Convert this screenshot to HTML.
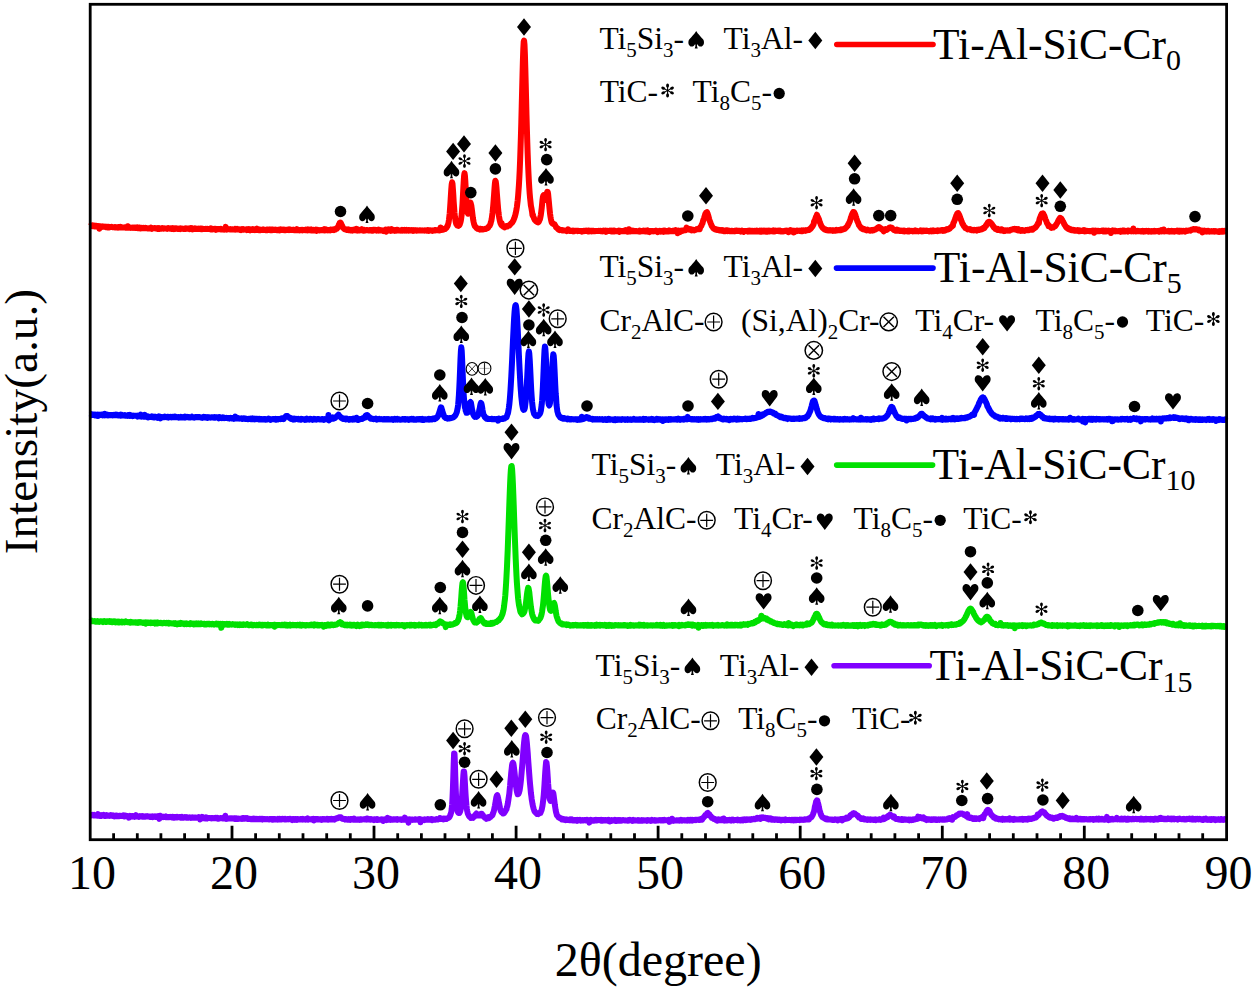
<!DOCTYPE html>
<html><head><meta charset="utf-8"><style>
html,body{margin:0;padding:0;background:#fff;width:1254px;height:988px;overflow:hidden}
svg{display:block}
text{font-family:"Liberation Serif",serif;fill:#000}
</style></head><body>
<svg width="1254" height="988" viewBox="0 0 1254 988">
<defs><g id="D"><path d="M0 -8.7L7 0L0 8.7L-7 0Z"/></g><g id="C"><circle r="5.8"/></g><g id="S"><path d="M0 -9.2C-1.6 -6.3 -4.8 -3.3 -6.8 -0.8C-8.4 1.3 -8.2 5.3 -5.6 6.3C-3.7 7 -2 5.8 -1 3.8L-0.75 6L-1.5 8.3L1.5 8.3L0.75 6L1 3.8C2 5.8 3.7 7 5.6 6.3C8.2 5.3 8.4 1.3 6.8 -0.8C4.8 -3.3 1.6 -6.3 0 -9.2Z"/></g><g id="H"><path d="M0 8.6L-7.2 -0.8C-8.5 -2.7 -8.3 -6.8 -5.5 -7.6C-3.3 -8.1 -1.2 -7.3 0 -4.6C1.2 -7.3 3.3 -8.1 5.5 -7.6C8.3 -6.8 8.5 -2.7 7.2 -0.8Z"/></g><g id="A"><path d="M-0.45 -0.40L-0.55 -2.90C-1.70 -3.40 -1.75 -6.60 0.00 -6.70C1.75 -6.60 1.70 -3.40 0.55 -2.90L0.45 -0.40ZM0.14 -0.59L2.30 -1.85C2.20 -3.10 5.01 -4.64 5.92 -3.15C6.65 -1.55 3.80 -0.10 2.82 -0.88L0.56 0.21ZM0.56 -0.21L2.82 0.88C3.80 0.10 6.65 1.55 5.92 3.15C5.01 4.64 2.20 3.10 2.30 1.85L0.14 0.59ZM0.45 0.40L0.55 2.90C1.70 3.40 1.75 6.60 0.00 6.70C-1.75 6.60 -1.70 3.40 -0.55 2.90L-0.45 0.40ZM-0.14 0.59L-2.30 1.85C-2.20 3.10 -5.01 4.64 -5.92 3.15C-6.65 1.55 -3.80 0.10 -2.82 0.88L-0.56 -0.21ZM-0.56 0.21L-2.82 -0.88C-3.80 -0.10 -6.65 -1.55 -5.92 -3.15C-5.01 -4.64 -2.20 -3.10 -2.30 -1.85L-0.14 -0.59Z"/><circle r="0.9"/></g><g id="P"><ellipse rx="8.4" ry="8.8" fill="none" stroke="#000" stroke-width="1.45"/><path d="M-6.4 0H6.4M0 -6.5V6.6" stroke="#000" stroke-width="1.2" fill="none"/></g><g id="X"><ellipse rx="8.7" ry="8.8" fill="none" stroke="#000" stroke-width="1.5"/><path d="M-5.2 -5.2L5.2 5.2M5.2 -5.2L-5.2 5.2" stroke="#000" stroke-width="1.4" fill="none"/></g><g id="p"><ellipse rx="6.4" ry="6.3" fill="none" stroke="#000" stroke-width="1.1"/><path d="M-5.2 0H5.2" stroke="#aaa" stroke-width="0.9"/><path d="M0 -5.4V5.4" stroke="#222" stroke-width="1.1" fill="none"/></g><g id="x"><ellipse rx="5.8" ry="6.4" fill="none" stroke="#000" stroke-width="1.1"/><path d="M-4 -4.3L4 4.3M4 -4.3L-4 4.3" stroke="#222" stroke-width="0.9" fill="none"/></g></defs>
<rect width="1254" height="988" fill="#fff"/>
<path d="M90.5 226.0L90.9 225.5L91.3 225.6L91.7 225.5L92.1 226.0L92.5 225.3L92.9 226.2L93.3 225.7L93.7 226.0L94.1 225.9L94.5 226.3L94.9 225.6L95.3 226.0L95.7 226.0L96.1 226.4L96.5 225.9L96.9 226.2L97.3 226.0L97.7 226.3L98.1 226.4L98.5 226.1L98.9 226.6L99.3 228.8L99.7 226.5L100.1 226.7L100.5 226.3L100.9 226.5L101.3 226.4L101.7 226.5L102.1 226.8L102.5 226.5L102.9 226.6L103.3 226.6L103.7 226.6L104.1 226.7L104.5 226.8L104.9 226.6L105.3 226.9L105.7 227.2L106.1 227.0L106.5 226.8L106.9 226.7L107.3 226.7L107.7 227.3L108.1 226.9L108.5 226.8L108.9 227.0L109.3 227.4L109.7 227.0L110.1 227.1L110.5 227.1L110.9 226.9L111.3 226.8L111.7 227.0L112.1 227.0L112.5 227.2L112.9 227.3L113.3 227.3L113.7 227.2L114.1 227.3L114.5 227.0L114.9 227.4L115.3 227.3L115.7 227.1L116.1 227.3L116.5 227.2L116.9 227.5L117.3 227.6L117.7 227.7L118.1 227.0L118.5 227.0L118.9 227.2L119.3 227.3L119.7 227.5L120.1 227.4L120.5 226.9L120.9 227.3L121.3 227.5L121.7 227.4L122.1 227.6L122.5 227.4L122.9 227.4L123.3 227.5L123.7 227.5L124.1 227.5L124.5 227.5L124.9 227.3L125.3 227.6L125.7 227.5L126.1 227.8L126.5 227.8L126.9 227.6L127.3 227.5L127.7 226.2L128.1 227.7L128.5 227.6L128.9 227.5L129.3 227.6L129.7 227.5L130.1 227.8L130.5 227.6L130.9 227.9L131.3 227.8L131.7 227.8L132.1 227.5L132.5 227.8L132.9 227.9L133.3 227.5L133.7 227.7L134.1 227.8L134.5 227.5L134.9 227.9L135.3 228.0L135.7 227.6L136.1 227.9L136.5 227.6L136.9 227.9L137.3 227.5L137.7 228.1L138.1 228.0L138.5 227.9L138.9 227.8L139.3 228.2L139.7 228.4L140.1 227.6L140.5 228.3L140.9 228.4L141.3 228.1L141.7 227.8L142.1 228.2L142.5 228.0L142.9 227.9L143.3 227.8L143.7 228.2L144.1 228.3L144.5 228.0L144.9 228.2L145.3 227.9L145.7 228.3L146.1 228.2L146.5 228.1L146.9 228.2L147.3 228.4L147.7 228.4L148.1 228.4L148.5 228.3L148.9 228.3L149.3 228.4L149.7 228.3L150.1 228.5L150.5 228.2L150.9 227.8L151.3 228.5L151.7 228.8L152.1 228.4L152.5 228.3L152.9 228.3L153.3 228.3L153.7 228.3L154.1 228.1L154.5 228.2L154.9 228.1L155.3 228.4L155.7 228.3L156.1 228.5L156.5 228.3L156.9 228.6L157.3 228.4L157.7 228.9L158.1 228.0L158.5 228.2L158.9 228.6L159.3 228.9L159.7 228.3L160.1 228.4L160.5 228.4L160.9 228.7L161.3 228.3L161.7 228.6L162.1 228.4L162.5 228.1L162.9 228.5L163.3 228.5L163.7 228.7L164.1 228.4L164.5 228.3L164.9 228.6L165.3 228.5L165.7 228.5L166.1 228.4L166.5 228.7L166.9 228.6L167.3 228.9L167.7 228.7L168.1 228.6L168.5 228.1L168.9 228.6L169.3 228.6L169.7 228.7L170.1 228.7L170.5 228.4L170.9 228.7L171.3 228.4L171.7 228.9L172.1 228.2L172.5 228.1L172.9 228.2L173.3 228.3L173.7 228.3L174.1 229.0L174.5 228.5L174.9 228.3L175.3 228.8L175.7 228.4L176.1 228.3L176.5 228.8L176.9 228.7L177.3 228.5L177.7 228.9L178.1 228.6L178.5 228.9L178.9 228.7L179.3 228.9L179.7 228.6L180.1 228.3L180.5 229.1L180.9 228.5L181.3 228.6L181.7 228.5L182.1 228.6L182.5 228.7L182.9 228.7L183.3 228.8L183.7 229.0L184.1 228.6L184.5 228.4L184.9 228.4L185.3 228.5L185.7 228.3L186.1 228.8L186.5 228.6L186.9 228.6L187.3 228.7L187.7 228.4L188.1 228.5L188.5 228.8L188.9 228.8L189.3 228.6L189.7 229.1L190.1 228.4L190.5 228.6L190.9 228.7L191.3 228.1L191.7 229.1L192.1 229.3L192.5 228.5L192.9 229.2L193.3 228.9L193.7 228.8L194.1 228.6L194.5 228.8L194.9 228.4L195.3 228.9L195.7 228.7L196.1 228.8L196.5 229.0L196.9 228.8L197.3 228.8L197.7 228.8L198.1 228.6L198.5 229.0L198.9 229.1L199.3 229.0L199.7 229.0L200.1 228.6L200.5 228.6L200.9 228.5L201.3 229.1L201.7 228.8L202.1 229.1L202.5 228.7L202.9 228.8L203.3 228.9L203.7 229.1L204.1 228.9L204.5 228.9L204.9 228.9L205.3 228.9L205.7 228.7L206.1 228.9L206.5 228.9L206.9 228.9L207.3 229.0L207.7 228.8L208.1 228.9L208.5 228.9L208.9 229.1L209.3 229.1L209.7 228.8L210.1 229.1L210.5 229.4L210.9 228.4L211.3 228.8L211.7 228.8L212.1 229.0L212.5 229.4L212.9 229.0L213.3 228.9L213.7 229.2L214.1 228.9L214.5 229.3L214.9 229.1L215.3 229.4L215.7 228.9L216.1 229.8L216.5 229.3L216.9 229.2L217.3 229.1L217.7 229.0L218.1 228.9L218.5 229.1L218.9 229.0L219.3 229.2L219.7 229.0L220.1 229.3L220.5 229.4L220.9 229.0L221.3 229.4L221.7 229.1L222.1 229.5L222.5 229.3L222.9 229.5L223.3 229.0L223.7 229.2L224.1 229.6L224.5 229.1L224.9 228.8L225.3 228.8L225.7 226.9L226.1 228.8L226.5 228.7L226.9 229.6L227.3 228.7L227.7 229.4L228.1 229.3L228.5 229.3L228.9 229.3L229.3 229.3L229.7 229.4L230.1 229.1L230.5 229.6L230.9 229.6L231.3 229.3L231.7 229.5L232.1 229.2L232.5 229.3L232.9 229.4L233.3 229.4L233.7 229.3L234.1 229.3L234.5 229.3L234.9 229.6L235.3 229.0L235.7 229.5L236.1 229.4L236.5 229.6L236.9 229.6L237.3 228.9L237.7 229.6L238.1 229.6L238.5 229.5L238.9 229.4L239.3 229.7L239.7 229.4L240.1 229.9L240.5 229.7L240.9 230.0L241.3 229.4L241.7 229.2L242.1 229.7L242.5 229.8L242.9 229.6L243.3 229.2L243.7 229.5L244.1 229.7L244.5 229.6L244.9 229.6L245.3 229.6L245.7 229.4L246.1 229.5L246.5 229.3L246.9 230.0L247.3 229.5L247.7 229.8L248.1 229.4L248.5 229.8L248.9 229.3L249.3 229.9L249.7 229.7L250.1 230.2L250.5 229.4L250.9 229.7L251.3 229.8L251.7 230.0L252.1 229.6L252.5 229.7L252.9 229.2L253.3 229.5L253.7 229.8L254.1 230.0L254.5 229.7L254.9 230.2L255.3 230.1L255.7 229.7L256.1 229.2L256.5 229.3L256.9 228.7L257.3 230.0L257.7 229.8L258.1 229.3L258.5 229.7L258.9 230.1L259.3 229.7L259.7 229.6L260.1 230.2L260.5 229.8L260.9 229.7L261.3 229.8L261.7 229.8L262.1 229.7L262.5 230.0L262.9 230.0L263.3 229.3L263.7 229.8L264.1 230.0L264.5 229.8L264.9 229.9L265.3 230.0L265.7 230.0L266.1 230.2L266.5 229.9L266.9 229.4L267.3 229.5L267.7 230.1L268.1 229.7L268.5 229.9L268.9 229.6L269.3 230.0L269.7 229.7L270.1 230.1L270.5 229.7L270.9 230.1L271.3 230.0L271.7 229.7L272.1 230.1L272.5 229.6L272.9 229.6L273.3 230.0L273.7 229.7L274.1 229.7L274.5 229.8L274.9 229.6L275.3 230.1L275.7 230.0L276.1 229.8L276.5 229.8L276.9 230.0L277.3 230.2L277.7 230.0L278.1 229.7L278.5 230.0L278.9 229.8L279.3 229.8L279.7 230.3L280.1 229.8L280.5 229.8L280.9 229.4L281.3 229.6L281.7 230.0L282.1 229.7L282.5 230.0L282.9 229.6L283.3 229.7L283.7 229.6L284.1 230.2L284.5 230.0L284.9 230.2L285.3 230.3L285.7 230.1L286.1 229.7L286.5 229.9L286.9 230.0L287.3 229.8L287.7 230.0L288.1 229.6L288.5 229.7L288.9 230.0L289.3 229.4L289.7 229.7L290.1 229.9L290.5 229.6L290.9 229.9L291.3 229.8L291.7 229.9L292.1 229.9L292.5 230.0L292.9 229.8L293.3 230.0L293.7 229.8L294.1 230.1L294.5 230.3L294.9 230.0L295.3 230.0L295.7 229.7L296.1 230.1L296.5 229.8L296.9 229.1L297.3 230.1L297.7 230.0L298.1 230.2L298.5 230.3L298.9 229.9L299.3 230.0L299.7 230.4L300.1 230.2L300.5 230.1L300.9 230.3L301.3 229.9L301.7 230.1L302.1 230.3L302.5 230.4L302.9 229.8L303.3 229.9L303.7 230.1L304.1 229.9L304.5 229.9L304.9 230.2L305.3 229.9L305.7 229.6L306.1 230.1L306.5 229.9L306.9 229.9L307.3 229.7L307.7 230.3L308.1 229.5L308.5 229.7L308.9 230.0L309.3 230.3L309.7 230.3L310.1 229.8L310.5 230.0L310.9 229.7L311.3 230.3L311.7 229.7L312.1 230.0L312.5 230.3L312.9 230.0L313.3 230.4L313.7 229.9L314.1 230.1L314.5 230.3L314.9 230.0L315.3 230.4L315.7 230.2L316.1 229.7L316.5 230.9L316.9 230.3L317.3 230.1L317.7 229.8L318.1 230.1L318.5 230.0L318.9 230.2L319.3 230.2L319.7 230.5L320.1 230.1L320.5 230.2L320.9 230.2L321.3 230.1L321.7 230.0L322.1 230.3L322.5 230.3L322.9 229.9L323.3 229.8L323.7 230.1L324.1 230.3L324.5 229.2L324.9 230.5L325.3 229.9L325.7 230.1L326.1 229.5L326.5 229.9L326.9 230.0L327.3 230.2L327.7 230.4L328.1 230.0L328.5 230.3L328.9 230.2L329.3 230.2L329.7 229.9L330.1 230.3L330.5 229.7L330.9 230.1L331.3 229.7L331.7 229.8L332.1 229.6L332.5 229.7L332.9 229.9L333.3 229.8L333.7 229.4L334.1 230.0L334.5 229.7L334.9 229.7L335.3 229.6L335.7 229.1L336.1 228.6L336.5 228.6L336.9 228.7L337.3 227.8L337.7 227.6L338.1 226.6L338.5 226.0L338.9 224.5L339.3 224.1L339.7 223.0L340.1 222.7L340.5 222.5L340.9 223.2L341.3 223.9L341.7 225.1L342.1 225.5L342.5 226.5L342.9 227.6L343.3 228.0L343.7 228.4L344.1 228.8L344.5 229.2L344.9 229.1L345.3 229.5L345.7 229.3L346.1 229.5L346.5 229.9L346.9 230.0L347.3 229.6L347.7 230.0L348.1 229.7L348.5 230.1L348.9 229.5L349.3 229.7L349.7 229.9L350.1 230.0L350.5 230.4L350.9 230.3L351.3 230.4L351.7 230.4L352.1 230.0L352.5 230.6L352.9 230.4L353.3 230.1L353.7 230.1L354.1 229.9L354.5 230.1L354.9 229.5L355.3 230.1L355.7 230.0L356.1 230.3L356.5 228.9L356.9 230.1L357.3 230.5L357.7 230.0L358.1 230.3L358.5 229.8L358.9 230.2L359.3 230.3L359.7 230.4L360.1 230.0L360.5 230.3L360.9 230.3L361.3 230.2L361.7 230.3L362.1 229.2L362.5 230.3L362.9 230.0L363.3 230.0L363.7 230.8L364.1 230.7L364.5 229.9L364.9 230.3L365.3 230.4L365.7 230.4L366.1 230.3L366.5 230.0L366.9 230.2L367.3 230.1L367.7 230.3L368.1 230.2L368.5 230.2L368.9 230.5L369.3 230.5L369.7 230.0L370.1 230.2L370.5 230.1L370.9 230.5L371.3 230.2L371.7 230.6L372.1 230.2L372.5 230.3L372.9 230.0L373.3 230.6L373.7 230.2L374.1 229.9L374.5 230.1L374.9 229.8L375.3 230.3L375.7 230.3L376.1 230.3L376.5 230.6L376.9 230.2L377.3 230.5L377.7 230.3L378.1 230.2L378.5 229.8L378.9 230.5L379.3 230.2L379.7 230.3L380.1 230.0L380.5 230.4L380.9 230.3L381.3 230.3L381.7 230.3L382.1 230.5L382.5 230.5L382.9 230.5L383.3 231.0L383.7 230.2L384.1 230.2L384.5 230.1L384.9 230.4L385.3 230.2L385.7 229.7L386.1 231.8L386.5 230.3L386.9 230.5L387.3 230.0L387.7 230.2L388.1 230.3L388.5 229.3L388.9 230.4L389.3 230.3L389.7 230.4L390.1 230.2L390.5 230.7L390.9 230.3L391.3 230.6L391.7 229.1L392.1 230.5L392.5 230.2L392.9 230.1L393.3 230.2L393.7 230.3L394.1 230.3L394.5 230.7L394.9 230.1L395.3 230.1L395.7 230.7L396.1 230.5L396.5 229.9L396.9 230.4L397.3 230.4L397.7 229.9L398.1 230.3L398.5 230.3L398.9 230.5L399.3 230.6L399.7 230.4L400.1 230.6L400.5 230.3L400.9 230.2L401.3 230.1L401.7 230.5L402.1 229.9L402.5 230.5L402.9 230.1L403.3 230.3L403.7 230.5L404.1 230.6L404.5 229.9L404.9 230.2L405.3 230.4L405.7 230.2L406.1 230.6L406.5 229.9L406.9 230.5L407.3 230.5L407.7 230.4L408.1 230.6L408.5 230.1L408.9 230.6L409.3 230.2L409.7 230.5L410.1 230.3L410.5 230.6L410.9 230.6L411.3 230.1L411.7 230.4L412.1 230.4L412.5 230.3L412.9 230.2L413.3 230.8L413.7 230.4L414.1 230.7L414.5 230.3L414.9 230.2L415.3 230.4L415.7 230.3L416.1 230.3L416.5 230.5L416.9 230.7L417.3 230.4L417.7 230.3L418.1 230.4L418.5 230.5L418.9 230.6L419.3 230.4L419.7 230.3L420.1 230.2L420.5 230.4L420.9 230.5L421.3 230.5L421.7 230.4L422.1 230.3L422.5 230.4L422.9 230.5L423.3 230.4L423.7 230.4L424.1 230.4L424.5 230.6L424.9 230.3L425.3 230.5L425.7 230.5L426.1 230.6L426.5 230.7L426.9 230.6L427.3 230.6L427.7 230.1L428.1 230.6L428.5 230.9L428.9 230.2L429.3 230.2L429.7 230.4L430.1 230.6L430.5 230.5L430.9 230.3L431.3 230.4L431.7 230.6L432.1 230.5L432.5 230.9L432.9 230.6L433.3 230.5L433.7 230.5L434.1 230.3L434.5 230.1L434.9 230.4L435.3 230.4L435.7 230.0L436.1 230.2L436.5 230.2L436.9 230.3L437.3 230.2L437.7 230.3L438.1 230.2L438.5 230.4L438.9 229.8L439.3 230.5L439.7 230.4L440.1 230.1L440.5 227.5L440.9 230.1L441.3 229.7L441.7 229.9L442.1 229.9L442.5 229.7L442.9 229.8L443.3 229.0L443.7 229.4L444.1 229.1L444.5 229.0L444.9 228.8L445.3 229.0L445.7 228.5L446.1 227.9L446.5 227.8L446.9 227.2L447.3 225.9L447.7 225.8L448.1 224.1L448.5 222.9L448.9 220.2L449.3 216.9L449.7 213.2L450.1 207.6L450.5 201.8L450.9 195.3L451.3 189.0L451.7 184.3L452.1 182.2L452.5 183.8L452.9 189.1L453.3 194.8L453.7 201.9L454.1 207.3L454.5 212.7L454.9 216.7L455.3 219.3L455.7 221.8L456.1 223.4L456.5 224.5L456.9 224.9L457.3 225.5L457.7 225.5L458.1 225.4L458.5 225.8L458.9 225.3L459.3 225.3L459.7 224.6L460.1 223.3L460.5 222.2L460.9 220.3L461.3 217.5L461.7 214.2L462.1 209.2L462.5 203.7L462.9 196.5L463.3 188.5L463.7 181.3L464.1 175.6L464.5 173.1L464.9 175.5L465.3 180.8L465.7 187.8L466.1 194.7L466.5 201.5L466.9 206.4L467.3 210.5L467.7 213.0L468.1 213.7L468.5 213.2L468.9 212.2L469.3 210.5L469.7 208.1L470.1 205.3L470.5 202.4L470.9 203.9L471.3 205.5L471.7 208.4L472.1 211.4L472.5 214.8L472.9 218.0L473.3 220.4L473.7 222.4L474.1 224.1L474.5 225.1L474.9 226.2L475.3 226.7L475.7 227.0L476.1 227.4L476.5 228.1L476.9 228.3L477.3 228.4L477.7 228.8L478.1 228.7L478.5 229.0L478.9 229.1L479.3 229.0L479.7 228.8L480.1 229.6L480.5 229.4L480.9 228.8L481.3 229.3L481.7 229.5L482.1 229.4L482.5 229.5L482.9 229.1L483.3 229.4L483.7 229.3L484.1 229.2L484.5 229.1L484.9 229.1L485.3 229.1L485.7 228.7L486.1 228.6L486.5 228.5L486.9 228.3L487.3 228.2L487.7 228.0L488.1 227.8L488.5 227.1L488.9 226.2L489.3 226.2L489.7 225.7L490.1 224.7L490.5 223.8L490.9 222.0L491.3 221.0L491.7 218.8L492.1 215.9L492.5 212.9L492.9 209.0L493.3 204.7L493.7 199.5L494.1 194.1L494.5 188.4L494.9 183.4L495.3 180.8L495.7 181.3L496.1 184.0L496.5 188.1L496.9 193.6L497.3 198.7L497.7 203.8L498.1 208.5L498.5 212.5L498.9 215.6L499.3 218.2L499.7 220.1L500.1 221.9L500.5 223.3L500.9 223.9L501.3 225.0L501.7 223.2L502.1 225.4L502.5 226.0L502.9 226.1L503.3 226.6L503.7 226.3L504.1 226.9L504.5 226.7L504.9 227.3L505.3 226.6L505.7 226.6L506.1 226.7L506.5 226.1L506.9 226.6L507.3 226.5L507.7 226.2L508.1 225.7L508.5 225.5L508.9 225.7L509.3 225.6L509.7 225.4L510.1 224.5L510.5 224.1L510.9 223.9L511.3 223.1L511.7 222.9L512.1 222.6L512.5 222.2L512.9 221.2L513.3 220.8L513.7 219.7L514.1 218.7L514.5 217.5L514.9 216.4L515.3 214.9L515.7 213.3L516.1 211.4L516.5 209.4L516.9 206.9L517.3 203.6L517.7 200.3L518.1 195.9L518.5 190.7L518.9 185.3L519.3 178.4L519.7 170.3L520.1 160.5L520.5 148.8L520.9 136.6L521.3 122.5L521.7 106.6L522.1 91.2L522.5 75.2L522.9 60.5L523.3 48.9L523.7 41.7L524.1 40.5L524.5 44.5L524.9 54.1L525.3 67.5L525.7 82.9L526.1 98.6L526.5 115.0L526.9 129.5L527.3 142.9L527.7 154.7L528.1 165.0L528.5 173.9L528.9 181.6L529.3 188.1L529.7 193.8L530.1 198.2L530.5 201.9L530.9 205.6L531.3 207.5L531.7 209.8L532.1 212.1L532.5 215.4L532.9 214.7L533.3 216.3L533.7 217.3L534.1 218.6L534.5 219.0L534.9 220.1L535.3 220.5L535.7 220.9L536.1 221.3L536.5 221.7L536.9 221.4L537.3 222.1L537.7 222.0L538.1 222.4L538.5 221.7L538.9 221.7L539.3 220.2L539.7 220.0L540.1 218.6L540.5 216.7L540.9 214.4L541.3 211.4L541.7 208.1L542.1 204.1L542.5 199.8L542.9 196.9L543.3 195.7L543.7 195.2L544.1 196.5L544.5 197.9L544.9 199.3L545.3 199.7L545.7 199.0L546.1 197.6L546.5 195.0L546.9 193.0L547.3 191.8L547.7 191.9L548.1 193.9L548.5 198.0L548.9 202.0L549.3 206.5L549.7 210.5L550.1 214.1L550.5 216.8L550.9 219.1L551.3 221.0L551.7 222.5L552.1 222.8L552.5 223.5L552.9 223.6L553.3 223.8L553.7 224.2L554.1 224.1L554.5 224.3L554.9 225.0L555.3 225.7L555.7 226.5L556.1 227.3L556.5 227.4L556.9 227.9L557.3 228.3L557.7 228.5L558.1 229.4L558.5 229.3L558.9 229.9L559.3 229.3L559.7 230.0L560.1 229.7L560.5 229.9L560.9 229.8L561.3 229.9L561.7 229.9L562.1 230.3L562.5 230.0L562.9 230.3L563.3 230.4L563.7 230.6L564.1 230.5L564.5 230.6L564.9 230.6L565.3 230.6L565.7 230.7L566.1 230.4L566.5 230.5L566.9 231.1L567.3 230.7L567.7 230.5L568.1 229.4L568.5 230.7L568.9 230.6L569.3 230.4L569.7 230.9L570.1 230.5L570.5 230.7L570.9 230.9L571.3 230.8L571.7 230.8L572.1 230.8L572.5 231.1L572.9 231.3L573.3 230.7L573.7 231.0L574.1 231.3L574.5 231.1L574.9 230.7L575.3 230.8L575.7 230.7L576.1 230.7L576.5 230.7L576.9 230.9L577.3 230.8L577.7 231.1L578.1 230.9L578.5 230.8L578.9 231.1L579.3 231.0L579.7 231.0L580.1 231.1L580.5 231.0L580.9 230.9L581.3 231.1L581.7 231.0L582.1 231.6L582.5 231.2L582.9 231.2L583.3 231.2L583.7 230.9L584.1 231.2L584.5 230.9L584.9 230.7L585.3 230.8L585.7 231.0L586.1 230.6L586.5 231.0L586.9 230.8L587.3 231.1L587.7 230.8L588.1 231.3L588.5 231.1L588.9 230.7L589.3 231.3L589.7 230.9L590.1 230.8L590.5 230.7L590.9 231.1L591.3 231.3L591.7 230.8L592.1 230.7L592.5 230.7L592.9 231.3L593.3 231.3L593.7 230.9L594.1 231.1L594.5 231.0L594.9 230.9L595.3 231.2L595.7 231.1L596.1 231.0L596.5 230.9L596.9 231.1L597.3 230.9L597.7 231.0L598.1 231.0L598.5 230.7L598.9 230.9L599.3 230.9L599.7 231.0L600.1 230.7L600.5 230.7L600.9 231.3L601.3 231.2L601.7 231.2L602.1 231.4L602.5 231.1L602.9 231.0L603.3 231.1L603.7 230.6L604.1 230.7L604.5 231.2L604.9 231.0L605.3 230.7L605.7 231.1L606.1 231.9L606.5 231.1L606.9 231.0L607.3 230.8L607.7 231.0L608.1 231.1L608.5 230.9L608.9 231.1L609.3 231.1L609.7 231.1L610.1 230.6L610.5 231.2L610.9 231.4L611.3 230.9L611.7 230.7L612.1 231.2L612.5 230.9L612.9 230.8L613.3 231.3L613.7 230.7L614.1 231.2L614.5 230.7L614.9 231.3L615.3 231.1L615.7 231.0L616.1 231.1L616.5 231.2L616.9 231.2L617.3 231.2L617.7 231.2L618.1 230.9L618.5 231.2L618.9 230.7L619.3 231.9L619.7 231.2L620.1 231.3L620.5 230.9L620.9 231.1L621.3 231.2L621.7 231.1L622.1 231.0L622.5 231.1L622.9 231.1L623.3 231.3L623.7 230.9L624.1 231.1L624.5 231.1L624.9 231.2L625.3 231.0L625.7 230.2L626.1 231.0L626.5 231.1L626.9 231.1L627.3 231.0L627.7 231.7L628.1 230.9L628.5 230.8L628.9 229.2L629.3 230.9L629.7 231.1L630.1 231.4L630.5 231.4L630.9 231.1L631.3 230.5L631.7 231.2L632.1 230.8L632.5 231.0L632.9 230.8L633.3 231.2L633.7 230.9L634.1 231.3L634.5 231.2L634.9 231.0L635.3 231.1L635.7 231.3L636.1 231.0L636.5 231.3L636.9 231.1L637.3 231.2L637.7 231.3L638.1 231.4L638.5 231.2L638.9 231.1L639.3 231.3L639.7 230.8L640.1 231.5L640.5 230.8L640.9 231.3L641.3 231.0L641.7 231.2L642.1 231.1L642.5 231.2L642.9 230.9L643.3 230.6L643.7 231.2L644.1 231.0L644.5 231.0L644.9 230.9L645.3 231.5L645.7 231.3L646.1 231.2L646.5 230.8L646.9 231.4L647.3 231.0L647.7 230.5L648.1 231.7L648.5 230.9L648.9 231.4L649.3 231.3L649.7 232.0L650.1 231.0L650.5 231.1L650.9 231.4L651.3 231.0L651.7 231.2L652.1 231.3L652.5 231.1L652.9 231.0L653.3 231.4L653.7 231.2L654.1 231.1L654.5 230.9L654.9 230.9L655.3 231.3L655.7 231.3L656.1 230.6L656.5 231.0L656.9 231.3L657.3 231.6L657.7 232.1L658.1 231.3L658.5 231.4L658.9 231.0L659.3 231.3L659.7 230.8L660.1 231.0L660.5 231.2L660.9 231.6L661.3 231.3L661.7 231.1L662.1 231.0L662.5 230.8L662.9 231.2L663.3 231.0L663.7 231.8L664.1 230.9L664.5 231.1L664.9 230.7L665.3 231.2L665.7 231.4L666.1 231.3L666.5 231.5L666.9 231.1L667.3 231.2L667.7 231.2L668.1 230.9L668.5 231.5L668.9 231.3L669.3 230.4L669.7 230.9L670.1 231.2L670.5 231.2L670.9 231.1L671.3 231.1L671.7 231.0L672.1 231.0L672.5 231.3L672.9 231.3L673.3 230.7L673.7 231.1L674.1 230.8L674.5 230.7L674.9 231.1L675.3 230.8L675.7 230.3L676.1 231.1L676.5 231.3L676.9 231.4L677.3 230.9L677.7 233.2L678.1 230.4L678.5 230.7L678.9 231.0L679.3 231.0L679.7 231.2L680.1 232.1L680.5 230.8L680.9 231.2L681.3 230.9L681.7 231.1L682.1 230.5L682.5 230.7L682.9 230.5L683.3 230.7L683.7 230.4L684.1 230.3L684.5 230.0L684.9 230.2L685.3 230.2L685.7 230.0L686.1 228.9L686.5 227.7L686.9 229.5L687.3 228.8L687.7 228.7L688.1 229.0L688.5 228.8L688.9 228.7L689.3 229.0L689.7 229.7L690.1 229.1L690.5 229.9L690.9 229.7L691.3 229.8L691.7 230.3L692.1 229.8L692.5 230.2L692.9 230.0L693.3 229.7L693.7 230.0L694.1 230.3L694.5 229.9L694.9 230.0L695.3 229.9L695.7 229.8L696.1 229.6L696.5 229.6L696.9 229.0L697.3 229.2L697.7 228.8L698.1 229.1L698.5 228.9L698.9 228.4L699.3 228.4L699.7 229.2L700.1 227.5L700.5 226.9L700.9 226.5L701.3 226.0L701.7 224.8L702.1 223.9L702.5 223.3L702.9 221.5L703.3 220.2L703.7 219.0L704.1 218.1L704.5 216.6L704.9 215.3L705.3 214.0L705.7 213.3L706.1 212.7L706.5 212.4L706.9 212.1L707.3 213.1L707.7 213.8L708.1 215.1L708.5 216.4L708.9 218.0L709.3 219.6L709.7 220.8L710.1 221.7L710.5 222.8L710.9 223.9L711.3 224.8L711.7 225.9L712.1 226.4L712.5 227.0L712.9 227.5L713.3 228.2L713.7 228.6L714.1 228.7L714.5 228.8L714.9 229.4L715.3 229.4L715.7 229.3L716.1 229.8L716.5 229.7L716.9 229.5L717.3 230.0L717.7 230.1L718.1 229.7L718.5 229.7L718.9 230.2L719.3 230.4L719.7 230.5L720.1 230.1L720.5 230.4L720.9 230.6L721.3 230.2L721.7 230.6L722.1 230.6L722.5 230.8L722.9 230.1L723.3 230.7L723.7 231.1L724.1 230.6L724.5 230.7L724.9 231.0L725.3 230.6L725.7 231.1L726.1 230.9L726.5 230.5L726.9 230.9L727.3 230.5L727.7 231.1L728.1 230.5L728.5 230.5L728.9 230.7L729.3 230.7L729.7 231.2L730.1 230.9L730.5 231.0L730.9 231.2L731.3 230.8L731.7 230.8L732.1 230.8L732.5 231.2L732.9 231.3L733.3 231.1L733.7 230.9L734.1 230.9L734.5 230.8L734.9 231.2L735.3 230.8L735.7 231.0L736.1 230.8L736.5 230.6L736.9 230.5L737.3 230.8L737.7 231.1L738.1 231.0L738.5 231.0L738.9 230.8L739.3 230.8L739.7 230.8L740.1 231.1L740.5 231.5L740.9 231.0L741.3 230.8L741.7 231.3L742.1 230.8L742.5 231.2L742.9 231.0L743.3 231.1L743.7 231.8L744.1 230.9L744.5 230.9L744.9 231.2L745.3 231.1L745.7 231.0L746.1 230.9L746.5 231.2L746.9 231.3L747.3 230.9L747.7 230.8L748.1 231.5L748.5 230.8L748.9 231.2L749.3 231.2L749.7 230.8L750.1 231.3L750.5 230.8L750.9 230.9L751.3 230.8L751.7 231.3L752.1 231.0L752.5 231.3L752.9 230.9L753.3 231.2L753.7 231.4L754.1 231.1L754.5 230.8L754.9 231.0L755.3 231.4L755.7 231.3L756.1 231.0L756.5 230.7L756.9 231.3L757.3 231.5L757.7 231.5L758.1 231.2L758.5 231.1L758.9 230.9L759.3 231.0L759.7 230.7L760.1 231.6L760.5 231.1L760.9 231.6L761.3 231.1L761.7 230.7L762.1 231.5L762.5 230.9L762.9 231.0L763.3 231.5L763.7 231.4L764.1 230.7L764.5 231.1L764.9 230.9L765.3 231.2L765.7 231.5L766.1 231.0L766.5 231.4L766.9 230.9L767.3 231.6L767.7 230.9L768.1 231.0L768.5 231.2L768.9 230.8L769.3 231.4L769.7 230.9L770.1 231.2L770.5 230.8L770.9 231.1L771.3 231.1L771.7 231.0L772.1 231.2L772.5 230.8L772.9 231.4L773.3 231.1L773.7 230.5L774.1 231.5L774.5 231.2L774.9 231.4L775.3 231.1L775.7 230.6L776.1 231.0L776.5 230.8L776.9 231.1L777.3 231.0L777.7 231.1L778.1 230.7L778.5 231.1L778.9 231.0L779.3 231.2L779.7 230.7L780.1 231.0L780.5 231.4L780.9 230.8L781.3 231.2L781.7 231.4L782.1 231.1L782.5 231.3L782.9 231.3L783.3 231.4L783.7 231.0L784.1 231.0L784.5 231.2L784.9 230.9L785.3 231.1L785.7 230.9L786.1 230.6L786.5 231.1L786.9 231.4L787.3 231.0L787.7 230.7L788.1 231.0L788.5 232.1L788.9 231.1L789.3 231.3L789.7 231.5L790.1 231.2L790.5 230.0L790.9 230.7L791.3 231.3L791.7 231.1L792.1 230.9L792.5 230.8L792.9 230.8L793.3 231.3L793.7 232.5L794.1 230.7L794.5 231.2L794.9 231.1L795.3 230.9L795.7 231.1L796.1 230.8L796.5 231.1L796.9 230.6L797.3 230.7L797.7 230.6L798.1 230.8L798.5 230.7L798.9 230.8L799.3 230.8L799.7 231.0L800.1 230.8L800.5 230.8L800.9 231.1L801.3 230.7L801.7 230.4L802.1 230.9L802.5 231.1L802.9 230.7L803.3 230.8L803.7 230.4L804.1 230.6L804.5 230.6L804.9 230.5L805.3 230.3L805.7 230.7L806.1 230.3L806.5 230.4L806.9 230.2L807.3 230.2L807.7 230.2L808.1 229.8L808.5 229.9L808.9 230.0L809.3 229.8L809.7 229.4L810.1 229.3L810.5 228.4L810.9 228.6L811.3 227.9L811.7 227.0L812.1 226.9L812.5 226.4L812.9 225.3L813.3 225.0L813.7 223.9L814.1 221.3L814.5 221.6L814.9 220.1L815.3 218.8L815.7 217.7L816.1 216.6L816.5 215.8L816.9 214.7L817.3 216.0L817.7 216.6L818.1 217.5L818.5 218.1L818.9 219.4L819.3 220.5L819.7 222.1L820.1 222.7L820.5 223.8L820.9 224.8L821.3 225.8L821.7 226.4L822.1 227.1L822.5 227.6L822.9 228.1L823.3 228.2L823.7 228.6L824.1 229.1L824.5 229.2L824.9 229.6L825.3 229.4L825.7 229.9L826.1 230.1L826.5 229.8L826.9 230.0L827.3 230.1L827.7 230.2L828.1 230.2L828.5 230.5L828.9 230.3L829.3 230.4L829.7 230.4L830.1 230.1L830.5 230.4L830.9 230.3L831.3 230.2L831.7 230.2L832.1 230.4L832.5 230.3L832.9 230.9L833.3 230.8L833.7 230.4L834.1 230.6L834.5 230.7L834.9 230.4L835.3 230.8L835.7 230.6L836.1 230.3L836.5 229.9L836.9 230.1L837.3 230.4L837.7 230.2L838.1 230.2L838.5 230.0L838.9 230.2L839.3 230.0L839.7 229.7L840.1 229.9L840.5 229.8L840.9 229.5L841.3 230.1L841.7 229.7L842.1 229.6L842.5 229.7L842.9 229.4L843.3 229.4L843.7 228.8L844.1 228.7L844.5 228.9L844.9 228.9L845.3 228.3L845.7 228.0L846.1 227.5L846.5 227.2L846.9 226.6L847.3 226.2L847.7 225.8L848.1 224.5L848.5 224.3L848.9 223.2L849.3 222.3L849.7 221.7L850.1 220.4L850.5 219.3L850.9 217.5L851.3 216.6L851.7 215.3L852.1 214.2L852.5 213.5L852.9 212.8L853.3 212.0L853.7 211.9L854.1 212.1L854.5 213.2L854.9 213.7L855.3 214.8L855.7 216.0L856.1 217.1L856.5 218.6L856.9 219.8L857.3 221.1L857.7 221.9L858.1 222.9L858.5 223.7L858.9 225.0L859.3 225.6L859.7 226.0L860.1 226.7L860.5 226.9L860.9 227.9L861.3 227.7L861.7 228.1L862.1 228.3L862.5 229.0L862.9 228.9L863.3 229.3L863.7 229.2L864.1 229.1L864.5 229.7L864.9 229.5L865.3 229.4L865.7 229.7L866.1 230.0L866.5 230.3L866.9 229.7L867.3 229.6L867.7 230.0L868.1 230.2L868.5 230.1L868.9 230.3L869.3 230.4L869.7 230.7L870.1 230.3L870.5 230.6L870.9 230.2L871.3 230.2L871.7 230.4L872.1 230.1L872.5 230.0L872.9 230.5L873.3 229.8L873.7 230.2L874.1 230.0L874.5 229.9L874.9 229.6L875.3 229.3L875.7 229.4L876.1 229.0L876.5 228.9L876.9 228.7L877.3 228.1L877.7 227.7L878.1 227.6L878.5 227.2L878.9 227.0L879.3 227.2L879.7 227.5L880.1 228.2L880.5 228.5L880.9 228.2L881.3 228.5L881.7 229.2L882.1 229.5L882.5 229.6L882.9 230.3L883.3 230.2L883.7 231.4L884.1 230.0L884.5 229.9L884.9 229.9L885.3 230.1L885.7 229.0L886.1 229.8L886.5 229.8L886.9 229.9L887.3 229.4L887.7 228.9L888.1 228.8L888.5 228.6L888.9 228.3L889.3 227.6L889.7 227.6L890.1 227.6L890.5 227.3L890.9 227.4L891.3 227.4L891.7 227.8L892.1 227.9L892.5 228.8L892.9 229.0L893.3 229.4L893.7 229.8L894.1 229.7L894.5 230.3L894.9 230.3L895.3 230.7L895.7 230.5L896.1 230.6L896.5 230.6L896.9 229.6L897.3 230.3L897.7 230.7L898.1 230.7L898.5 230.5L898.9 230.7L899.3 230.4L899.7 230.9L900.1 230.6L900.5 231.0L900.9 230.9L901.3 230.8L901.7 230.6L902.1 230.8L902.5 231.1L902.9 231.0L903.3 231.2L903.7 230.8L904.1 231.4L904.5 231.0L904.9 230.8L905.3 231.3L905.7 231.3L906.1 231.0L906.5 230.9L906.9 231.2L907.3 230.9L907.7 231.3L908.1 230.7L908.5 231.0L908.9 231.1L909.3 231.3L909.7 230.7L910.1 231.1L910.5 231.0L910.9 231.1L911.3 230.9L911.7 230.8L912.1 231.0L912.5 231.0L912.9 231.4L913.3 231.1L913.7 231.1L914.1 231.2L914.5 230.7L914.9 230.5L915.3 231.3L915.7 231.3L916.1 231.0L916.5 230.8L916.9 230.8L917.3 231.1L917.7 231.2L918.1 231.3L918.5 231.4L918.9 231.2L919.3 231.1L919.7 231.1L920.1 231.0L920.5 230.4L920.9 231.2L921.3 231.1L921.7 230.8L922.1 231.3L922.5 230.7L922.9 231.3L923.3 231.3L923.7 230.7L924.1 231.0L924.5 230.8L924.9 231.0L925.3 231.1L925.7 231.0L926.1 230.7L926.5 231.1L926.9 231.1L927.3 231.0L927.7 230.8L928.1 230.9L928.5 231.0L928.9 230.9L929.3 231.4L929.7 231.0L930.1 230.9L930.5 231.1L930.9 230.7L931.3 231.0L931.7 231.3L932.1 230.7L932.5 231.0L932.9 231.1L933.3 230.5L933.7 231.2L934.1 230.6L934.5 230.8L934.9 230.9L935.3 230.8L935.7 231.0L936.1 230.8L936.5 230.9L936.9 230.8L937.3 231.1L937.7 230.3L938.1 230.8L938.5 230.6L938.9 230.5L939.3 230.5L939.7 230.5L940.1 230.7L940.5 230.4L940.9 230.5L941.3 230.6L941.7 230.2L942.1 230.7L942.5 230.9L942.9 230.2L943.3 230.5L943.7 230.2L944.1 230.3L944.5 230.1L944.9 230.6L945.3 229.9L945.7 230.1L946.1 230.0L946.5 229.5L946.9 229.2L947.3 229.7L947.7 229.6L948.1 229.1L948.5 228.9L948.9 229.1L949.3 228.9L949.7 228.6L950.1 228.2L950.5 227.6L950.9 227.1L951.3 227.0L951.7 226.4L952.1 226.3L952.5 225.3L952.9 225.7L953.3 223.3L953.7 222.6L954.1 221.7L954.5 220.6L954.9 219.7L955.3 218.3L955.7 217.4L956.1 216.1L956.5 215.0L956.9 214.5L957.3 213.4L957.7 213.2L958.1 213.0L958.5 213.6L958.9 214.4L959.3 215.2L959.7 216.2L960.1 217.4L960.5 218.5L960.9 219.7L961.3 220.7L961.7 221.5L962.1 222.8L962.5 223.8L962.9 224.2L963.3 225.2L963.7 226.0L964.1 226.3L964.5 226.6L964.9 227.3L965.3 228.0L965.7 227.8L966.1 228.3L966.5 228.4L966.9 228.7L967.3 229.0L967.7 229.4L968.1 229.1L968.5 229.2L968.9 229.3L969.3 229.3L969.7 229.1L970.1 229.6L970.5 229.8L970.9 229.9L971.3 230.2L971.7 229.8L972.1 229.8L972.5 229.9L972.9 230.1L973.3 230.0L973.7 230.3L974.1 229.9L974.5 230.3L974.9 230.3L975.3 230.1L975.7 230.0L976.1 230.2L976.5 229.9L976.9 230.5L977.3 230.1L977.7 230.2L978.1 229.7L978.5 229.6L978.9 230.1L979.3 230.0L979.7 229.6L980.1 229.6L980.5 229.5L980.9 229.6L981.3 229.6L981.7 228.9L982.1 229.2L982.5 228.7L982.9 228.5L983.3 228.3L983.7 227.7L984.1 228.3L984.5 227.8L984.9 227.0L985.3 226.5L985.7 225.6L986.1 225.8L986.5 224.7L986.9 224.0L987.3 223.7L987.7 223.0L988.1 222.2L988.5 222.0L988.9 221.7L989.3 221.7L989.7 221.9L990.1 222.2L990.5 222.7L990.9 222.9L991.3 223.7L991.7 224.5L992.1 224.4L992.5 225.5L992.9 225.6L993.3 226.1L993.7 227.3L994.1 227.6L994.5 227.9L994.9 228.0L995.3 228.8L995.7 228.4L996.1 229.0L996.5 229.3L996.9 229.7L997.3 229.2L997.7 229.0L998.1 229.8L998.5 230.0L998.9 230.0L999.3 229.9L999.7 230.1L1000.1 229.9L1000.5 229.6L1000.9 230.5L1001.3 229.2L1001.7 230.0L1002.1 230.4L1002.5 230.4L1002.9 230.5L1003.3 230.8L1003.7 230.5L1004.1 231.0L1004.5 230.6L1004.9 230.3L1005.3 230.8L1005.7 230.5L1006.1 230.4L1006.5 230.6L1006.9 230.5L1007.3 230.2L1007.7 230.3L1008.1 230.7L1008.5 230.4L1008.9 230.5L1009.3 230.5L1009.7 230.6L1010.1 230.0L1010.5 229.9L1010.9 229.7L1011.3 229.7L1011.7 229.5L1012.1 229.6L1012.5 229.4L1012.9 229.5L1013.3 229.0L1013.7 229.1L1014.1 229.3L1014.5 229.4L1014.9 228.8L1015.3 229.3L1015.7 229.4L1016.1 229.2L1016.5 229.8L1016.9 230.1L1017.3 229.5L1017.7 229.7L1018.1 230.3L1018.5 229.0L1018.9 230.0L1019.3 230.1L1019.7 230.5L1020.1 230.4L1020.5 230.3L1020.9 230.8L1021.3 230.5L1021.7 230.1L1022.1 230.6L1022.5 230.2L1022.9 230.7L1023.3 230.7L1023.7 230.6L1024.1 230.7L1024.5 230.9L1024.9 230.6L1025.3 230.3L1025.7 230.1L1026.1 230.0L1026.5 230.1L1026.9 230.0L1027.3 230.2L1027.7 229.8L1028.1 229.9L1028.5 230.2L1028.9 230.0L1029.3 229.9L1029.7 229.9L1030.1 229.4L1030.5 229.8L1030.9 229.7L1031.3 229.6L1031.7 229.6L1032.1 228.9L1032.5 229.7L1032.9 229.0L1033.3 228.6L1033.7 228.7L1034.1 228.2L1034.5 228.2L1034.9 228.0L1035.3 227.2L1035.7 227.3L1036.1 226.6L1036.5 226.1L1036.9 225.5L1037.3 224.9L1037.7 224.2L1038.1 223.3L1038.5 222.3L1038.9 223.3L1039.3 220.2L1039.7 218.5L1040.1 217.5L1040.5 216.6L1040.9 215.4L1041.3 214.9L1041.7 213.9L1042.1 213.4L1042.5 213.4L1042.9 213.3L1043.3 213.7L1043.7 214.8L1044.1 215.1L1044.5 216.3L1044.9 217.5L1045.3 218.9L1045.7 219.8L1046.1 220.6L1046.5 221.6L1046.9 223.1L1047.3 223.6L1047.7 224.1L1048.1 224.8L1048.5 226.2L1048.9 226.2L1049.3 225.9L1049.7 226.5L1050.1 227.0L1050.5 227.0L1050.9 227.5L1051.3 227.8L1051.7 227.4L1052.1 227.5L1052.5 227.4L1052.9 227.5L1053.3 227.5L1053.7 227.2L1054.1 226.5L1054.5 226.6L1054.9 226.0L1055.3 226.1L1055.7 225.3L1056.1 224.9L1056.5 224.1L1056.9 223.4L1057.3 222.8L1057.7 221.9L1058.1 221.5L1058.5 220.1L1058.9 219.8L1059.3 218.9L1059.7 218.7L1060.1 217.8L1060.5 218.4L1060.9 218.2L1061.3 218.3L1061.7 219.3L1062.1 219.8L1062.5 220.7L1062.9 221.7L1063.3 222.0L1063.7 222.9L1064.1 223.9L1064.5 224.7L1064.9 225.1L1065.3 225.7L1065.7 226.6L1066.1 227.2L1066.5 227.7L1066.9 227.8L1067.3 227.6L1067.7 228.6L1068.1 228.9L1068.5 228.1L1068.9 229.2L1069.3 229.4L1069.7 229.6L1070.1 229.5L1070.5 229.8L1070.9 230.0L1071.3 229.5L1071.7 230.2L1072.1 230.0L1072.5 230.3L1072.9 230.1L1073.3 229.9L1073.7 230.6L1074.1 230.7L1074.5 230.0L1074.9 230.2L1075.3 230.5L1075.7 230.3L1076.1 230.7L1076.5 230.4L1076.9 230.5L1077.3 230.7L1077.7 230.2L1078.1 230.6L1078.5 231.2L1078.9 230.9L1079.3 230.5L1079.7 231.0L1080.1 231.2L1080.5 231.1L1080.9 230.7L1081.3 230.7L1081.7 230.8L1082.1 230.6L1082.5 230.9L1082.9 230.7L1083.3 230.7L1083.7 231.0L1084.1 230.0L1084.5 230.9L1084.9 231.4L1085.3 231.0L1085.7 231.2L1086.1 231.0L1086.5 231.1L1086.9 230.7L1087.3 230.9L1087.7 230.9L1088.1 230.9L1088.5 230.9L1088.9 231.0L1089.3 231.0L1089.7 231.2L1090.1 231.0L1090.5 231.3L1090.9 231.0L1091.3 230.9L1091.7 230.7L1092.1 230.9L1092.5 231.0L1092.9 231.3L1093.3 230.8L1093.7 231.3L1094.1 232.8L1094.5 230.9L1094.9 230.8L1095.3 231.2L1095.7 230.6L1096.1 231.0L1096.5 231.0L1096.9 231.0L1097.3 231.2L1097.7 230.9L1098.1 231.1L1098.5 230.8L1098.9 231.1L1099.3 231.2L1099.7 231.0L1100.1 231.2L1100.5 231.1L1100.9 231.0L1101.3 231.1L1101.7 231.0L1102.1 230.6L1102.5 230.7L1102.9 231.2L1103.3 230.6L1103.7 231.3L1104.1 230.8L1104.5 231.4L1104.9 231.2L1105.3 230.9L1105.7 231.3L1106.1 230.8L1106.5 231.3L1106.9 231.1L1107.3 231.1L1107.7 231.3L1108.1 231.2L1108.5 230.8L1108.9 231.4L1109.3 231.3L1109.7 231.1L1110.1 231.1L1110.5 231.4L1110.9 233.0L1111.3 231.2L1111.7 230.8L1112.1 231.1L1112.5 231.3L1112.9 230.4L1113.3 230.8L1113.7 231.1L1114.1 231.1L1114.5 231.2L1114.9 231.4L1115.3 230.6L1115.7 231.1L1116.1 231.1L1116.5 231.1L1116.9 231.1L1117.3 231.3L1117.7 231.2L1118.1 231.1L1118.5 231.1L1118.9 231.1L1119.3 231.1L1119.7 231.4L1120.1 230.7L1120.5 230.8L1120.9 231.8L1121.3 231.2L1121.7 231.2L1122.1 231.4L1122.5 230.7L1122.9 231.4L1123.3 230.8L1123.7 230.9L1124.1 231.3L1124.5 230.8L1124.9 231.2L1125.3 231.4L1125.7 231.0L1126.1 231.0L1126.5 231.2L1126.9 231.3L1127.3 231.2L1127.7 230.8L1128.1 231.5L1128.5 231.2L1128.9 230.6L1129.3 230.9L1129.7 230.9L1130.1 230.9L1130.5 231.2L1130.9 230.9L1131.3 231.4L1131.7 231.3L1132.1 231.1L1132.5 230.9L1132.9 231.1L1133.3 228.4L1133.7 231.4L1134.1 231.0L1134.5 231.1L1134.9 230.9L1135.3 231.0L1135.7 231.4L1136.1 231.5L1136.5 231.0L1136.9 231.1L1137.3 231.0L1137.7 230.8L1138.1 231.2L1138.5 231.2L1138.9 231.3L1139.3 231.1L1139.7 231.3L1140.1 231.2L1140.5 231.4L1140.9 231.2L1141.3 231.5L1141.7 231.4L1142.1 231.2L1142.5 230.9L1142.9 231.3L1143.3 231.2L1143.7 231.6L1144.1 231.3L1144.5 230.9L1144.9 231.0L1145.3 231.4L1145.7 231.1L1146.1 230.9L1146.5 231.3L1146.9 231.3L1147.3 231.1L1147.7 231.4L1148.1 231.1L1148.5 231.6L1148.9 230.9L1149.3 231.4L1149.7 231.4L1150.1 231.5L1150.5 231.2L1150.9 231.1L1151.3 231.6L1151.7 231.3L1152.1 231.1L1152.5 231.4L1152.9 231.5L1153.3 231.3L1153.7 231.0L1154.1 231.4L1154.5 230.9L1154.9 231.4L1155.3 231.4L1155.7 231.1L1156.1 231.3L1156.5 231.2L1156.9 231.1L1157.3 231.0L1157.7 231.1L1158.1 231.1L1158.5 231.5L1158.9 230.9L1159.3 231.6L1159.7 231.2L1160.1 231.0L1160.5 231.1L1160.9 231.0L1161.3 230.2L1161.7 231.4L1162.1 231.2L1162.5 231.0L1162.9 230.9L1163.3 231.1L1163.7 229.5L1164.1 231.5L1164.5 230.8L1164.9 231.0L1165.3 231.0L1165.7 231.3L1166.1 231.3L1166.5 231.2L1166.9 231.2L1167.3 231.3L1167.7 231.0L1168.1 231.3L1168.5 230.9L1168.9 231.3L1169.3 231.1L1169.7 231.5L1170.1 231.0L1170.5 231.1L1170.9 231.0L1171.3 231.4L1171.7 230.9L1172.1 231.4L1172.5 231.3L1172.9 231.3L1173.3 231.1L1173.7 231.3L1174.1 231.6L1174.5 231.1L1174.9 231.3L1175.3 231.2L1175.7 231.0L1176.1 231.0L1176.5 231.3L1176.9 231.2L1177.3 230.7L1177.7 231.3L1178.1 231.1L1178.5 231.4L1178.9 231.0L1179.3 231.7L1179.7 231.0L1180.1 231.3L1180.5 230.9L1180.9 231.2L1181.3 230.9L1181.7 231.4L1182.1 231.1L1182.5 231.4L1182.9 231.1L1183.3 230.7L1183.7 230.9L1184.1 231.0L1184.5 231.3L1184.9 231.6L1185.3 230.9L1185.7 231.0L1186.1 231.2L1186.5 230.6L1186.9 230.7L1187.3 230.9L1187.7 230.8L1188.1 230.6L1188.5 230.4L1188.9 230.5L1189.3 230.6L1189.7 230.2L1190.1 230.3L1190.5 230.6L1190.9 230.2L1191.3 230.1L1191.7 229.6L1192.1 229.6L1192.5 229.5L1192.9 229.3L1193.3 229.1L1193.7 229.0L1194.1 229.2L1194.5 229.4L1194.9 229.3L1195.3 229.4L1195.7 229.4L1196.1 229.1L1196.5 229.2L1196.9 229.4L1197.3 229.4L1197.7 229.7L1198.1 229.7L1198.5 230.2L1198.9 229.8L1199.3 230.3L1199.7 230.6L1200.1 230.1L1200.5 230.3L1200.9 230.4L1201.3 230.4L1201.7 230.7L1202.1 230.9L1202.5 232.4L1202.9 230.7L1203.3 231.0L1203.7 231.0L1204.1 230.7L1204.5 231.5L1204.9 231.0L1205.3 231.1L1205.7 231.0L1206.1 231.1L1206.5 231.0L1206.9 231.5L1207.3 230.8L1207.7 231.2L1208.1 231.4L1208.5 230.9L1208.9 231.4L1209.3 231.6L1209.7 231.3L1210.1 231.3L1210.5 231.3L1210.9 231.2L1211.3 231.4L1211.7 231.1L1212.1 231.4L1212.5 231.3L1212.9 231.2L1213.3 231.1L1213.7 231.5L1214.1 231.2L1214.5 231.6L1214.9 231.4L1215.3 231.4L1215.7 231.1L1216.1 231.2L1216.5 231.5L1216.9 231.4L1217.3 231.4L1217.7 231.6L1218.1 231.5L1218.5 231.3L1218.9 232.1L1219.3 232.1L1219.7 231.5L1220.1 231.1L1220.5 231.2L1220.9 231.6L1221.3 231.3L1221.7 231.4L1222.1 231.0L1222.5 231.5L1222.9 231.7L1223.3 231.2L1223.7 231.4L1224.1 231.4L1224.5 230.9L1224.9 231.4L1225.3 231.3L1225.7 231.2" fill="none" stroke="#ff0000" stroke-width="6.0" stroke-linejoin="round" stroke-linecap="butt"/><path d="M90.5 414.6L90.9 414.7L91.3 414.3L91.7 415.1L92.1 414.3L92.5 414.6L92.9 414.9L93.3 414.5L93.7 414.5L94.1 414.6L94.5 414.9L94.9 415.3L95.3 414.8L95.7 414.6L96.1 414.9L96.5 414.7L96.9 414.8L97.3 415.1L97.7 414.7L98.1 416.0L98.5 414.7L98.9 414.8L99.3 414.9L99.7 414.7L100.1 414.8L100.5 414.9L100.9 414.8L101.3 414.7L101.7 414.6L102.1 414.9L102.5 414.9L102.9 415.4L103.3 414.4L103.7 415.0L104.1 415.1L104.5 415.3L104.9 413.8L105.3 414.8L105.7 415.0L106.1 415.1L106.5 415.0L106.9 415.2L107.3 414.6L107.7 415.4L108.1 415.4L108.5 415.0L108.9 415.2L109.3 415.1L109.7 414.9L110.1 415.1L110.5 415.3L110.9 415.0L111.3 415.0L111.7 415.1L112.1 415.2L112.5 415.4L112.9 415.0L113.3 415.3L113.7 415.2L114.1 414.8L114.5 415.1L114.9 415.2L115.3 415.2L115.7 415.3L116.1 414.8L116.5 415.2L116.9 415.1L117.3 414.9L117.7 415.4L118.1 415.4L118.5 415.1L118.9 415.5L119.3 415.2L119.7 415.3L120.1 415.1L120.5 415.7L120.9 414.7L121.3 415.3L121.7 415.5L122.1 414.9L122.5 415.3L122.9 415.3L123.3 415.5L123.7 415.6L124.1 415.3L124.5 415.1L124.9 415.7L125.3 415.7L125.7 415.3L126.1 415.5L126.5 415.5L126.9 415.6L127.3 415.5L127.7 415.8L128.1 415.1L128.5 415.7L128.9 415.1L129.3 415.4L129.7 415.8L130.1 415.0L130.5 415.8L130.9 415.6L131.3 415.3L131.7 415.7L132.1 415.6L132.5 416.2L132.9 416.1L133.3 415.8L133.7 415.6L134.1 415.7L134.5 415.7L134.9 415.7L135.3 415.7L135.7 415.8L136.1 415.9L136.5 415.8L136.9 415.8L137.3 415.8L137.7 416.6L138.1 415.7L138.5 415.9L138.9 416.2L139.3 416.1L139.7 416.3L140.1 416.4L140.5 416.5L140.9 414.6L141.3 416.1L141.7 416.6L142.1 416.0L142.5 416.3L142.9 416.3L143.3 416.2L143.7 416.6L144.1 416.4L144.5 416.7L144.9 414.9L145.3 416.8L145.7 416.7L146.1 416.7L146.5 416.3L146.9 416.6L147.3 416.4L147.7 416.3L148.1 417.5L148.5 417.0L148.9 417.2L149.3 416.8L149.7 417.0L150.1 417.1L150.5 417.0L150.9 416.9L151.3 416.9L151.7 416.5L152.1 417.1L152.5 417.0L152.9 417.2L153.3 416.9L153.7 417.3L154.1 416.8L154.5 416.7L154.9 417.2L155.3 416.8L155.7 416.7L156.1 417.0L156.5 417.1L156.9 417.0L157.3 417.1L157.7 417.9L158.1 417.2L158.5 417.3L158.9 416.5L159.3 417.1L159.7 417.2L160.1 416.9L160.5 418.4L160.9 417.1L161.3 416.9L161.7 416.9L162.1 417.3L162.5 417.3L162.9 417.1L163.3 416.9L163.7 417.1L164.1 417.2L164.5 417.2L164.9 416.7L165.3 417.0L165.7 417.1L166.1 417.2L166.5 417.3L166.9 417.2L167.3 416.8L167.7 416.7L168.1 416.8L168.5 417.5L168.9 417.1L169.3 417.2L169.7 417.3L170.1 417.0L170.5 416.8L170.9 417.0L171.3 417.1L171.7 417.4L172.1 417.3L172.5 416.9L172.9 417.3L173.3 417.3L173.7 416.9L174.1 417.1L174.5 416.7L174.9 417.2L175.3 417.1L175.7 416.8L176.1 417.0L176.5 417.2L176.9 417.0L177.3 417.2L177.7 417.3L178.1 417.0L178.5 417.1L178.9 417.6L179.3 417.2L179.7 417.0L180.1 417.2L180.5 416.9L180.9 417.4L181.3 417.3L181.7 417.4L182.1 417.4L182.5 417.3L182.9 417.4L183.3 417.2L183.7 417.1L184.1 417.0L184.5 417.1L184.9 416.7L185.3 417.6L185.7 416.9L186.1 417.2L186.5 416.9L186.9 416.8L187.3 417.2L187.7 417.2L188.1 417.2L188.5 417.4L188.9 417.1L189.3 417.3L189.7 417.4L190.1 417.2L190.5 417.2L190.9 417.4L191.3 417.3L191.7 417.3L192.1 416.8L192.5 417.3L192.9 417.4L193.3 417.3L193.7 417.4L194.1 417.7L194.5 417.3L194.9 417.5L195.3 417.1L195.7 417.1L196.1 417.2L196.5 417.1L196.9 417.3L197.3 417.1L197.7 417.3L198.1 417.0L198.5 417.0L198.9 417.2L199.3 417.1L199.7 417.2L200.1 417.2L200.5 417.3L200.9 417.6L201.3 417.7L201.7 417.5L202.1 417.3L202.5 417.7L202.9 417.1L203.3 416.9L203.7 417.5L204.1 417.4L204.5 417.4L204.9 417.4L205.3 417.0L205.7 417.2L206.1 417.7L206.5 417.6L206.9 417.3L207.3 417.9L207.7 417.2L208.1 417.3L208.5 417.5L208.9 417.2L209.3 417.3L209.7 417.4L210.1 417.4L210.5 417.7L210.9 417.6L211.3 417.2L211.7 417.3L212.1 417.5L212.5 417.5L212.9 417.3L213.3 417.6L213.7 417.7L214.1 417.4L214.5 417.7L214.9 417.1L215.3 417.2L215.7 417.6L216.1 417.4L216.5 417.3L216.9 417.5L217.3 417.4L217.7 417.7L218.1 417.3L218.5 417.5L218.9 418.3L219.3 417.7L219.7 417.2L220.1 417.8L220.5 417.8L220.9 418.0L221.3 417.8L221.7 417.6L222.1 418.1L222.5 417.9L222.9 417.4L223.3 418.0L223.7 417.8L224.1 418.1L224.5 417.8L224.9 418.0L225.3 417.9L225.7 418.0L226.1 417.9L226.5 417.8L226.9 417.9L227.3 418.1L227.7 418.0L228.1 418.3L228.5 418.1L228.9 418.1L229.3 418.5L229.7 418.0L230.1 418.2L230.5 417.9L230.9 418.1L231.3 418.4L231.7 418.2L232.1 418.4L232.5 417.9L232.9 417.8L233.3 418.2L233.7 417.9L234.1 418.8L234.5 418.5L234.9 417.9L235.3 416.6L235.7 418.1L236.1 418.4L236.5 418.3L236.9 418.5L237.3 418.6L237.7 418.3L238.1 418.1L238.5 418.5L238.9 418.3L239.3 418.6L239.7 418.4L240.1 418.6L240.5 418.5L240.9 418.4L241.3 418.3L241.7 418.6L242.1 419.0L242.5 418.7L242.9 418.5L243.3 418.7L243.7 418.6L244.1 418.3L244.5 418.6L244.9 418.9L245.3 418.5L245.7 418.4L246.1 418.7L246.5 419.0L246.9 418.9L247.3 418.9L247.7 419.2L248.1 419.0L248.5 418.9L248.9 418.7L249.3 418.8L249.7 418.7L250.1 418.9L250.5 418.6L250.9 419.1L251.3 418.8L251.7 418.7L252.1 419.0L252.5 418.4L252.9 418.7L253.3 418.7L253.7 419.1L254.1 418.8L254.5 419.2L254.9 418.8L255.3 419.1L255.7 418.8L256.1 419.2L256.5 418.9L256.9 419.1L257.3 418.9L257.7 418.8L258.1 419.0L258.5 419.3L258.9 418.9L259.3 418.8L259.7 419.0L260.1 419.3L260.5 418.9L260.9 419.0L261.3 419.2L261.7 419.1L262.1 419.3L262.5 419.5L262.9 419.2L263.3 419.2L263.7 419.4L264.1 419.2L264.5 419.1L264.9 419.1L265.3 419.0L265.7 419.7L266.1 419.3L266.5 419.4L266.9 419.4L267.3 419.1L267.7 419.4L268.1 419.2L268.5 418.8L268.9 419.2L269.3 419.0L269.7 419.2L270.1 419.4L270.5 419.8L270.9 419.2L271.3 419.2L271.7 419.3L272.1 419.3L272.5 419.2L272.9 419.0L273.3 419.0L273.7 419.2L274.1 419.0L274.5 419.1L274.9 419.0L275.3 419.5L275.7 418.9L276.1 419.6L276.5 419.1L276.9 419.0L277.3 418.9L277.7 419.3L278.1 419.4L278.5 419.0L278.9 419.2L279.3 419.1L279.7 419.0L280.1 419.1L280.5 419.2L280.9 418.6L281.3 418.4L281.7 418.9L282.1 418.8L282.5 418.9L282.9 418.2L283.3 418.2L283.7 419.0L284.1 417.7L284.5 417.9L284.9 417.3L285.3 417.1L285.7 416.5L286.1 416.8L286.5 415.9L286.9 415.9L287.3 416.0L287.7 416.7L288.1 416.7L288.5 417.1L288.9 417.3L289.3 417.7L289.7 418.0L290.1 418.5L290.5 418.4L290.9 418.2L291.3 418.9L291.7 418.8L292.1 418.6L292.5 418.9L292.9 418.8L293.3 419.5L293.7 419.0L294.1 418.6L294.5 419.2L294.9 418.9L295.3 419.4L295.7 419.2L296.1 418.8L296.5 419.1L296.9 419.0L297.3 419.0L297.7 419.1L298.1 418.8L298.5 419.3L298.9 419.1L299.3 419.1L299.7 419.4L300.1 419.7L300.5 419.1L300.9 419.7L301.3 418.8L301.7 419.4L302.1 419.2L302.5 419.3L302.9 419.1L303.3 419.2L303.7 419.2L304.1 419.2L304.5 419.4L304.9 419.8L305.3 419.2L305.7 419.3L306.1 418.9L306.5 418.7L306.9 419.6L307.3 419.0L307.7 419.1L308.1 419.3L308.5 419.5L308.9 419.4L309.3 419.7L309.7 419.3L310.1 418.9L310.5 419.3L310.9 419.3L311.3 419.1L311.7 419.2L312.1 419.2L312.5 419.7L312.9 419.2L313.3 419.0L313.7 419.4L314.1 418.9L314.5 419.4L314.9 419.4L315.3 419.1L315.7 419.2L316.1 419.2L316.5 419.7L316.9 419.4L317.3 419.0L317.7 419.0L318.1 419.1L318.5 419.3L318.9 419.1L319.3 419.4L319.7 419.3L320.1 419.5L320.5 419.4L320.9 419.3L321.3 419.3L321.7 419.1L322.1 419.5L322.5 419.4L322.9 419.2L323.3 419.3L323.7 419.2L324.1 419.8L324.5 419.2L324.9 419.4L325.3 419.3L325.7 419.1L326.1 419.2L326.5 419.2L326.9 418.7L327.3 419.3L327.7 419.4L328.1 419.4L328.5 414.9L328.9 420.4L329.3 419.0L329.7 418.9L330.1 418.7L330.5 419.2L330.9 419.0L331.3 419.0L331.7 418.6L332.1 418.6L332.5 418.3L332.9 417.5L333.3 418.8L333.7 418.7L334.1 418.4L334.5 418.0L334.9 418.0L335.3 417.7L335.7 417.5L336.1 417.1L336.5 416.5L336.9 416.1L337.3 415.8L337.7 415.4L338.1 415.1L338.5 414.6L338.9 415.2L339.3 415.8L339.7 416.1L340.1 416.7L340.5 416.9L340.9 417.4L341.3 417.8L341.7 418.1L342.1 418.3L342.5 418.6L342.9 418.8L343.3 419.0L343.7 418.4L344.1 418.7L344.5 418.8L344.9 418.9L345.3 418.6L345.7 419.3L346.1 418.9L346.5 419.1L346.9 418.6L347.3 419.0L347.7 419.1L348.1 419.0L348.5 419.3L348.9 419.7L349.3 419.0L349.7 419.0L350.1 419.6L350.5 419.3L350.9 419.2L351.3 419.0L351.7 419.4L352.1 419.3L352.5 419.6L352.9 419.1L353.3 418.7L353.7 419.2L354.1 419.2L354.5 419.5L354.9 419.4L355.3 419.1L355.7 419.2L356.1 419.2L356.5 417.7L356.9 419.2L357.3 419.0L357.7 419.1L358.1 420.0L358.5 419.4L358.9 419.4L359.3 419.4L359.7 419.2L360.1 419.0L360.5 419.2L360.9 418.9L361.3 418.8L361.7 418.9L362.1 418.9L362.5 418.9L362.9 418.3L363.3 418.0L363.7 418.2L364.1 417.6L364.5 417.7L364.9 417.7L365.3 416.5L365.7 415.7L366.1 416.1L366.5 415.2L366.9 415.1L367.3 415.1L367.7 415.4L368.1 416.1L368.5 416.4L368.9 416.9L369.3 417.6L369.7 417.4L370.1 418.2L370.5 418.6L370.9 418.1L371.3 418.7L371.7 418.5L372.1 418.4L372.5 418.7L372.9 419.1L373.3 419.2L373.7 419.0L374.1 418.9L374.5 419.0L374.9 419.0L375.3 419.0L375.7 418.7L376.1 419.2L376.5 419.2L376.9 419.7L377.3 419.4L377.7 419.2L378.1 419.3L378.5 419.3L378.9 419.1L379.3 418.8L379.7 419.1L380.1 419.2L380.5 419.3L380.9 419.2L381.3 419.1L381.7 419.3L382.1 419.3L382.5 419.4L382.9 419.3L383.3 419.4L383.7 419.1L384.1 419.5L384.5 419.3L384.9 419.0L385.3 419.3L385.7 419.4L386.1 419.1L386.5 419.5L386.9 419.3L387.3 419.4L387.7 419.1L388.1 419.4L388.5 419.5L388.9 419.3L389.3 419.3L389.7 419.2L390.1 419.4L390.5 419.4L390.9 419.5L391.3 419.3L391.7 419.1L392.1 419.1L392.5 419.3L392.9 419.5L393.3 419.9L393.7 419.6L394.1 419.2L394.5 418.9L394.9 419.5L395.3 419.4L395.7 419.1L396.1 419.6L396.5 419.4L396.9 419.3L397.3 418.9L397.7 419.6L398.1 419.4L398.5 419.3L398.9 419.2L399.3 419.3L399.7 419.6L400.1 419.5L400.5 419.8L400.9 419.6L401.3 419.4L401.7 419.6L402.1 419.4L402.5 419.1L402.9 419.2L403.3 419.4L403.7 419.2L404.1 419.3L404.5 419.1L404.9 419.7L405.3 419.1L405.7 419.1L406.1 419.2L406.5 419.6L406.9 419.6L407.3 419.3L407.7 419.5L408.1 419.2L408.5 419.4L408.9 419.9L409.3 419.6L409.7 419.4L410.1 419.1L410.5 419.3L410.9 419.1L411.3 418.9L411.7 419.5L412.1 419.5L412.5 419.4L412.9 419.6L413.3 419.0L413.7 419.7L414.1 419.1L414.5 419.4L414.9 419.5L415.3 419.6L415.7 419.8L416.1 419.4L416.5 419.3L416.9 419.1L417.3 419.4L417.7 419.2L418.1 419.1L418.5 419.3L418.9 419.5L419.3 419.1L419.7 419.1L420.1 419.4L420.5 419.1L420.9 419.0L421.3 419.7L421.7 419.4L422.1 419.8L422.5 419.0L422.9 419.6L423.3 419.3L423.7 419.9L424.1 419.3L424.5 419.2L424.9 419.4L425.3 419.4L425.7 419.2L426.1 419.5L426.5 419.5L426.9 419.5L427.3 419.4L427.7 419.1L428.1 419.1L428.5 419.4L428.9 419.0L429.3 419.6L429.7 419.2L430.1 419.0L430.5 419.4L430.9 419.1L431.3 419.4L431.7 419.1L432.1 419.4L432.5 418.9L432.9 418.5L433.3 418.6L433.7 418.5L434.1 418.9L434.5 419.1L434.9 418.6L435.3 418.2L435.7 418.5L436.1 418.3L436.5 417.8L436.9 417.7L437.3 417.2L437.7 416.4L438.1 416.0L438.5 414.9L438.9 413.6L439.3 412.4L439.7 411.3L440.1 409.8L440.5 408.5L440.9 407.4L441.3 407.5L441.7 408.8L442.1 410.1L442.5 411.7L442.9 412.8L443.3 414.1L443.7 415.1L444.1 416.3L444.5 417.0L444.9 417.1L445.3 417.7L445.7 418.0L446.1 417.8L446.5 418.1L446.9 418.4L447.3 418.1L447.7 418.6L448.1 418.3L448.5 418.4L448.9 418.3L449.3 418.0L449.7 418.4L450.1 418.3L450.5 418.1L450.9 418.1L451.3 418.1L451.7 417.9L452.1 417.7L452.5 417.7L452.9 417.6L453.3 417.3L453.7 416.8L454.1 416.9L454.5 416.3L454.9 416.1L455.3 415.4L455.7 414.6L456.1 413.8L456.5 412.9L456.9 411.8L457.3 409.7L457.7 408.0L458.1 405.1L458.5 400.6L458.9 394.9L459.3 387.6L459.7 379.2L460.1 369.1L460.5 358.8L460.9 350.8L461.3 347.3L461.7 350.5L462.1 358.7L462.5 368.8L462.9 378.9L463.3 387.7L463.7 394.6L464.1 399.9L464.5 404.0L464.9 407.4L465.3 408.1L465.7 410.7L466.1 411.5L466.5 412.8L466.9 412.4L467.3 412.7L467.7 411.9L468.1 412.1L468.5 409.8L468.9 408.6L469.3 406.2L469.7 404.6L470.1 402.4L470.5 402.0L470.9 402.6L471.3 404.8L471.7 407.3L472.1 410.0L472.5 411.1L472.9 413.3L473.3 414.4L473.7 415.2L474.1 415.9L474.5 416.5L474.9 416.9L475.3 416.8L475.7 416.7L476.1 416.8L476.5 416.9L476.9 416.4L477.3 416.2L477.7 415.8L478.1 415.1L478.5 414.0L478.9 412.4L479.3 410.1L479.7 408.5L480.1 406.1L480.5 404.1L480.9 402.8L481.3 403.3L481.7 404.8L482.1 407.0L482.5 409.7L482.9 411.8L483.3 413.8L483.7 415.1L484.1 415.8L484.5 416.0L484.9 417.2L485.3 417.6L485.7 418.2L486.1 418.0L486.5 418.6L486.9 418.1L487.3 418.4L487.7 419.0L488.1 418.8L488.5 418.8L488.9 419.0L489.3 418.9L489.7 419.0L490.1 419.0L490.5 419.1L490.9 419.1L491.3 418.9L491.7 419.2L492.1 418.9L492.5 419.2L492.9 419.1L493.3 419.2L493.7 419.2L494.1 419.0L494.5 419.0L494.9 419.1L495.3 419.2L495.7 419.3L496.1 419.1L496.5 418.9L496.9 419.1L497.3 419.1L497.7 419.2L498.1 420.7L498.5 419.5L498.9 418.6L499.3 418.9L499.7 418.9L500.1 419.1L500.5 419.1L500.9 418.9L501.3 419.0L501.7 418.7L502.1 418.7L502.5 418.8L502.9 418.4L503.3 418.9L503.7 418.3L504.1 418.2L504.5 418.4L504.9 417.7L505.3 417.8L505.7 417.6L506.1 417.5L506.5 417.4L506.9 416.1L507.3 414.8L507.7 413.9L508.1 412.4L508.5 410.0L508.9 407.7L509.3 404.7L509.7 400.5L510.1 395.5L510.5 390.0L510.9 383.3L511.3 376.4L511.7 368.5L512.1 360.5L512.5 351.0L512.9 342.1L513.3 333.9L513.7 325.8L514.1 318.4L514.5 312.6L514.9 308.3L515.3 305.8L515.7 305.1L516.1 306.6L516.5 309.6L516.9 315.2L517.3 321.6L517.7 329.0L518.1 337.4L518.5 346.2L518.9 354.9L519.3 363.5L519.7 371.4L520.1 378.6L520.5 386.0L520.9 391.4L521.3 396.7L521.7 400.2L522.1 403.9L522.5 406.1L522.9 408.3L523.3 409.4L523.7 409.9L524.1 409.7L524.5 409.0L524.9 407.7L525.3 404.4L525.7 401.1L526.1 396.1L526.5 390.1L526.9 383.2L527.3 375.1L527.7 366.5L528.1 359.2L528.5 353.3L528.9 351.4L529.3 353.6L529.7 359.1L530.1 366.7L530.5 374.9L530.9 383.5L531.3 391.2L531.7 397.0L532.1 402.1L532.5 405.8L532.9 408.9L533.3 410.8L533.7 412.5L534.1 413.9L534.5 414.4L534.9 414.7L535.3 415.4L535.7 415.1L536.1 415.9L536.5 415.8L536.9 415.6L537.3 415.7L537.7 415.5L538.1 416.0L538.5 415.5L538.9 414.9L539.3 414.5L539.7 414.1L540.1 413.2L540.5 412.1L540.9 410.5L541.3 407.7L541.7 404.7L542.1 400.2L542.5 393.8L542.9 386.2L543.3 377.1L543.7 367.4L544.1 358.2L544.5 350.4L544.9 346.5L545.3 348.2L545.7 353.5L546.1 362.1L546.5 371.5L546.9 380.6L547.3 388.6L547.7 395.0L548.1 399.7L548.5 403.2L548.9 404.8L549.3 405.5L549.7 404.5L550.1 402.6L550.5 397.2L550.9 394.5L551.3 387.9L551.7 380.1L552.1 371.5L552.5 363.7L552.9 357.7L553.3 354.2L553.7 355.8L554.1 360.8L554.5 368.6L554.9 377.2L555.3 386.0L555.7 393.6L556.1 397.9L556.5 404.7L556.9 408.0L557.3 410.9L557.7 412.5L558.1 413.9L558.5 415.2L558.9 415.5L559.3 416.4L559.7 416.6L560.1 417.4L560.5 417.3L560.9 417.7L561.3 418.0L561.7 418.1L562.1 418.3L562.5 417.9L562.9 418.6L563.3 418.1L563.7 418.4L564.1 418.1L564.5 418.7L564.9 418.7L565.3 418.8L565.7 418.7L566.1 418.9L566.5 418.8L566.9 419.0L567.3 419.3L567.7 418.6L568.1 419.1L568.5 419.1L568.9 418.8L569.3 419.1L569.7 419.5L570.1 419.3L570.5 419.1L570.9 419.4L571.3 419.4L571.7 419.0L572.1 419.2L572.5 419.3L572.9 419.3L573.3 419.4L573.7 419.3L574.1 419.3L574.5 419.2L574.9 419.3L575.3 419.2L575.7 419.5L576.1 419.3L576.5 419.2L576.9 419.5L577.3 419.9L577.7 419.3L578.1 419.6L578.5 419.2L578.9 419.4L579.3 419.5L579.7 419.5L580.1 419.7L580.5 419.1L580.9 418.6L581.3 419.5L581.7 416.8L582.1 418.9L582.5 419.0L582.9 419.2L583.3 419.1L583.7 418.5L584.1 418.6L584.5 417.9L584.9 418.4L585.3 418.3L585.7 417.4L586.1 417.4L586.5 417.0L586.9 417.1L587.3 417.3L587.7 417.5L588.1 417.6L588.5 417.5L588.9 417.8L589.3 418.7L589.7 418.5L590.1 418.5L590.5 418.8L590.9 418.8L591.3 419.0L591.7 418.9L592.1 419.0L592.5 418.8L592.9 419.6L593.3 419.4L593.7 419.4L594.1 419.5L594.5 419.3L594.9 419.1L595.3 419.5L595.7 419.5L596.1 419.5L596.5 419.3L596.9 419.1L597.3 419.6L597.7 419.5L598.1 419.4L598.5 419.4L598.9 419.4L599.3 419.5L599.7 419.1L600.1 419.4L600.5 419.3L600.9 419.5L601.3 419.4L601.7 419.5L602.1 419.2L602.5 419.6L602.9 419.9L603.3 419.4L603.7 419.6L604.1 419.7L604.5 419.5L604.9 419.5L605.3 419.1L605.7 419.3L606.1 419.8L606.5 419.5L606.9 419.5L607.3 419.9L607.7 419.1L608.1 419.7L608.5 419.6L608.9 419.0L609.3 419.3L609.7 419.6L610.1 419.3L610.5 419.3L610.9 419.6L611.3 419.4L611.7 419.5L612.1 419.4L612.5 419.5L612.9 419.5L613.3 420.0L613.7 419.6L614.1 419.3L614.5 419.6L614.9 419.5L615.3 420.2L615.7 419.2L616.1 419.6L616.5 419.5L616.9 419.8L617.3 419.3L617.7 419.2L618.1 419.6L618.5 419.7L618.9 419.6L619.3 419.6L619.7 419.5L620.1 419.7L620.5 419.5L620.9 419.4L621.3 419.8L621.7 419.3L622.1 419.1L622.5 419.4L622.9 419.5L623.3 419.5L623.7 419.4L624.1 419.6L624.5 419.4L624.9 419.3L625.3 419.8L625.7 419.5L626.1 419.7L626.5 419.5L626.9 419.6L627.3 419.8L627.7 419.1L628.1 419.7L628.5 419.5L628.9 419.7L629.3 419.4L629.7 419.5L630.1 419.5L630.5 419.3L630.9 419.5L631.3 419.9L631.7 419.8L632.1 419.8L632.5 419.4L632.9 419.5L633.3 419.4L633.7 419.0L634.1 419.4L634.5 419.3L634.9 419.7L635.3 419.7L635.7 419.6L636.1 419.3L636.5 419.4L636.9 419.8L637.3 419.6L637.7 419.7L638.1 419.4L638.5 419.7L638.9 419.4L639.3 419.4L639.7 419.6L640.1 419.3L640.5 419.2L640.9 419.8L641.3 419.7L641.7 419.4L642.1 419.5L642.5 419.7L642.9 419.4L643.3 419.0L643.7 420.0L644.1 419.2L644.5 419.4L644.9 419.0L645.3 419.0L645.7 419.6L646.1 419.2L646.5 419.6L646.9 419.5L647.3 419.5L647.7 419.6L648.1 419.6L648.5 419.8L648.9 419.2L649.3 419.3L649.7 419.6L650.1 419.7L650.5 419.4L650.9 419.2L651.3 419.5L651.7 418.8L652.1 419.1L652.5 419.7L652.9 419.2L653.3 419.9L653.7 419.5L654.1 419.6L654.5 420.1L654.9 419.7L655.3 419.4L655.7 419.4L656.1 419.3L656.5 419.0L656.9 419.6L657.3 419.5L657.7 419.3L658.1 419.7L658.5 419.4L658.9 419.1L659.3 419.2L659.7 419.5L660.1 419.6L660.5 419.9L660.9 419.4L661.3 419.6L661.7 419.7L662.1 419.6L662.5 419.8L662.9 420.9L663.3 419.4L663.7 420.0L664.1 419.5L664.5 419.5L664.9 419.2L665.3 419.5L665.7 419.9L666.1 419.3L666.5 419.3L666.9 419.5L667.3 419.4L667.7 419.3L668.1 419.9L668.5 419.6L668.9 419.2L669.3 419.5L669.7 419.7L670.1 419.4L670.5 419.6L670.9 419.2L671.3 419.6L671.7 419.4L672.1 419.6L672.5 419.4L672.9 419.3L673.3 419.5L673.7 419.6L674.1 419.6L674.5 419.2L674.9 419.3L675.3 419.4L675.7 419.4L676.1 419.1L676.5 419.5L676.9 419.7L677.3 419.8L677.7 419.7L678.1 419.6L678.5 418.7L678.9 419.3L679.3 419.5L679.7 419.2L680.1 419.7L680.5 419.3L680.9 419.4L681.3 419.3L681.7 419.4L682.1 419.1L682.5 419.3L682.9 419.2L683.3 419.1L683.7 418.9L684.1 419.5L684.5 419.0L684.9 419.3L685.3 419.1L685.7 419.1L686.1 419.0L686.5 418.9L686.9 418.5L687.3 419.3L687.7 416.9L688.1 418.9L688.5 418.2L688.9 418.6L689.3 418.7L689.7 419.0L690.1 418.8L690.5 419.2L690.9 419.1L691.3 419.3L691.7 419.5L692.1 419.1L692.5 419.1L692.9 419.1L693.3 419.5L693.7 419.3L694.1 419.3L694.5 419.1L694.9 419.4L695.3 419.4L695.7 419.4L696.1 419.3L696.5 419.1L696.9 419.7L697.3 419.4L697.7 419.4L698.1 419.2L698.5 419.7L698.9 419.2L699.3 419.3L699.7 419.2L700.1 419.1L700.5 419.6L700.9 419.3L701.3 419.2L701.7 419.3L702.1 419.3L702.5 419.4L702.9 419.2L703.3 419.4L703.7 419.0L704.1 419.2L704.5 419.5L704.9 419.5L705.3 419.0L705.7 419.4L706.1 419.3L706.5 419.6L706.9 419.1L707.3 419.4L707.7 419.5L708.1 419.0L708.5 419.1L708.9 419.5L709.3 419.2L709.7 419.4L710.1 419.2L710.5 418.9L710.9 419.2L711.3 419.2L711.7 418.9L712.1 419.2L712.5 418.7L712.9 418.9L713.3 418.7L713.7 418.4L714.1 418.1L714.5 417.8L714.9 418.7L715.3 417.8L715.7 417.4L716.1 417.2L716.5 416.9L716.9 416.7L717.3 416.7L717.7 416.9L718.1 416.5L718.5 417.1L718.9 417.0L719.3 418.1L719.7 417.7L720.1 418.1L720.5 418.5L720.9 418.6L721.3 418.9L721.7 419.1L722.1 418.8L722.5 419.4L722.9 418.9L723.3 419.0L723.7 419.3L724.1 418.6L724.5 419.0L724.9 419.1L725.3 419.3L725.7 419.0L726.1 419.4L726.5 419.0L726.9 419.4L727.3 419.4L727.7 419.1L728.1 419.2L728.5 419.2L728.9 419.1L729.3 420.2L729.7 419.5L730.1 419.3L730.5 419.3L730.9 418.9L731.3 419.2L731.7 419.5L732.1 419.3L732.5 419.1L732.9 419.2L733.3 419.4L733.7 419.2L734.1 418.7L734.5 419.0L734.9 419.2L735.3 418.9L735.7 419.2L736.1 419.3L736.5 419.7L736.9 419.5L737.3 419.3L737.7 418.8L738.1 419.2L738.5 418.8L738.9 418.9L739.3 419.4L739.7 418.9L740.1 419.3L740.5 419.1L740.9 419.3L741.3 419.0L741.7 419.2L742.1 419.4L742.5 419.2L742.9 419.1L743.3 419.0L743.7 419.1L744.1 419.0L744.5 419.1L744.9 418.9L745.3 418.6L745.7 418.6L746.1 418.8L746.5 419.3L746.9 419.2L747.3 418.8L747.7 418.7L748.1 418.7L748.5 418.7L748.9 419.0L749.3 418.6L749.7 418.4L750.1 418.5L750.5 418.4L750.9 418.9L751.3 418.5L751.7 418.5L752.1 418.4L752.5 418.0L752.9 418.4L753.3 418.4L753.7 418.1L754.1 418.2L754.5 418.0L754.9 418.0L755.3 418.1L755.7 417.8L756.1 417.9L756.5 417.7L756.9 417.5L757.3 417.3L757.7 417.2L758.1 417.2L758.5 413.9L758.9 417.0L759.3 417.0L759.7 416.6L760.1 416.1L760.5 416.5L760.9 416.0L761.3 416.1L761.7 415.8L762.1 415.6L762.5 415.3L762.9 414.3L763.3 414.9L763.7 414.5L764.1 414.4L764.5 414.1L764.9 413.8L765.3 413.6L765.7 412.9L766.1 413.0L766.5 412.9L766.9 412.6L767.3 412.1L767.7 411.7L768.1 411.8L768.5 411.9L768.9 411.8L769.3 412.1L769.7 412.0L770.1 411.6L770.5 411.9L770.9 411.8L771.3 412.2L771.7 412.0L772.1 412.6L772.5 412.4L772.9 412.6L773.3 412.7L773.7 413.4L774.1 413.4L774.5 413.8L774.9 414.1L775.3 413.7L775.7 414.8L776.1 414.8L776.5 415.0L776.9 415.1L777.3 415.3L777.7 415.5L778.1 416.0L778.5 416.0L778.9 416.2L779.3 416.2L779.7 416.6L780.1 417.2L780.5 417.0L780.9 416.6L781.3 416.6L781.7 417.4L782.1 417.1L782.5 417.6L782.9 417.7L783.3 417.9L783.7 418.2L784.1 417.8L784.5 418.0L784.9 417.9L785.3 417.8L785.7 418.0L786.1 418.5L786.5 418.6L786.9 418.1L787.3 418.5L787.7 419.0L788.1 418.6L788.5 418.3L788.9 418.6L789.3 418.6L789.7 418.4L790.1 418.5L790.5 418.5L790.9 418.6L791.3 419.0L791.7 419.0L792.1 419.0L792.5 418.8L792.9 418.9L793.3 418.5L793.7 418.7L794.1 419.0L794.5 418.8L794.9 418.6L795.3 418.8L795.7 418.8L796.1 418.8L796.5 418.6L796.9 418.8L797.3 418.7L797.7 418.5L798.1 418.7L798.5 418.8L798.9 418.9L799.3 418.8L799.7 418.2L800.1 418.8L800.5 418.6L800.9 418.6L801.3 418.7L801.7 418.7L802.1 418.5L802.5 418.2L802.9 418.1L803.3 418.2L803.7 418.1L804.1 417.8L804.5 418.2L804.9 418.0L805.3 417.7L805.7 417.8L806.1 417.4L806.5 416.8L806.9 416.8L807.3 416.7L807.7 415.8L808.1 415.1L808.5 415.0L808.9 413.7L809.3 413.0L809.7 412.4L810.1 411.2L810.5 410.4L810.9 408.7L811.3 407.4L811.7 406.0L812.1 404.2L812.5 402.9L812.9 401.2L813.3 401.2L813.7 400.4L814.1 400.4L814.5 401.0L814.9 402.2L815.3 403.4L815.7 405.1L816.1 406.4L816.5 407.7L816.9 409.3L817.3 410.5L817.7 411.9L818.1 412.9L818.5 413.6L818.9 414.6L819.3 415.0L819.7 415.7L820.1 416.1L820.5 416.6L820.9 416.7L821.3 417.1L821.7 417.4L822.1 417.3L822.5 417.7L822.9 417.9L823.3 418.2L823.7 417.9L824.1 417.9L824.5 418.0L824.9 418.4L825.3 418.4L825.7 418.3L826.1 418.7L826.5 418.8L826.9 419.1L827.3 419.0L827.7 418.7L828.1 419.2L828.5 418.7L828.9 419.0L829.3 419.1L829.7 418.6L830.1 419.0L830.5 419.0L830.9 419.5L831.3 418.9L831.7 419.2L832.1 419.1L832.5 419.1L832.9 418.9L833.3 419.4L833.7 419.4L834.1 419.4L834.5 418.8L834.9 418.8L835.3 419.2L835.7 419.5L836.1 419.4L836.5 419.2L836.9 419.1L837.3 419.6L837.7 419.6L838.1 419.1L838.5 419.3L838.9 419.3L839.3 419.7L839.7 419.5L840.1 419.5L840.5 419.1L840.9 419.4L841.3 419.3L841.7 419.4L842.1 419.4L842.5 419.3L842.9 419.1L843.3 419.6L843.7 419.1L844.1 419.2L844.5 418.9L844.9 419.4L845.3 419.4L845.7 419.2L846.1 419.2L846.5 419.4L846.9 419.3L847.3 419.1L847.7 419.5L848.1 419.6L848.5 419.4L848.9 419.6L849.3 419.4L849.7 419.7L850.1 419.6L850.5 419.3L850.9 419.6L851.3 419.5L851.7 419.3L852.1 419.2L852.5 419.3L852.9 418.9L853.3 418.1L853.7 419.3L854.1 419.0L854.5 419.2L854.9 419.2L855.3 419.0L855.7 419.3L856.1 419.4L856.5 419.5L856.9 419.6L857.3 419.3L857.7 419.3L858.1 419.4L858.5 419.6L858.9 419.7L859.3 419.2L859.7 419.5L860.1 419.3L860.5 419.5L860.9 417.7L861.3 419.3L861.7 419.0L862.1 418.7L862.5 419.4L862.9 419.2L863.3 419.6L863.7 419.5L864.1 419.6L864.5 419.5L864.9 419.2L865.3 419.4L865.7 419.0L866.1 419.1L866.5 419.4L866.9 419.7L867.3 419.4L867.7 419.1L868.1 419.3L868.5 419.4L868.9 419.5L869.3 419.3L869.7 419.7L870.1 419.5L870.5 419.4L870.9 419.2L871.3 419.8L871.7 419.2L872.1 419.2L872.5 418.9L872.9 419.3L873.3 418.8L873.7 419.3L874.1 418.8L874.5 419.3L874.9 418.8L875.3 418.9L875.7 419.0L876.1 419.1L876.5 419.0L876.9 418.8L877.3 419.0L877.7 419.1L878.1 418.6L878.5 419.2L878.9 418.9L879.3 418.3L879.7 418.9L880.1 418.8L880.5 418.7L880.9 418.6L881.3 418.6L881.7 418.8L882.1 418.6L882.5 418.6L882.9 418.3L883.3 418.5L883.7 418.1L884.1 418.1L884.5 417.7L884.9 417.5L885.3 417.5L885.7 417.2L886.1 416.7L886.5 416.3L886.9 415.7L887.3 415.4L887.7 414.7L888.1 414.0L888.5 413.1L888.9 412.1L889.3 411.3L889.7 410.1L890.1 409.2L890.5 408.4L890.9 407.7L891.3 406.9L891.7 406.8L892.1 407.1L892.5 407.4L892.9 408.3L893.3 409.1L893.7 411.9L894.1 411.0L894.5 412.1L894.9 413.1L895.3 413.9L895.7 414.5L896.1 415.3L896.5 416.1L896.9 416.3L897.3 416.5L897.7 417.4L898.1 417.2L898.5 417.9L898.9 417.9L899.3 417.6L899.7 417.6L900.1 418.2L900.5 418.3L900.9 418.3L901.3 418.6L901.7 418.6L902.1 418.9L902.5 418.6L902.9 418.7L903.3 418.9L903.7 418.8L904.1 418.7L904.5 418.9L904.9 418.7L905.3 418.7L905.7 418.8L906.1 419.1L906.5 420.5L906.9 418.8L907.3 418.9L907.7 419.1L908.1 419.0L908.5 418.8L908.9 419.2L909.3 418.9L909.7 419.0L910.1 418.8L910.5 419.2L910.9 419.2L911.3 418.9L911.7 419.2L912.1 419.1L912.5 419.0L912.9 418.8L913.3 419.0L913.7 418.6L914.1 418.6L914.5 418.6L914.9 418.7L915.3 418.7L915.7 417.9L916.1 418.2L916.5 417.8L916.9 417.9L917.3 417.3L917.7 417.7L918.1 416.9L918.5 417.0L918.9 416.0L919.3 416.0L919.7 415.8L920.1 415.3L920.5 414.4L920.9 414.0L921.3 413.8L921.7 414.1L922.1 413.8L922.5 414.7L922.9 414.8L923.3 415.3L923.7 415.3L924.1 415.8L924.5 416.3L924.9 416.4L925.3 416.7L925.7 417.3L926.1 417.5L926.5 417.8L926.9 417.8L927.3 418.3L927.7 418.6L928.1 418.5L928.5 418.4L928.9 418.8L929.3 418.9L929.7 418.8L930.1 418.6L930.5 418.4L930.9 419.3L931.3 419.0L931.7 418.9L932.1 418.8L932.5 418.5L932.9 419.2L933.3 419.0L933.7 419.1L934.1 419.0L934.5 419.1L934.9 419.7L935.3 418.8L935.7 419.0L936.1 419.2L936.5 419.4L936.9 419.2L937.3 419.2L937.7 418.9L938.1 419.0L938.5 419.2L938.9 419.2L939.3 419.1L939.7 419.1L940.1 418.8L940.5 418.8L940.9 419.3L941.3 419.1L941.7 419.0L942.1 417.8L942.5 419.9L942.9 419.0L943.3 419.2L943.7 419.1L944.1 419.0L944.5 418.9L944.9 419.3L945.3 419.0L945.7 418.7L946.1 419.5L946.5 418.9L946.9 419.2L947.3 419.1L947.7 419.0L948.1 419.4L948.5 418.8L948.9 419.1L949.3 419.1L949.7 418.7L950.1 418.8L950.5 419.2L950.9 419.4L951.3 419.1L951.7 418.4L952.1 419.2L952.5 418.6L952.9 418.7L953.3 417.9L953.7 418.9L954.1 418.1L954.5 418.8L954.9 419.3L955.3 418.5L955.7 418.8L956.1 419.0L956.5 418.9L956.9 418.4L957.3 419.0L957.7 419.0L958.1 418.5L958.5 418.5L958.9 418.9L959.3 418.6L959.7 418.3L960.1 418.6L960.5 418.3L960.9 418.2L961.3 417.9L961.7 418.4L962.1 418.1L962.5 418.0L962.9 418.1L963.3 418.3L963.7 418.0L964.1 418.2L964.5 417.9L964.9 418.1L965.3 418.2L965.7 417.7L966.1 417.6L966.5 417.2L966.9 417.3L967.3 417.7L967.7 417.4L968.1 416.7L968.5 416.7L968.9 416.7L969.3 416.7L969.7 416.5L970.1 416.3L970.5 416.1L970.9 415.8L971.3 415.4L971.7 415.3L972.1 414.4L972.5 414.4L972.9 414.2L973.3 414.0L973.7 413.5L974.1 414.9L974.5 412.6L974.9 411.8L975.3 411.2L975.7 410.6L976.1 409.7L976.5 408.9L976.9 408.3L977.3 407.2L977.7 406.6L978.1 405.7L978.5 405.0L978.9 403.5L979.3 402.6L979.7 402.1L980.1 400.8L980.5 400.2L980.9 399.2L981.3 399.0L981.7 398.0L982.1 397.8L982.5 397.5L982.9 398.0L983.3 397.9L983.7 397.8L984.1 399.1L984.5 399.0L984.9 400.2L985.3 401.2L985.7 401.7L986.1 402.6L986.5 403.4L986.9 404.3L987.3 406.2L987.7 406.7L988.1 407.7L988.5 407.8L988.9 409.3L989.3 409.5L989.7 410.7L990.1 411.5L990.5 411.6L990.9 412.2L991.3 413.2L991.7 413.1L992.1 414.0L992.5 414.1L992.9 414.8L993.3 414.8L993.7 414.9L994.1 415.6L994.5 415.5L994.9 416.1L995.3 416.7L995.7 416.7L996.1 416.3L996.5 416.4L996.9 416.4L997.3 416.9L997.7 416.9L998.1 417.1L998.5 417.9L998.9 417.6L999.3 417.6L999.7 417.6L1000.1 418.7L1000.5 418.0L1000.9 418.4L1001.3 418.2L1001.7 418.3L1002.1 418.0L1002.5 417.9L1002.9 418.5L1003.3 417.9L1003.7 418.4L1004.1 418.4L1004.5 418.7L1004.9 418.3L1005.3 418.1L1005.7 418.8L1006.1 418.3L1006.5 418.0L1006.9 418.3L1007.3 418.9L1007.7 418.9L1008.1 418.7L1008.5 418.7L1008.9 418.5L1009.3 418.7L1009.7 418.9L1010.1 418.6L1010.5 418.8L1010.9 419.2L1011.3 418.8L1011.7 418.8L1012.1 418.8L1012.5 418.9L1012.9 418.7L1013.3 419.1L1013.7 419.0L1014.1 419.1L1014.5 418.8L1014.9 419.1L1015.3 419.3L1015.7 418.9L1016.1 418.9L1016.5 419.0L1016.9 418.8L1017.3 418.9L1017.7 419.2L1018.1 419.1L1018.5 418.9L1018.9 418.9L1019.3 418.8L1019.7 419.2L1020.1 418.8L1020.5 419.0L1020.9 419.0L1021.3 418.6L1021.7 419.0L1022.1 418.7L1022.5 418.5L1022.9 418.7L1023.3 418.8L1023.7 418.9L1024.1 419.1L1024.5 419.2L1024.9 419.0L1025.3 419.0L1025.7 419.0L1026.1 418.5L1026.5 418.8L1026.9 418.9L1027.3 419.1L1027.7 418.8L1028.1 419.0L1028.5 419.0L1028.9 418.5L1029.3 418.4L1029.7 419.0L1030.1 418.5L1030.5 418.9L1030.9 418.6L1031.3 418.7L1031.7 418.0L1032.1 418.8L1032.5 417.6L1032.9 417.8L1033.3 418.0L1033.7 418.0L1034.1 417.6L1034.5 417.4L1034.9 416.7L1035.3 416.7L1035.7 416.6L1036.1 415.6L1036.5 415.3L1036.9 415.2L1037.3 415.1L1037.7 414.6L1038.1 414.0L1038.5 413.9L1038.9 413.9L1039.3 413.8L1039.7 414.8L1040.1 414.5L1040.5 414.8L1040.9 415.0L1041.3 415.8L1041.7 416.1L1042.1 416.8L1042.5 416.4L1042.9 417.1L1043.3 417.5L1043.7 418.1L1044.1 417.7L1044.5 418.0L1044.9 418.4L1045.3 418.2L1045.7 418.5L1046.1 418.3L1046.5 418.8L1046.9 418.8L1047.3 418.6L1047.7 418.5L1048.1 418.9L1048.5 418.9L1048.9 418.6L1049.3 419.2L1049.7 418.8L1050.1 419.3L1050.5 419.3L1050.9 419.1L1051.3 419.2L1051.7 418.8L1052.1 419.1L1052.5 419.2L1052.9 418.8L1053.3 418.8L1053.7 419.5L1054.1 419.2L1054.5 419.5L1054.9 419.4L1055.3 418.6L1055.7 418.9L1056.1 419.2L1056.5 419.2L1056.9 419.2L1057.3 419.1L1057.7 419.2L1058.1 419.0L1058.5 419.5L1058.9 419.0L1059.3 419.1L1059.7 419.4L1060.1 419.1L1060.5 419.3L1060.9 419.1L1061.3 419.2L1061.7 419.4L1062.1 418.9L1062.5 418.9L1062.9 419.0L1063.3 419.5L1063.7 419.4L1064.1 419.5L1064.5 419.6L1064.9 419.2L1065.3 419.1L1065.7 419.3L1066.1 419.3L1066.5 419.5L1066.9 419.3L1067.3 419.4L1067.7 419.2L1068.1 418.9L1068.5 419.7L1068.9 419.3L1069.3 419.2L1069.7 419.3L1070.1 417.7L1070.5 419.2L1070.9 419.2L1071.3 419.1L1071.7 419.2L1072.1 418.9L1072.5 419.6L1072.9 419.3L1073.3 419.1L1073.7 419.5L1074.1 419.2L1074.5 419.6L1074.9 419.3L1075.3 419.3L1075.7 419.4L1076.1 419.4L1076.5 419.2L1076.9 419.2L1077.3 419.3L1077.7 418.9L1078.1 418.7L1078.5 419.3L1078.9 419.3L1079.3 419.6L1079.7 419.3L1080.1 419.6L1080.5 419.6L1080.9 419.3L1081.3 419.2L1081.7 419.1L1082.1 419.3L1082.5 419.0L1082.9 421.4L1083.3 419.5L1083.7 419.2L1084.1 419.5L1084.5 419.1L1084.9 419.3L1085.3 422.5L1085.7 418.9L1086.1 419.2L1086.5 419.5L1086.9 419.6L1087.3 419.6L1087.7 419.1L1088.1 419.3L1088.5 419.0L1088.9 419.5L1089.3 419.3L1089.7 419.5L1090.1 419.0L1090.5 419.6L1090.9 419.3L1091.3 419.0L1091.7 419.5L1092.1 419.8L1092.5 419.4L1092.9 419.4L1093.3 418.9L1093.7 419.2L1094.1 419.5L1094.5 419.4L1094.9 419.3L1095.3 419.1L1095.7 419.7L1096.1 419.2L1096.5 418.9L1096.9 419.3L1097.3 419.2L1097.7 419.2L1098.1 419.1L1098.5 419.1L1098.9 419.0L1099.3 419.5L1099.7 419.1L1100.1 419.1L1100.5 419.4L1100.9 419.4L1101.3 419.4L1101.7 419.2L1102.1 419.1L1102.5 419.3L1102.9 419.2L1103.3 419.2L1103.7 419.5L1104.1 419.3L1104.5 419.5L1104.9 419.2L1105.3 419.2L1105.7 419.3L1106.1 419.4L1106.5 419.0L1106.9 419.1L1107.3 419.7L1107.7 419.3L1108.1 419.2L1108.5 418.9L1108.9 419.1L1109.3 419.5L1109.7 419.6L1110.1 419.0L1110.5 419.3L1110.9 419.4L1111.3 419.4L1111.7 419.3L1112.1 421.3L1112.5 419.4L1112.9 421.0L1113.3 419.4L1113.7 419.4L1114.1 419.2L1114.5 419.6L1114.9 419.5L1115.3 419.2L1115.7 419.2L1116.1 419.3L1116.5 419.4L1116.9 419.4L1117.3 419.3L1117.7 419.3L1118.1 419.8L1118.5 419.7L1118.9 419.4L1119.3 419.4L1119.7 419.4L1120.1 419.5L1120.5 419.4L1120.9 419.6L1121.3 418.9L1121.7 419.1L1122.1 419.1L1122.5 418.9L1122.9 419.2L1123.3 419.2L1123.7 419.1L1124.1 419.0L1124.5 419.4L1124.9 419.1L1125.3 419.4L1125.7 419.1L1126.1 419.3L1126.5 418.9L1126.9 418.8L1127.3 419.3L1127.7 419.2L1128.1 419.7L1128.5 419.3L1128.9 419.3L1129.3 419.2L1129.7 419.0L1130.1 419.2L1130.5 419.0L1130.9 419.8L1131.3 418.9L1131.7 419.2L1132.1 418.9L1132.5 418.8L1132.9 418.9L1133.3 418.7L1133.7 418.3L1134.1 418.7L1134.5 418.9L1134.9 418.6L1135.3 418.9L1135.7 418.9L1136.1 418.9L1136.5 418.5L1136.9 419.5L1137.3 419.3L1137.7 419.0L1138.1 418.9L1138.5 418.8L1138.9 418.7L1139.3 419.1L1139.7 419.4L1140.1 418.9L1140.5 419.1L1140.9 421.4L1141.3 419.4L1141.7 419.3L1142.1 419.1L1142.5 419.7L1142.9 419.4L1143.3 419.4L1143.7 419.5L1144.1 419.1L1144.5 419.0L1144.9 419.0L1145.3 419.6L1145.7 419.4L1146.1 419.0L1146.5 419.0L1146.9 419.3L1147.3 419.0L1147.7 419.2L1148.1 419.3L1148.5 419.3L1148.9 419.5L1149.3 419.5L1149.7 419.3L1150.1 419.3L1150.5 419.6L1150.9 419.3L1151.3 419.3L1151.7 419.4L1152.1 419.2L1152.5 418.5L1152.9 419.4L1153.3 419.1L1153.7 419.1L1154.1 419.2L1154.5 419.4L1154.9 418.8L1155.3 419.4L1155.7 419.3L1156.1 418.9L1156.5 419.3L1156.9 418.9L1157.3 419.3L1157.7 419.0L1158.1 419.1L1158.5 418.7L1158.9 418.9L1159.3 418.8L1159.7 419.0L1160.1 418.7L1160.5 418.9L1160.9 421.5L1161.3 418.7L1161.7 419.0L1162.1 418.6L1162.5 418.8L1162.9 418.4L1163.3 418.9L1163.7 418.4L1164.1 418.3L1164.5 418.3L1164.9 418.3L1165.3 418.5L1165.7 418.4L1166.1 418.5L1166.5 418.4L1166.9 418.0L1167.3 418.1L1167.7 418.3L1168.1 418.4L1168.5 418.3L1168.9 418.2L1169.3 417.7L1169.7 417.4L1170.1 418.1L1170.5 417.8L1170.9 417.6L1171.3 417.7L1171.7 417.9L1172.1 417.7L1172.5 417.5L1172.9 417.7L1173.3 417.9L1173.7 417.9L1174.1 417.2L1174.5 417.9L1174.9 417.8L1175.3 418.0L1175.7 417.4L1176.1 417.8L1176.5 417.8L1176.9 417.9L1177.3 417.8L1177.7 418.0L1178.1 417.9L1178.5 418.3L1178.9 418.9L1179.3 418.3L1179.7 418.2L1180.1 419.1L1180.5 418.4L1180.9 418.4L1181.3 418.7L1181.7 418.3L1182.1 418.6L1182.5 418.3L1182.9 418.8L1183.3 418.6L1183.7 418.6L1184.1 418.7L1184.5 419.1L1184.9 418.8L1185.3 418.9L1185.7 419.1L1186.1 419.3L1186.5 418.5L1186.9 419.2L1187.3 419.3L1187.7 419.3L1188.1 419.3L1188.5 419.0L1188.9 420.3L1189.3 419.3L1189.7 419.3L1190.1 419.2L1190.5 419.2L1190.9 418.8L1191.3 418.8L1191.7 419.5L1192.1 419.6L1192.5 419.7L1192.9 419.7L1193.3 419.3L1193.7 419.6L1194.1 419.3L1194.5 419.7L1194.9 419.4L1195.3 419.8L1195.7 419.2L1196.1 419.6L1196.5 419.6L1196.9 419.4L1197.3 419.4L1197.7 419.4L1198.1 419.8L1198.5 419.4L1198.9 419.3L1199.3 419.3L1199.7 419.7L1200.1 419.4L1200.5 420.1L1200.9 420.1L1201.3 419.7L1201.7 419.5L1202.1 419.9L1202.5 419.5L1202.9 419.9L1203.3 419.8L1203.7 419.6L1204.1 419.5L1204.5 419.7L1204.9 419.6L1205.3 419.7L1205.7 419.6L1206.1 420.0L1206.5 419.3L1206.9 419.3L1207.3 419.8L1207.7 419.7L1208.1 419.3L1208.5 419.8L1208.9 419.7L1209.3 419.0L1209.7 420.0L1210.1 419.6L1210.5 419.5L1210.9 419.5L1211.3 419.3L1211.7 419.5L1212.1 419.9L1212.5 419.5L1212.9 419.7L1213.3 419.2L1213.7 419.7L1214.1 419.6L1214.5 419.7L1214.9 419.6L1215.3 419.6L1215.7 419.6L1216.1 420.9L1216.5 420.0L1216.9 419.6L1217.3 419.8L1217.7 419.5L1218.1 419.5L1218.5 419.6L1218.9 420.0L1219.3 419.1L1219.7 419.5L1220.1 419.8L1220.5 419.8L1220.9 419.7L1221.3 419.5L1221.7 419.8L1222.1 419.9L1222.5 420.0L1222.9 419.8L1223.3 419.7L1223.7 419.9L1224.1 420.0L1224.5 419.8L1224.9 419.8L1225.3 419.4L1225.7 420.1" fill="none" stroke="#0000ff" stroke-width="6.0" stroke-linejoin="round" stroke-linecap="butt"/><path d="M90.5 621.6L90.9 621.3L91.3 621.3L91.7 620.8L92.1 621.2L92.5 621.2L92.9 621.3L93.3 621.2L93.7 621.3L94.1 621.2L94.5 621.0L94.9 621.5L95.3 621.5L95.7 621.7L96.1 621.4L96.5 621.3L96.9 621.3L97.3 621.1L97.7 621.6L98.1 621.2L98.5 621.2L98.9 621.4L99.3 621.8L99.7 621.5L100.1 621.2L100.5 621.3L100.9 621.6L101.3 621.5L101.7 621.3L102.1 621.5L102.5 621.7L102.9 622.0L103.3 621.3L103.7 621.4L104.1 621.4L104.5 621.1L104.9 621.4L105.3 621.4L105.7 621.9L106.1 621.6L106.5 621.3L106.9 621.8L107.3 621.6L107.7 621.3L108.1 621.6L108.5 621.6L108.9 621.5L109.3 621.7L109.7 621.2L110.1 621.7L110.5 622.0L110.9 621.9L111.3 622.0L111.7 621.5L112.1 622.1L112.5 621.6L112.9 622.0L113.3 621.4L113.7 621.7L114.1 621.4L114.5 622.1L114.9 622.2L115.3 621.8L115.7 622.3L116.1 621.7L116.5 621.9L116.9 622.0L117.3 621.7L117.7 622.0L118.1 622.4L118.5 621.7L118.9 622.2L119.3 621.9L119.7 622.4L120.1 622.1L120.5 622.2L120.9 622.2L121.3 622.1L121.7 621.7L122.1 622.4L122.5 621.8L122.9 622.1L123.3 622.2L123.7 621.9L124.1 622.1L124.5 622.4L124.9 622.1L125.3 621.9L125.7 621.5L126.1 621.9L126.5 622.0L126.9 622.1L127.3 622.0L127.7 622.3L128.1 622.1L128.5 622.2L128.9 622.4L129.3 622.1L129.7 622.2L130.1 622.7L130.5 622.5L130.9 622.0L131.3 622.3L131.7 622.4L132.1 622.6L132.5 622.4L132.9 622.2L133.3 622.2L133.7 622.5L134.1 622.4L134.5 622.3L134.9 622.4L135.3 622.3L135.7 622.6L136.1 622.3L136.5 622.5L136.9 622.6L137.3 622.6L137.7 622.3L138.1 622.8L138.5 622.3L138.9 622.6L139.3 622.3L139.7 622.1L140.1 622.6L140.5 622.6L140.9 622.5L141.3 622.6L141.7 622.4L142.1 622.4L142.5 622.6L142.9 623.0L143.3 622.8L143.7 622.5L144.1 622.8L144.5 622.5L144.9 622.6L145.3 622.9L145.7 623.6L146.1 622.3L146.5 622.5L146.9 622.7L147.3 622.8L147.7 623.0L148.1 622.6L148.5 622.9L148.9 622.9L149.3 622.7L149.7 623.0L150.1 622.9L150.5 622.6L150.9 623.1L151.3 622.6L151.7 622.8L152.1 622.8L152.5 622.9L152.9 622.7L153.3 622.9L153.7 622.8L154.1 623.1L154.5 622.7L154.9 623.5L155.3 622.9L155.7 622.6L156.1 623.5L156.5 622.9L156.9 622.6L157.3 623.3L157.7 622.7L158.1 623.1L158.5 623.2L158.9 622.8L159.3 622.9L159.7 622.9L160.1 623.0L160.5 622.7L160.9 622.8L161.3 623.0L161.7 623.3L162.1 623.2L162.5 623.4L162.9 623.2L163.3 623.2L163.7 623.1L164.1 622.7L164.5 622.9L164.9 622.9L165.3 623.2L165.7 623.3L166.1 623.0L166.5 623.0L166.9 622.8L167.3 623.1L167.7 623.2L168.1 623.3L168.5 623.0L168.9 623.6L169.3 623.5L169.7 623.2L170.1 623.1L170.5 623.2L170.9 623.3L171.3 623.3L171.7 623.4L172.1 623.4L172.5 623.6L172.9 623.5L173.3 623.3L173.7 623.4L174.1 623.2L174.5 623.2L174.9 623.8L175.3 623.2L175.7 623.8L176.1 623.3L176.5 623.4L176.9 623.6L177.3 624.4L177.7 623.5L178.1 623.4L178.5 623.3L178.9 623.4L179.3 623.3L179.7 623.8L180.1 623.4L180.5 623.8L180.9 622.9L181.3 623.5L181.7 623.6L182.1 623.4L182.5 623.7L182.9 623.6L183.3 623.5L183.7 623.6L184.1 624.2L184.5 623.6L184.9 623.6L185.3 623.5L185.7 623.6L186.1 623.3L186.5 623.5L186.9 624.1L187.3 623.8L187.7 623.8L188.1 623.9L188.5 624.0L188.9 623.8L189.3 624.1L189.7 623.9L190.1 623.7L190.5 624.1L190.9 623.2L191.3 623.6L191.7 623.8L192.1 623.5L192.5 623.7L192.9 623.6L193.3 623.6L193.7 624.3L194.1 623.9L194.5 623.7L194.9 624.1L195.3 623.7L195.7 624.0L196.1 623.9L196.5 624.2L196.9 623.5L197.3 624.0L197.7 623.9L198.1 623.6L198.5 624.1L198.9 623.7L199.3 624.2L199.7 624.0L200.1 624.0L200.5 623.9L200.9 624.1L201.3 623.5L201.7 623.9L202.1 623.8L202.5 624.0L202.9 623.9L203.3 624.1L203.7 623.8L204.1 624.4L204.5 624.5L204.9 623.9L205.3 624.0L205.7 624.1L206.1 624.3L206.5 624.4L206.9 623.8L207.3 623.9L207.7 623.8L208.1 623.8L208.5 623.7L208.9 624.1L209.3 623.8L209.7 624.4L210.1 624.3L210.5 623.9L210.9 623.9L211.3 624.0L211.7 624.4L212.1 624.0L212.5 623.8L212.9 624.1L213.3 624.2L213.7 624.0L214.1 624.5L214.5 624.2L214.9 624.3L215.3 624.0L215.7 624.2L216.1 624.2L216.5 623.7L216.9 624.3L217.3 623.9L217.7 624.2L218.1 623.9L218.5 624.7L218.9 624.3L219.3 624.5L219.7 624.5L220.1 624.0L220.5 623.8L220.9 624.2L221.3 627.8L221.7 624.4L222.1 624.5L222.5 624.6L222.9 624.0L223.3 624.4L223.7 624.8L224.1 624.3L224.5 623.9L224.9 623.9L225.3 624.3L225.7 624.5L226.1 624.2L226.5 624.4L226.9 624.0L227.3 624.6L227.7 624.8L228.1 624.7L228.5 624.1L228.9 624.5L229.3 623.8L229.7 624.6L230.1 624.5L230.5 624.3L230.9 624.6L231.3 624.6L231.7 624.7L232.1 624.6L232.5 624.6L232.9 624.1L233.3 624.3L233.7 624.5L234.1 624.6L234.5 624.6L234.9 624.9L235.3 624.4L235.7 624.6L236.1 624.7L236.5 624.6L236.9 624.7L237.3 624.5L237.7 625.0L238.1 624.6L238.5 624.9L238.9 624.7L239.3 625.0L239.7 624.4L240.1 624.8L240.5 624.6L240.9 624.8L241.3 625.0L241.7 624.5L242.1 624.5L242.5 624.5L242.9 624.8L243.3 624.4L243.7 624.8L244.1 624.5L244.5 624.5L244.9 624.7L245.3 624.9L245.7 624.7L246.1 624.7L246.5 624.8L246.9 624.8L247.3 624.3L247.7 624.8L248.1 624.9L248.5 625.1L248.9 625.3L249.3 625.0L249.7 624.9L250.1 624.7L250.5 624.9L250.9 625.1L251.3 625.2L251.7 624.7L252.1 625.0L252.5 625.1L252.9 625.4L253.3 625.0L253.7 624.9L254.1 624.8L254.5 624.9L254.9 624.9L255.3 625.2L255.7 625.2L256.1 625.2L256.5 625.3L256.9 624.9L257.3 625.1L257.7 625.0L258.1 625.1L258.5 625.3L258.9 625.1L259.3 624.7L259.7 625.0L260.1 624.9L260.5 624.8L260.9 624.9L261.3 625.3L261.7 625.5L262.1 625.0L262.5 625.3L262.9 625.4L263.3 624.8L263.7 625.1L264.1 625.1L264.5 625.1L264.9 624.8L265.3 625.0L265.7 625.3L266.1 625.4L266.5 625.3L266.9 625.0L267.3 625.5L267.7 625.3L268.1 624.8L268.5 625.3L268.9 625.0L269.3 625.2L269.7 625.1L270.1 625.4L270.5 625.2L270.9 625.0L271.3 625.3L271.7 625.2L272.1 625.0L272.5 625.4L272.9 625.0L273.3 625.0L273.7 625.0L274.1 624.8L274.5 626.7L274.9 625.5L275.3 624.9L275.7 625.1L276.1 624.9L276.5 625.0L276.9 625.4L277.3 625.3L277.7 625.0L278.1 625.1L278.5 624.9L278.9 624.9L279.3 624.9L279.7 624.9L280.1 625.2L280.5 625.2L280.9 625.2L281.3 625.1L281.7 624.8L282.1 625.1L282.5 624.9L282.9 625.3L283.3 625.2L283.7 625.3L284.1 625.0L284.5 624.7L284.9 625.3L285.3 625.4L285.7 624.8L286.1 625.2L286.5 625.4L286.9 624.9L287.3 625.5L287.7 625.0L288.1 624.9L288.5 625.4L288.9 625.2L289.3 625.0L289.7 625.3L290.1 624.7L290.5 625.5L290.9 624.9L291.3 625.2L291.7 625.0L292.1 625.2L292.5 625.3L292.9 624.9L293.3 625.3L293.7 625.2L294.1 625.0L294.5 625.1L294.9 624.9L295.3 625.0L295.7 625.3L296.1 625.1L296.5 625.4L296.9 625.2L297.3 624.9L297.7 624.7L298.1 625.0L298.5 625.2L298.9 625.1L299.3 624.9L299.7 625.4L300.1 624.7L300.5 624.9L300.9 625.2L301.3 625.6L301.7 625.2L302.1 624.9L302.5 625.3L302.9 625.3L303.3 625.3L303.7 625.0L304.1 625.0L304.5 625.2L304.9 625.2L305.3 625.5L305.7 625.6L306.1 625.0L306.5 625.0L306.9 625.1L307.3 625.1L307.7 625.2L308.1 625.2L308.5 625.2L308.9 625.4L309.3 625.1L309.7 624.9L310.1 624.8L310.5 624.9L310.9 624.9L311.3 624.7L311.7 625.3L312.1 625.2L312.5 625.0L312.9 624.9L313.3 624.8L313.7 624.9L314.1 625.5L314.5 624.3L314.9 625.2L315.3 625.3L315.7 625.2L316.1 625.1L316.5 625.3L316.9 624.9L317.3 625.3L317.7 625.5L318.1 624.9L318.5 625.0L318.9 625.2L319.3 625.4L319.7 625.4L320.1 625.3L320.5 625.0L320.9 624.9L321.3 625.2L321.7 625.2L322.1 624.9L322.5 625.1L322.9 625.2L323.3 625.4L323.7 626.7L324.1 625.3L324.5 624.9L324.9 625.0L325.3 625.1L325.7 625.5L326.1 625.9L326.5 625.2L326.9 625.2L327.3 625.3L327.7 624.8L328.1 625.3L328.5 624.8L328.9 625.5L329.3 625.4L329.7 625.2L330.1 624.9L330.5 625.4L330.9 625.1L331.3 625.1L331.7 624.6L332.1 624.6L332.5 625.1L332.9 625.2L333.3 625.0L333.7 625.0L334.1 624.7L334.5 625.0L334.9 624.8L335.3 624.7L335.7 624.5L336.1 624.7L336.5 624.6L336.9 624.2L337.3 624.1L337.7 623.9L338.1 623.7L338.5 623.1L338.9 622.8L339.3 622.6L339.7 622.7L340.1 622.3L340.5 623.3L340.9 623.3L341.3 622.8L341.7 623.7L342.1 624.4L342.5 624.3L342.9 624.6L343.3 624.5L343.7 624.7L344.1 624.6L344.5 625.2L344.9 625.0L345.3 624.9L345.7 624.8L346.1 624.9L346.5 625.1L346.9 625.4L347.3 624.7L347.7 624.9L348.1 625.0L348.5 624.9L348.9 624.7L349.3 625.1L349.7 625.3L350.1 624.8L350.5 625.2L350.9 625.3L351.3 625.3L351.7 625.0L352.1 625.6L352.5 625.3L352.9 625.0L353.3 625.4L353.7 624.9L354.1 625.3L354.5 624.9L354.9 625.3L355.3 625.0L355.7 625.4L356.1 625.3L356.5 626.0L356.9 625.2L357.3 625.4L357.7 624.7L358.1 625.2L358.5 625.2L358.9 625.3L359.3 625.3L359.7 626.0L360.1 625.2L360.5 625.3L360.9 625.2L361.3 625.5L361.7 624.7L362.1 625.5L362.5 625.0L362.9 624.6L363.3 624.9L363.7 625.0L364.1 625.1L364.5 625.0L364.9 625.2L365.3 624.9L365.7 624.9L366.1 624.4L366.5 624.9L366.9 625.0L367.3 624.6L367.7 624.3L368.1 624.4L368.5 625.1L368.9 624.7L369.3 624.7L369.7 624.7L370.1 625.1L370.5 624.9L370.9 624.9L371.3 624.7L371.7 625.1L372.1 625.3L372.5 625.1L372.9 625.3L373.3 625.2L373.7 625.2L374.1 625.2L374.5 625.2L374.9 625.4L375.3 625.3L375.7 625.0L376.1 625.2L376.5 625.2L376.9 625.3L377.3 625.2L377.7 625.3L378.1 624.9L378.5 625.3L378.9 625.5L379.3 624.9L379.7 625.5L380.1 625.3L380.5 625.1L380.9 624.8L381.3 625.4L381.7 625.0L382.1 625.1L382.5 625.3L382.9 625.0L383.3 625.0L383.7 624.9L384.1 625.2L384.5 625.3L384.9 625.3L385.3 625.3L385.7 625.1L386.1 625.2L386.5 625.0L386.9 625.6L387.3 625.2L387.7 624.8L388.1 625.0L388.5 625.6L388.9 624.9L389.3 625.1L389.7 625.3L390.1 625.0L390.5 625.4L390.9 625.6L391.3 625.0L391.7 625.5L392.1 625.0L392.5 625.0L392.9 625.3L393.3 625.3L393.7 625.1L394.1 625.4L394.5 624.9L394.9 625.0L395.3 625.0L395.7 625.4L396.1 625.4L396.5 625.4L396.9 624.9L397.3 625.2L397.7 625.3L398.1 624.9L398.5 625.0L398.9 625.4L399.3 625.4L399.7 625.3L400.1 625.3L400.5 625.3L400.9 625.2L401.3 625.2L401.7 625.0L402.1 625.2L402.5 625.1L402.9 625.7L403.3 625.3L403.7 625.2L404.1 625.2L404.5 626.4L404.9 625.2L405.3 625.3L405.7 625.2L406.1 625.4L406.5 625.1L406.9 625.3L407.3 625.4L407.7 625.0L408.1 625.3L408.5 625.3L408.9 625.1L409.3 625.1L409.7 624.8L410.1 625.5L410.5 625.0L410.9 624.9L411.3 625.4L411.7 624.8L412.1 625.4L412.5 625.3L412.9 625.3L413.3 625.2L413.7 624.9L414.1 624.8L414.5 625.5L414.9 625.1L415.3 625.1L415.7 625.6L416.1 625.1L416.5 625.2L416.9 625.2L417.3 625.2L417.7 625.0L418.1 625.1L418.5 625.5L418.9 625.4L419.3 624.6L419.7 624.8L420.1 625.3L420.5 625.2L420.9 625.1L421.3 625.4L421.7 624.8L422.1 625.5L422.5 625.2L422.9 625.3L423.3 625.3L423.7 625.4L424.1 625.1L424.5 625.1L424.9 625.4L425.3 625.2L425.7 624.9L426.1 625.5L426.5 625.4L426.9 625.5L427.3 625.2L427.7 625.2L428.1 625.1L428.5 624.9L428.9 625.2L429.3 625.2L429.7 625.0L430.1 625.5L430.5 624.7L430.9 624.9L431.3 624.9L431.7 625.3L432.1 625.0L432.5 624.9L432.9 624.8L433.3 624.8L433.7 624.6L434.1 625.1L434.5 625.0L434.9 625.0L435.3 624.6L435.7 625.2L436.1 624.3L436.5 623.9L436.9 624.1L437.3 624.0L437.7 623.9L438.1 623.2L438.5 623.2L438.9 623.0L439.3 622.1L439.7 621.7L440.1 621.3L440.5 621.6L440.9 621.7L441.3 621.9L441.7 622.2L442.1 622.7L442.5 622.8L442.9 623.4L443.3 623.3L443.7 623.6L444.1 624.0L444.5 624.0L444.9 624.4L445.3 624.7L445.7 627.1L446.1 624.4L446.5 624.5L446.9 625.0L447.3 624.5L447.7 624.7L448.1 624.7L448.5 624.7L448.9 624.9L449.3 624.6L449.7 624.3L450.1 624.9L450.5 624.6L450.9 624.7L451.3 624.5L451.7 624.6L452.1 624.7L452.5 624.6L452.9 624.2L453.3 624.0L453.7 624.1L454.1 623.9L454.5 623.9L454.9 623.4L455.3 622.8L455.7 623.2L456.1 623.0L456.5 622.7L456.9 622.5L457.3 621.8L457.7 620.9L458.1 620.5L458.5 619.2L458.9 618.2L459.3 616.2L459.7 613.9L460.1 610.8L460.5 607.0L460.9 602.1L461.3 597.1L461.7 591.0L462.1 586.3L462.5 582.8L462.9 582.2L463.3 584.1L463.7 588.3L464.1 593.6L464.5 599.8L464.9 603.9L465.3 608.4L465.7 610.9L466.1 613.8L466.5 615.6L466.9 616.7L467.3 617.2L467.7 617.3L468.1 617.1L468.5 616.9L468.9 615.9L469.3 614.7L469.7 613.5L470.1 612.1L470.5 611.9L470.9 612.2L471.3 612.6L471.7 614.3L472.1 616.1L472.5 617.3L472.9 619.2L473.3 620.2L473.7 620.7L474.1 621.6L474.5 622.3L474.9 622.0L475.3 622.6L475.7 622.6L476.1 622.6L476.5 622.7L476.9 622.3L477.3 621.8L477.7 621.4L478.1 621.3L478.5 620.8L478.9 620.0L479.3 619.3L479.7 618.6L480.1 618.4L480.5 618.1L480.9 618.0L481.3 618.7L481.7 619.7L482.1 620.0L482.5 620.8L482.9 621.5L483.3 621.9L483.7 622.7L484.1 622.4L484.5 623.5L484.9 623.3L485.3 623.2L485.7 623.7L486.1 623.3L486.5 623.9L486.9 624.0L487.3 623.7L487.7 623.7L488.1 624.0L488.5 623.6L488.9 623.8L489.3 623.8L489.7 624.0L490.1 623.5L490.5 623.6L490.9 623.8L491.3 622.9L491.7 623.3L492.1 622.9L492.5 622.8L492.9 623.5L493.3 623.0L493.7 623.2L494.1 622.7L494.5 622.7L494.9 622.3L495.3 622.2L495.7 622.1L496.1 621.9L496.5 622.0L496.9 621.4L497.3 621.3L497.7 620.9L498.1 620.7L498.5 620.0L498.9 620.2L499.3 619.5L499.7 619.2L500.1 618.6L500.5 618.3L500.9 617.6L501.3 616.8L501.7 615.9L502.1 615.0L502.5 613.9L502.9 612.4L503.3 610.8L503.7 608.8L504.1 606.0L504.5 602.5L504.9 599.5L505.3 595.2L505.7 589.5L506.1 583.4L506.5 576.1L506.9 568.7L507.3 559.5L507.7 550.3L508.1 538.8L508.5 528.2L508.9 516.8L509.3 505.0L509.7 493.8L510.1 483.9L510.5 475.3L510.9 469.3L511.3 466.1L511.7 466.0L512.1 469.2L512.5 475.5L512.9 483.6L513.3 493.8L513.7 504.6L514.1 516.5L514.5 527.5L514.9 538.9L515.3 548.6L515.7 558.9L516.1 567.6L516.5 576.0L516.9 582.7L517.3 588.4L517.7 593.6L518.1 598.3L518.5 601.6L518.9 604.6L519.3 606.6L519.7 608.5L520.1 610.5L520.5 612.1L520.9 612.4L521.3 613.4L521.7 613.5L522.1 614.3L522.5 614.0L522.9 613.9L523.3 613.3L523.7 613.0L524.1 612.2L524.5 611.3L524.9 609.1L525.3 607.5L525.7 604.7L526.1 601.8L526.5 598.5L526.9 594.9L527.3 591.8L527.7 589.8L528.1 587.8L528.5 588.1L528.9 590.1L529.3 592.2L529.7 596.3L530.1 599.8L530.5 603.4L530.9 606.8L531.3 609.3L531.7 611.7L532.1 613.9L532.5 615.4L532.9 616.4L533.3 617.5L533.7 618.1L534.1 619.3L534.5 619.0L534.9 619.9L535.3 620.5L535.7 620.5L536.1 620.4L536.5 620.4L536.9 620.4L537.3 620.7L537.7 620.5L538.1 620.3L538.5 620.7L538.9 619.6L539.3 619.3L539.7 618.9L540.1 618.4L540.5 617.6L540.9 616.5L541.3 615.4L541.7 613.7L542.1 611.5L542.5 608.5L542.9 606.1L543.3 602.0L543.7 597.8L544.1 593.1L544.5 587.8L544.9 582.9L545.3 578.9L545.7 576.1L546.1 575.6L546.5 576.9L546.9 580.5L547.3 584.8L547.7 589.9L548.1 594.8L548.5 598.9L548.9 602.4L549.3 605.6L549.7 608.0L550.1 609.8L550.5 610.5L550.9 610.8L551.3 610.4L551.7 610.4L552.1 608.5L552.5 607.0L552.9 605.4L553.3 603.5L553.7 603.2L554.1 603.0L554.5 604.2L554.9 605.8L555.3 608.3L555.7 611.1L556.1 613.4L556.5 615.8L556.9 617.2L557.3 617.9L557.7 619.5L558.1 620.4L558.5 621.4L558.9 621.8L559.3 622.4L559.7 622.6L560.1 623.1L560.5 623.5L560.9 623.3L561.3 623.2L561.7 623.6L562.1 624.3L562.5 624.1L562.9 624.1L563.3 624.1L563.7 624.6L564.1 624.5L564.5 624.5L564.9 624.5L565.3 624.6L565.7 624.6L566.1 624.9L566.5 625.1L566.9 624.4L567.3 624.6L567.7 624.9L568.1 625.0L568.5 624.6L568.9 624.9L569.3 624.9L569.7 625.0L570.1 625.0L570.5 625.6L570.9 625.3L571.3 625.3L571.7 625.3L572.1 625.4L572.5 625.0L572.9 625.1L573.3 625.4L573.7 625.2L574.1 625.4L574.5 625.3L574.9 625.3L575.3 625.3L575.7 624.9L576.1 625.2L576.5 625.1L576.9 625.5L577.3 625.1L577.7 625.3L578.1 625.2L578.5 625.4L578.9 625.5L579.3 625.3L579.7 625.3L580.1 625.3L580.5 625.5L580.9 625.2L581.3 625.3L581.7 625.2L582.1 625.1L582.5 625.4L582.9 625.4L583.3 625.1L583.7 625.7L584.1 625.2L584.5 625.5L584.9 625.4L585.3 625.0L585.7 625.3L586.1 625.0L586.5 625.3L586.9 625.5L587.3 625.7L587.7 625.5L588.1 625.0L588.5 625.3L588.9 625.7L589.3 625.4L589.7 625.7L590.1 625.2L590.5 625.2L590.9 625.0L591.3 625.3L591.7 625.6L592.1 625.1L592.5 625.5L592.9 625.4L593.3 625.5L593.7 625.3L594.1 625.3L594.5 625.7L594.9 625.1L595.3 625.5L595.7 625.7L596.1 625.4L596.5 625.7L596.9 624.7L597.3 625.3L597.7 625.1L598.1 625.3L598.5 625.3L598.9 625.5L599.3 625.2L599.7 625.5L600.1 625.0L600.5 625.6L600.9 625.3L601.3 625.0L601.7 625.0L602.1 625.0L602.5 625.1L602.9 625.4L603.3 625.6L603.7 625.5L604.1 625.1L604.5 624.8L604.9 625.3L605.3 625.0L605.7 625.3L606.1 625.2L606.5 625.9L606.9 625.0L607.3 625.4L607.7 625.8L608.1 625.7L608.5 625.2L608.9 625.7L609.3 624.9L609.7 625.0L610.1 625.1L610.5 625.4L610.9 625.5L611.3 625.3L611.7 625.8L612.1 625.3L612.5 625.3L612.9 625.3L613.3 625.6L613.7 625.4L614.1 625.3L614.5 625.7L614.9 625.6L615.3 625.6L615.7 625.1L616.1 625.1L616.5 625.3L616.9 625.3L617.3 625.3L617.7 625.3L618.1 625.5L618.5 625.1L618.9 625.4L619.3 625.3L619.7 625.3L620.1 625.3L620.5 625.5L620.9 625.4L621.3 625.2L621.7 625.4L622.1 625.4L622.5 625.5L622.9 625.3L623.3 625.6L623.7 625.5L624.1 625.1L624.5 625.1L624.9 625.1L625.3 625.5L625.7 625.2L626.1 625.3L626.5 625.4L626.9 625.7L627.3 625.9L627.7 625.4L628.1 625.8L628.5 625.5L628.9 625.7L629.3 625.3L629.7 625.1L630.1 625.5L630.5 625.7L630.9 625.0L631.3 625.4L631.7 625.4L632.1 625.5L632.5 625.2L632.9 625.3L633.3 625.6L633.7 625.8L634.1 625.4L634.5 625.6L634.9 625.6L635.3 625.5L635.7 625.3L636.1 625.3L636.5 625.3L636.9 625.4L637.3 625.6L637.7 625.4L638.1 625.5L638.5 625.3L638.9 625.6L639.3 624.7L639.7 625.1L640.1 625.3L640.5 625.0L640.9 625.5L641.3 625.4L641.7 625.2L642.1 625.4L642.5 625.1L642.9 625.2L643.3 625.3L643.7 625.0L644.1 625.6L644.5 625.3L644.9 625.6L645.3 625.4L645.7 625.5L646.1 625.2L646.5 625.3L646.9 625.3L647.3 625.5L647.7 625.7L648.1 625.3L648.5 625.4L648.9 625.5L649.3 625.6L649.7 625.4L650.1 625.3L650.5 625.3L650.9 625.4L651.3 625.5L651.7 625.3L652.1 625.3L652.5 625.6L652.9 625.4L653.3 625.3L653.7 625.6L654.1 625.6L654.5 625.5L654.9 625.6L655.3 625.3L655.7 625.5L656.1 625.5L656.5 625.4L656.9 625.0L657.3 625.4L657.7 625.5L658.1 625.5L658.5 625.3L658.9 625.4L659.3 625.0L659.7 625.1L660.1 624.8L660.5 625.4L660.9 625.8L661.3 625.8L661.7 625.3L662.1 625.3L662.5 625.7L662.9 625.3L663.3 625.0L663.7 625.7L664.1 625.3L664.5 625.3L664.9 625.8L665.3 625.5L665.7 625.6L666.1 625.8L666.5 625.4L666.9 625.2L667.3 625.6L667.7 625.4L668.1 625.6L668.5 625.5L668.9 625.2L669.3 625.4L669.7 625.3L670.1 625.4L670.5 625.4L670.9 625.5L671.3 625.5L671.7 625.1L672.1 625.6L672.5 625.1L672.9 625.9L673.3 625.2L673.7 625.4L674.1 625.7L674.5 625.4L674.9 625.1L675.3 625.1L675.7 625.5L676.1 625.5L676.5 625.6L676.9 625.5L677.3 625.3L677.7 625.5L678.1 625.7L678.5 625.2L678.9 626.2L679.3 624.8L679.7 625.7L680.1 625.8L680.5 625.6L680.9 625.4L681.3 625.5L681.7 625.5L682.1 624.8L682.5 625.4L682.9 625.2L683.3 625.2L683.7 625.3L684.1 625.3L684.5 625.4L684.9 625.1L685.3 625.4L685.7 624.7L686.1 624.8L686.5 624.7L686.9 624.9L687.3 624.7L687.7 624.9L688.1 624.5L688.5 625.0L688.9 624.9L689.3 624.7L689.7 624.5L690.1 624.6L690.5 624.6L690.9 625.3L691.3 625.3L691.7 624.9L692.1 625.6L692.5 625.2L692.9 624.8L693.3 625.5L693.7 625.6L694.1 625.3L694.5 625.1L694.9 625.6L695.3 625.2L695.7 625.4L696.1 625.5L696.5 625.4L696.9 625.3L697.3 625.1L697.7 625.5L698.1 624.9L698.5 627.7L698.9 625.4L699.3 625.5L699.7 625.3L700.1 625.4L700.5 625.6L700.9 625.2L701.3 625.4L701.7 625.5L702.1 625.1L702.5 625.2L702.9 625.9L703.3 625.6L703.7 625.2L704.1 625.5L704.5 625.5L704.9 625.7L705.3 625.6L705.7 624.9L706.1 625.3L706.5 625.7L706.9 625.7L707.3 625.2L707.7 625.1L708.1 625.4L708.5 625.2L708.9 625.4L709.3 625.1L709.7 625.5L710.1 625.5L710.5 625.5L710.9 625.1L711.3 625.0L711.7 625.1L712.1 625.5L712.5 625.0L712.9 625.5L713.3 625.8L713.7 625.2L714.1 625.3L714.5 625.6L714.9 625.6L715.3 625.2L715.7 625.3L716.1 625.4L716.5 625.3L716.9 625.5L717.3 625.4L717.7 625.6L718.1 625.0L718.5 625.6L718.9 625.3L719.3 625.3L719.7 625.4L720.1 625.5L720.5 625.4L720.9 625.3L721.3 625.4L721.7 625.2L722.1 625.0L722.5 625.1L722.9 625.1L723.3 625.3L723.7 625.5L724.1 625.4L724.5 625.6L724.9 625.3L725.3 625.1L725.7 625.1L726.1 625.1L726.5 625.2L726.9 625.6L727.3 624.3L727.7 625.4L728.1 625.3L728.5 625.4L728.9 625.1L729.3 625.4L729.7 625.1L730.1 625.4L730.5 624.8L730.9 625.3L731.3 625.4L731.7 624.9L732.1 625.4L732.5 624.9L732.9 625.4L733.3 625.2L733.7 625.4L734.1 625.2L734.5 624.9L734.9 625.5L735.3 625.4L735.7 624.9L736.1 625.2L736.5 625.2L736.9 625.4L737.3 624.8L737.7 625.3L738.1 625.0L738.5 625.2L738.9 625.4L739.3 625.0L739.7 624.8L740.1 625.2L740.5 624.6L740.9 624.7L741.3 625.6L741.7 624.7L742.1 624.9L742.5 624.6L742.9 624.8L743.3 624.8L743.7 624.2L744.1 624.6L744.5 624.8L744.9 624.8L745.3 624.7L745.7 624.4L746.1 624.6L746.5 624.4L746.9 624.3L747.3 624.4L747.7 624.8L748.1 624.0L748.5 624.4L748.9 624.2L749.3 623.7L749.7 623.7L750.1 623.8L750.5 623.6L750.9 623.7L751.3 623.6L751.7 623.2L752.1 623.5L752.5 623.2L752.9 622.8L753.3 622.9L753.7 623.1L754.1 622.4L754.5 622.0L754.9 622.4L755.3 622.4L755.7 622.1L756.1 621.3L756.5 620.9L756.9 621.4L757.3 620.9L757.7 620.8L758.1 620.4L758.5 620.6L758.9 620.0L759.3 619.6L759.7 619.5L760.1 619.0L760.5 619.1L760.9 618.8L761.3 615.7L761.7 618.2L762.1 618.1L762.5 617.9L762.9 618.2L763.3 618.4L763.7 618.2L764.1 617.8L764.5 617.8L764.9 618.5L765.3 618.3L765.7 618.5L766.1 618.4L766.5 618.5L766.9 619.6L767.3 619.2L767.7 619.5L768.1 619.6L768.5 620.4L768.9 620.2L769.3 620.5L769.7 620.8L770.1 621.0L770.5 621.5L770.9 621.1L771.3 621.8L771.7 621.7L772.1 622.0L772.5 622.1L772.9 622.5L773.3 622.3L773.7 622.7L774.1 623.1L774.5 623.0L774.9 623.1L775.3 623.4L775.7 623.5L776.1 623.5L776.5 623.7L776.9 623.6L777.3 624.1L777.7 623.7L778.1 623.7L778.5 624.2L778.9 623.9L779.3 624.0L779.7 624.3L780.1 624.5L780.5 624.3L780.9 624.4L781.3 624.3L781.7 624.7L782.1 624.5L782.5 624.7L782.9 625.0L783.3 624.7L783.7 624.7L784.1 624.6L784.5 624.2L784.9 624.5L785.3 624.6L785.7 624.7L786.1 625.0L786.5 625.0L786.9 624.8L787.3 625.0L787.7 624.7L788.1 625.4L788.5 623.0L788.9 625.0L789.3 625.1L789.7 625.0L790.1 625.2L790.5 624.9L790.9 624.7L791.3 625.2L791.7 624.8L792.1 625.2L792.5 624.9L792.9 624.9L793.3 626.1L793.7 625.5L794.1 625.1L794.5 625.0L794.9 625.2L795.3 625.0L795.7 624.7L796.1 625.1L796.5 624.6L796.9 625.2L797.3 624.7L797.7 625.1L798.1 624.8L798.5 624.9L798.9 625.2L799.3 625.4L799.7 625.3L800.1 625.2L800.5 624.8L800.9 625.2L801.3 625.1L801.7 625.0L802.1 625.3L802.5 624.8L802.9 625.4L803.3 624.8L803.7 624.8L804.1 624.9L804.5 624.6L804.9 624.7L805.3 624.8L805.7 624.4L806.1 624.5L806.5 624.3L806.9 624.5L807.3 623.4L807.7 624.4L808.1 624.3L808.5 624.3L808.9 623.9L809.3 624.0L809.7 623.7L810.1 623.5L810.5 623.0L810.9 622.9L811.3 622.9L811.7 622.6L812.1 621.8L812.5 621.3L812.9 620.5L813.3 619.7L813.7 618.7L814.1 618.6L814.5 617.1L814.9 616.4L815.3 615.8L815.7 614.6L816.1 614.0L816.5 613.8L816.9 613.7L817.3 614.1L817.7 614.6L818.1 615.7L818.5 616.5L818.9 617.0L819.3 617.9L819.7 619.0L820.1 619.8L820.5 620.5L820.9 621.5L821.3 621.7L821.7 622.3L822.1 622.8L822.5 622.7L822.9 623.5L823.3 623.8L823.7 624.2L824.1 623.8L824.5 624.1L824.9 624.4L825.3 624.4L825.7 624.2L826.1 624.8L826.5 624.6L826.9 624.8L827.3 624.6L827.7 625.1L828.1 624.8L828.5 624.8L828.9 625.2L829.3 625.3L829.7 624.9L830.1 625.3L830.5 625.5L830.9 625.2L831.3 624.9L831.7 624.6L832.1 625.5L832.5 625.0L832.9 625.6L833.3 625.2L833.7 625.3L834.1 625.5L834.5 625.4L834.9 625.6L835.3 625.3L835.7 625.4L836.1 625.4L836.5 625.4L836.9 625.5L837.3 625.5L837.7 625.3L838.1 625.6L838.5 625.4L838.9 625.7L839.3 625.6L839.7 625.4L840.1 625.3L840.5 625.4L840.9 625.7L841.3 625.5L841.7 625.7L842.1 625.4L842.5 625.4L842.9 625.3L843.3 625.0L843.7 625.5L844.1 625.5L844.5 625.5L844.9 625.6L845.3 625.3L845.7 625.8L846.1 625.2L846.5 625.5L846.9 625.2L847.3 625.4L847.7 625.7L848.1 625.2L848.5 625.5L848.9 625.5L849.3 625.5L849.7 625.5L850.1 625.7L850.5 625.6L850.9 625.6L851.3 625.7L851.7 625.6L852.1 625.5L852.5 625.2L852.9 625.7L853.3 625.4L853.7 625.9L854.1 625.4L854.5 625.2L854.9 625.7L855.3 625.3L855.7 625.2L856.1 625.7L856.5 625.2L856.9 625.8L857.3 625.3L857.7 625.6L858.1 626.4L858.5 625.1L858.9 625.5L859.3 625.4L859.7 625.5L860.1 625.6L860.5 625.0L860.9 625.4L861.3 625.4L861.7 625.9L862.1 625.6L862.5 625.6L862.9 625.1L863.3 625.1L863.7 625.3L864.1 625.3L864.5 625.5L864.9 626.0L865.3 625.1L865.7 625.2L866.1 625.4L866.5 625.3L866.9 625.5L867.3 625.1L867.7 624.9L868.1 625.5L868.5 625.1L868.9 624.7L869.3 624.8L869.7 624.8L870.1 624.4L870.5 624.8L870.9 624.5L871.3 624.3L871.7 624.2L872.1 624.6L872.5 624.2L872.9 624.0L873.3 623.8L873.7 624.0L874.1 624.6L874.5 624.7L874.9 624.2L875.3 624.1L875.7 624.7L876.1 624.7L876.5 625.0L876.9 624.7L877.3 625.0L877.7 624.6L878.1 624.7L878.5 624.9L878.9 625.0L879.3 625.2L879.7 625.4L880.1 624.8L880.5 625.6L880.9 624.9L881.3 625.0L881.7 625.3L882.1 624.5L882.5 624.7L882.9 624.8L883.3 624.9L883.7 625.1L884.1 625.0L884.5 624.5L884.9 624.7L885.3 624.3L885.7 624.6L886.1 624.0L886.5 624.1L886.9 623.4L887.3 623.6L887.7 622.9L888.1 622.9L888.5 622.2L888.9 622.3L889.3 621.9L889.7 621.7L890.1 621.8L890.5 621.9L890.9 621.8L891.3 621.9L891.7 622.2L892.1 622.6L892.5 622.8L892.9 623.0L893.3 623.6L893.7 623.3L894.1 623.9L894.5 623.7L894.9 624.7L895.3 624.3L895.7 624.5L896.1 624.9L896.5 624.7L896.9 624.6L897.3 624.5L897.7 624.9L898.1 625.5L898.5 625.1L898.9 625.5L899.3 625.4L899.7 625.1L900.1 624.9L900.5 625.2L900.9 625.4L901.3 625.3L901.7 625.4L902.1 625.5L902.5 625.3L902.9 625.0L903.3 625.3L903.7 625.5L904.1 625.2L904.5 625.2L904.9 625.2L905.3 625.4L905.7 625.4L906.1 625.4L906.5 625.2L906.9 625.4L907.3 625.3L907.7 625.2L908.1 625.0L908.5 625.2L908.9 625.3L909.3 625.5L909.7 625.5L910.1 625.5L910.5 625.5L910.9 625.2L911.3 625.6L911.7 625.6L912.1 625.6L912.5 625.3L912.9 625.4L913.3 625.3L913.7 625.1L914.1 625.4L914.5 625.1L914.9 625.0L915.3 625.5L915.7 625.5L916.1 625.5L916.5 625.2L916.9 625.3L917.3 625.3L917.7 625.0L918.1 624.6L918.5 625.5L918.9 625.2L919.3 625.1L919.7 624.8L920.1 624.5L920.5 624.7L920.9 624.8L921.3 624.5L921.7 624.8L922.1 625.1L922.5 625.4L922.9 625.3L923.3 625.1L923.7 625.0L924.1 625.7L924.5 625.4L924.9 625.5L925.3 625.4L925.7 625.1L926.1 625.9L926.5 625.6L926.9 625.4L927.3 625.3L927.7 625.5L928.1 625.8L928.5 625.4L928.9 625.3L929.3 625.2L929.7 625.2L930.1 625.7L930.5 625.5L930.9 625.1L931.3 625.8L931.7 625.8L932.1 625.7L932.5 625.1L932.9 625.5L933.3 625.7L933.7 625.2L934.1 625.3L934.5 625.4L934.9 625.0L935.3 625.5L935.7 625.7L936.1 625.6L936.5 626.1L936.9 625.5L937.3 625.4L937.7 625.4L938.1 625.3L938.5 625.2L938.9 625.2L939.3 625.4L939.7 625.3L940.1 625.4L940.5 625.4L940.9 625.5L941.3 625.2L941.7 624.9L942.1 625.1L942.5 625.8L942.9 625.5L943.3 625.2L943.7 625.3L944.1 625.3L944.5 625.2L944.9 625.3L945.3 625.4L945.7 625.5L946.1 625.1L946.5 625.1L946.9 625.1L947.3 625.2L947.7 625.4L948.1 625.0L948.5 625.6L948.9 625.2L949.3 625.3L949.7 624.8L950.1 624.9L950.5 624.9L950.9 625.0L951.3 624.5L951.7 625.0L952.1 624.5L952.5 624.9L952.9 625.0L953.3 624.7L953.7 624.7L954.1 624.6L954.5 624.6L954.9 624.6L955.3 624.7L955.7 624.6L956.1 624.7L956.5 624.3L956.9 624.1L957.3 624.0L957.7 623.7L958.1 623.8L958.5 623.7L958.9 624.0L959.3 623.6L959.7 623.7L960.1 622.7L960.5 623.0L960.9 622.9L961.3 622.5L961.7 622.0L962.1 621.8L962.5 621.5L962.9 621.1L963.3 620.6L963.7 620.3L964.1 619.6L964.5 619.0L964.9 618.3L965.3 617.7L965.7 616.7L966.1 616.2L966.5 615.1L966.9 614.5L967.3 613.3L967.7 612.5L968.1 611.7L968.5 610.7L968.9 610.4L969.3 609.6L969.7 609.0L970.1 609.0L970.5 608.6L970.9 608.7L971.3 609.2L971.7 610.0L972.1 610.1L972.5 611.1L972.9 611.6L973.3 612.3L973.7 613.4L974.1 614.4L974.5 615.0L974.9 615.9L975.3 616.3L975.7 616.8L976.1 618.0L976.5 618.3L976.9 619.1L977.3 619.5L977.7 620.1L978.1 620.7L978.5 620.4L978.9 621.1L979.3 621.3L979.7 621.8L980.1 621.7L980.5 621.6L980.9 621.7L981.3 622.3L981.7 621.6L982.1 621.7L982.5 621.6L982.9 621.0L983.3 620.8L983.7 620.2L984.1 620.0L984.5 619.8L984.9 619.2L985.3 618.2L985.7 618.3L986.1 617.2L986.5 616.8L986.9 617.1L987.3 616.8L987.7 616.8L988.1 617.5L988.5 617.7L988.9 618.4L989.3 618.9L989.7 619.7L990.1 620.4L990.5 621.2L990.9 621.4L991.3 622.0L991.7 622.0L992.1 622.5L992.5 623.3L992.9 623.4L993.3 623.6L993.7 624.0L994.1 624.0L994.5 624.2L994.9 624.3L995.3 624.0L995.7 624.7L996.1 625.0L996.5 625.0L996.9 624.8L997.3 624.9L997.7 625.0L998.1 625.3L998.5 625.2L998.9 624.9L999.3 625.0L999.7 625.0L1000.1 625.0L1000.5 623.0L1000.9 625.1L1001.3 624.7L1001.7 625.3L1002.1 625.1L1002.5 625.0L1002.9 625.2L1003.3 625.1L1003.7 625.6L1004.1 625.1L1004.5 625.3L1004.9 625.4L1005.3 625.2L1005.7 625.1L1006.1 625.5L1006.5 625.3L1006.9 625.2L1007.3 625.1L1007.7 625.6L1008.1 625.8L1008.5 625.3L1008.9 625.6L1009.3 625.7L1009.7 625.7L1010.1 625.3L1010.5 625.6L1010.9 625.6L1011.3 626.0L1011.7 625.5L1012.1 625.7L1012.5 625.7L1012.9 625.7L1013.3 625.3L1013.7 625.6L1014.1 625.9L1014.5 625.5L1014.9 628.2L1015.3 625.4L1015.7 625.6L1016.1 625.6L1016.5 625.7L1016.9 625.5L1017.3 625.5L1017.7 625.4L1018.1 625.6L1018.5 625.6L1018.9 626.0L1019.3 625.4L1019.7 625.7L1020.1 625.4L1020.5 625.5L1020.9 625.8L1021.3 625.7L1021.7 625.7L1022.1 625.3L1022.5 626.1L1022.9 626.0L1023.3 625.4L1023.7 625.3L1024.1 625.4L1024.5 625.6L1024.9 625.3L1025.3 625.6L1025.7 625.4L1026.1 626.1L1026.5 625.5L1026.9 625.4L1027.3 625.9L1027.7 625.6L1028.1 625.5L1028.5 625.5L1028.9 625.6L1029.3 625.4L1029.7 625.5L1030.1 625.3L1030.5 625.2L1030.9 625.4L1031.3 625.4L1031.7 625.7L1032.1 625.4L1032.5 625.3L1032.9 625.3L1033.3 625.4L1033.7 624.7L1034.1 625.1L1034.5 624.6L1034.9 624.7L1035.3 624.8L1035.7 624.8L1036.1 624.7L1036.5 624.6L1036.9 624.7L1037.3 624.4L1037.7 624.2L1038.1 623.8L1038.5 624.1L1038.9 623.7L1039.3 623.1L1039.7 622.9L1040.1 623.0L1040.5 623.0L1040.9 622.6L1041.3 623.0L1041.7 622.6L1042.1 622.9L1042.5 623.4L1042.9 623.2L1043.3 623.6L1043.7 623.8L1044.1 623.9L1044.5 623.8L1044.9 624.3L1045.3 624.6L1045.7 624.7L1046.1 625.0L1046.5 625.1L1046.9 624.9L1047.3 625.0L1047.7 625.5L1048.1 625.4L1048.5 625.3L1048.9 625.3L1049.3 625.6L1049.7 625.6L1050.1 625.4L1050.5 625.5L1050.9 625.5L1051.3 625.5L1051.7 625.9L1052.1 625.2L1052.5 625.7L1052.9 625.3L1053.3 625.4L1053.7 625.7L1054.1 625.3L1054.5 625.4L1054.9 625.3L1055.3 625.4L1055.7 625.6L1056.1 625.8L1056.5 625.5L1056.9 625.8L1057.3 625.3L1057.7 626.1L1058.1 625.5L1058.5 625.5L1058.9 625.7L1059.3 625.6L1059.7 625.6L1060.1 625.3L1060.5 625.8L1060.9 625.8L1061.3 625.5L1061.7 625.4L1062.1 625.7L1062.5 625.9L1062.9 625.3L1063.3 625.4L1063.7 625.6L1064.1 625.5L1064.5 625.6L1064.9 625.6L1065.3 625.8L1065.7 625.8L1066.1 625.8L1066.5 625.8L1066.9 625.5L1067.3 625.1L1067.7 626.3L1068.1 625.7L1068.5 625.7L1068.9 625.5L1069.3 626.1L1069.7 625.3L1070.1 625.8L1070.5 625.8L1070.9 625.8L1071.3 625.5L1071.7 625.8L1072.1 625.7L1072.5 625.6L1072.9 625.8L1073.3 625.7L1073.7 625.8L1074.1 625.4L1074.5 625.3L1074.9 625.7L1075.3 625.8L1075.7 625.3L1076.1 625.4L1076.5 625.6L1076.9 626.0L1077.3 625.7L1077.7 625.9L1078.1 625.6L1078.5 625.8L1078.9 625.9L1079.3 625.6L1079.7 626.1L1080.1 625.6L1080.5 625.7L1080.9 625.3L1081.3 625.6L1081.7 625.5L1082.1 625.5L1082.5 625.7L1082.9 625.4L1083.3 625.7L1083.7 625.2L1084.1 625.6L1084.5 626.0L1084.9 625.7L1085.3 625.8L1085.7 625.5L1086.1 625.4L1086.5 626.0L1086.9 625.9L1087.3 625.8L1087.7 625.7L1088.1 625.9L1088.5 625.6L1088.9 625.8L1089.3 625.8L1089.7 625.5L1090.1 626.0L1090.5 625.7L1090.9 625.8L1091.3 625.3L1091.7 625.4L1092.1 625.6L1092.5 625.8L1092.9 625.9L1093.3 625.7L1093.7 625.6L1094.1 625.8L1094.5 625.6L1094.9 625.7L1095.3 625.7L1095.7 625.5L1096.1 625.7L1096.5 625.3L1096.9 625.5L1097.3 626.1L1097.7 625.5L1098.1 625.8L1098.5 625.7L1098.9 625.6L1099.3 626.0L1099.7 625.8L1100.1 625.5L1100.5 625.5L1100.9 625.7L1101.3 625.3L1101.7 625.9L1102.1 625.6L1102.5 625.3L1102.9 625.4L1103.3 625.9L1103.7 625.7L1104.1 626.1L1104.5 625.6L1104.9 625.7L1105.3 626.1L1105.7 626.1L1106.1 625.4L1106.5 625.8L1106.9 625.4L1107.3 625.5L1107.7 625.3L1108.1 625.8L1108.5 625.4L1108.9 625.5L1109.3 626.0L1109.7 625.8L1110.1 625.6L1110.5 625.2L1110.9 625.7L1111.3 625.1L1111.7 625.4L1112.1 625.8L1112.5 625.8L1112.9 625.7L1113.3 625.8L1113.7 625.7L1114.1 625.5L1114.5 626.4L1114.9 626.0L1115.3 625.6L1115.7 625.7L1116.1 625.7L1116.5 625.3L1116.9 625.4L1117.3 625.3L1117.7 625.7L1118.1 625.5L1118.5 625.3L1118.9 625.3L1119.3 627.0L1119.7 625.8L1120.1 625.7L1120.5 625.6L1120.9 625.7L1121.3 625.6L1121.7 625.7L1122.1 625.5L1122.5 625.4L1122.9 625.4L1123.3 626.0L1123.7 625.9L1124.1 625.4L1124.5 625.3L1124.9 625.7L1125.3 625.7L1125.7 625.4L1126.1 625.4L1126.5 625.4L1126.9 625.6L1127.3 626.2L1127.7 625.3L1128.1 625.5L1128.5 625.4L1128.9 625.5L1129.3 625.5L1129.7 625.5L1130.1 625.2L1130.5 625.1L1130.9 625.5L1131.3 625.3L1131.7 625.3L1132.1 625.3L1132.5 625.0L1132.9 625.3L1133.3 624.8L1133.7 624.7L1134.1 624.7L1134.5 624.8L1134.9 625.3L1135.3 624.7L1135.7 624.8L1136.1 625.0L1136.5 624.6L1136.9 624.4L1137.3 624.6L1137.7 624.7L1138.1 624.5L1138.5 624.8L1138.9 624.9L1139.3 625.4L1139.7 625.1L1140.1 625.0L1140.5 624.9L1140.9 625.1L1141.3 624.6L1141.7 625.0L1142.1 624.5L1142.5 625.0L1142.9 625.4L1143.3 624.9L1143.7 625.1L1144.1 624.8L1144.5 624.5L1144.9 625.0L1145.3 624.8L1145.7 624.9L1146.1 624.8L1146.5 624.9L1146.9 624.6L1147.3 624.8L1147.7 624.8L1148.1 624.5L1148.5 624.4L1148.9 624.7L1149.3 624.5L1149.7 624.3L1150.1 623.9L1150.5 624.1L1150.9 624.4L1151.3 624.0L1151.7 623.9L1152.1 623.7L1152.5 623.8L1152.9 623.7L1153.3 623.7L1153.7 623.4L1154.1 623.2L1154.5 623.8L1154.9 623.3L1155.3 623.0L1155.7 623.0L1156.1 623.1L1156.5 623.1L1156.9 622.9L1157.3 622.6L1157.7 622.7L1158.1 622.2L1158.5 622.3L1158.9 622.7L1159.3 622.4L1159.7 622.3L1160.1 622.1L1160.5 622.0L1160.9 622.3L1161.3 622.2L1161.7 622.5L1162.1 622.0L1162.5 622.2L1162.9 622.2L1163.3 622.1L1163.7 622.7L1164.1 622.7L1164.5 622.5L1164.9 622.2L1165.3 622.7L1165.7 622.8L1166.1 622.7L1166.5 622.5L1166.9 623.4L1167.3 622.8L1167.7 623.4L1168.1 623.1L1168.5 623.3L1168.9 623.7L1169.3 623.3L1169.7 623.6L1170.1 623.8L1170.5 624.1L1170.9 624.2L1171.3 624.1L1171.7 623.9L1172.1 624.5L1172.5 624.2L1172.9 624.4L1173.3 624.0L1173.7 624.5L1174.1 624.7L1174.5 624.6L1174.9 624.8L1175.3 625.0L1175.7 625.2L1176.1 624.8L1176.5 624.6L1176.9 624.4L1177.3 625.0L1177.7 624.7L1178.1 625.2L1178.5 624.7L1178.9 625.4L1179.3 625.2L1179.7 624.9L1180.1 623.2L1180.5 625.4L1180.9 625.5L1181.3 625.4L1181.7 625.5L1182.1 625.5L1182.5 625.4L1182.9 625.5L1183.3 625.2L1183.7 625.7L1184.1 625.3L1184.5 625.5L1184.9 625.3L1185.3 625.8L1185.7 625.6L1186.1 625.4L1186.5 625.7L1186.9 625.6L1187.3 625.8L1187.7 625.7L1188.1 625.7L1188.5 625.6L1188.9 625.3L1189.3 625.8L1189.7 625.9L1190.1 625.5L1190.5 625.9L1190.9 626.0L1191.3 626.0L1191.7 626.1L1192.1 626.0L1192.5 625.7L1192.9 626.3L1193.3 625.8L1193.7 625.7L1194.1 626.2L1194.5 625.7L1194.9 626.0L1195.3 625.7L1195.7 626.1L1196.1 626.2L1196.5 625.8L1196.9 626.0L1197.3 626.1L1197.7 625.9L1198.1 626.0L1198.5 625.7L1198.9 625.8L1199.3 625.7L1199.7 626.0L1200.1 626.1L1200.5 626.1L1200.9 626.1L1201.3 626.1L1201.7 625.9L1202.1 626.3L1202.5 625.8L1202.9 626.2L1203.3 626.0L1203.7 625.9L1204.1 626.4L1204.5 626.1L1204.9 625.8L1205.3 626.1L1205.7 625.9L1206.1 626.4L1206.5 625.9L1206.9 626.1L1207.3 625.9L1207.7 625.9L1208.1 626.2L1208.5 626.3L1208.9 626.3L1209.3 626.0L1209.7 625.9L1210.1 626.2L1210.5 626.0L1210.9 626.4L1211.3 625.8L1211.7 626.2L1212.1 625.8L1212.5 625.9L1212.9 625.7L1213.3 625.8L1213.7 626.2L1214.1 625.9L1214.5 625.9L1214.9 625.8L1215.3 625.9L1215.7 626.0L1216.1 626.3L1216.5 626.1L1216.9 626.1L1217.3 626.1L1217.7 626.3L1218.1 625.9L1218.5 626.2L1218.9 625.9L1219.3 625.9L1219.7 626.3L1220.1 625.8L1220.5 626.1L1220.9 625.9L1221.3 626.2L1221.7 626.6L1222.1 626.3L1222.5 626.3L1222.9 626.1L1223.3 626.4L1223.7 626.1L1224.1 626.8L1224.5 626.2L1224.9 626.2L1225.3 626.4L1225.7 625.9" fill="none" stroke="#00e000" stroke-width="6.0" stroke-linejoin="round" stroke-linecap="butt"/><path d="M90.5 815.2L90.9 815.3L91.3 815.0L91.7 815.4L92.1 815.2L92.5 814.9L92.9 815.1L93.3 815.4L93.7 815.4L94.1 815.0L94.5 815.4L94.9 815.3L95.3 815.4L95.7 815.4L96.1 815.1L96.5 815.4L96.9 815.2L97.3 815.7L97.7 815.5L98.1 814.1L98.5 815.2L98.9 815.4L99.3 815.4L99.7 815.2L100.1 815.9L100.5 815.5L100.9 815.8L101.3 815.2L101.7 815.8L102.1 815.2L102.5 815.3L102.9 815.6L103.3 815.5L103.7 815.0L104.1 815.3L104.5 815.7L104.9 816.0L105.3 815.8L105.7 815.5L106.1 815.7L106.5 815.3L106.9 815.7L107.3 815.3L107.7 815.6L108.1 815.6L108.5 815.8L108.9 815.6L109.3 815.9L109.7 815.6L110.1 815.8L110.5 815.8L110.9 815.3L111.3 815.7L111.7 815.7L112.1 815.5L112.5 815.8L112.9 815.4L113.3 815.9L113.7 815.9L114.1 815.8L114.5 816.3L114.9 815.8L115.3 815.8L115.7 815.6L116.1 815.9L116.5 815.6L116.9 816.1L117.3 815.7L117.7 815.9L118.1 816.3L118.5 816.1L118.9 815.9L119.3 816.2L119.7 815.9L120.1 816.1L120.5 815.9L120.9 815.7L121.3 816.0L121.7 816.1L122.1 815.9L122.5 815.7L122.9 815.8L123.3 815.4L123.7 815.8L124.1 815.7L124.5 816.4L124.9 815.9L125.3 815.7L125.7 816.2L126.1 816.0L126.5 816.0L126.9 816.1L127.3 816.1L127.7 816.0L128.1 816.3L128.5 816.2L128.9 817.7L129.3 816.1L129.7 815.9L130.1 816.2L130.5 816.3L130.9 816.3L131.3 816.3L131.7 816.1L132.1 816.5L132.5 816.1L132.9 816.2L133.3 816.1L133.7 816.2L134.1 816.2L134.5 816.7L134.9 816.3L135.3 816.5L135.7 816.2L136.1 815.2L136.5 816.5L136.9 816.6L137.3 816.2L137.7 816.4L138.1 816.3L138.5 816.4L138.9 816.8L139.3 816.3L139.7 816.1L140.1 816.5L140.5 816.5L140.9 816.5L141.3 816.6L141.7 816.2L142.1 816.0L142.5 816.6L142.9 816.3L143.3 816.2L143.7 816.2L144.1 816.7L144.5 816.5L144.9 816.5L145.3 816.7L145.7 816.3L146.1 816.2L146.5 816.3L146.9 816.3L147.3 816.5L147.7 816.3L148.1 816.5L148.5 816.4L148.9 816.5L149.3 816.7L149.7 816.9L150.1 816.9L150.5 816.6L150.9 816.6L151.3 816.5L151.7 816.8L152.1 817.0L152.5 816.5L152.9 817.1L153.3 816.6L153.7 816.6L154.1 816.7L154.5 816.6L154.9 816.9L155.3 816.4L155.7 816.6L156.1 816.7L156.5 816.5L156.9 816.8L157.3 816.4L157.7 816.8L158.1 816.4L158.5 816.7L158.9 816.9L159.3 818.9L159.7 817.0L160.1 815.7L160.5 816.8L160.9 817.3L161.3 816.8L161.7 816.8L162.1 816.6L162.5 816.9L162.9 817.1L163.3 816.7L163.7 816.8L164.1 816.8L164.5 816.8L164.9 816.8L165.3 816.6L165.7 817.2L166.1 816.5L166.5 816.8L166.9 817.0L167.3 817.2L167.7 816.9L168.1 816.9L168.5 817.0L168.9 817.0L169.3 817.2L169.7 816.9L170.1 816.8L170.5 816.9L170.9 817.1L171.3 817.0L171.7 817.4L172.1 817.0L172.5 816.8L172.9 816.8L173.3 817.6L173.7 817.0L174.1 817.2L174.5 817.6L174.9 817.0L175.3 817.1L175.7 817.0L176.1 816.9L176.5 817.4L176.9 817.4L177.3 816.8L177.7 817.4L178.1 817.2L178.5 817.3L178.9 817.3L179.3 817.0L179.7 817.2L180.1 817.0L180.5 817.7L180.9 817.8L181.3 817.3L181.7 817.0L182.1 817.6L182.5 817.3L182.9 817.7L183.3 817.8L183.7 817.7L184.1 817.3L184.5 817.1L184.9 817.2L185.3 817.4L185.7 817.2L186.1 817.7L186.5 817.6L186.9 817.4L187.3 817.3L187.7 817.6L188.1 817.8L188.5 817.6L188.9 817.5L189.3 817.4L189.7 817.3L190.1 817.4L190.5 817.5L190.9 817.9L191.3 817.5L191.7 817.4L192.1 817.3L192.5 817.7L192.9 817.4L193.3 817.5L193.7 817.7L194.1 817.6L194.5 817.5L194.9 817.6L195.3 817.8L195.7 817.6L196.1 817.7L196.5 817.7L196.9 817.6L197.3 817.7L197.7 817.6L198.1 817.9L198.5 817.8L198.9 817.3L199.3 817.7L199.7 818.0L200.1 819.4L200.5 817.6L200.9 818.0L201.3 817.5L201.7 817.8L202.1 817.0L202.5 818.0L202.9 817.6L203.3 817.5L203.7 818.1L204.1 817.6L204.5 817.8L204.9 818.4L205.3 817.7L205.7 817.4L206.1 818.5L206.5 818.1L206.9 818.0L207.3 818.5L207.7 817.9L208.1 818.2L208.5 817.9L208.9 817.9L209.3 818.1L209.7 818.1L210.1 818.2L210.5 818.2L210.9 817.9L211.3 818.0L211.7 818.4L212.1 818.1L212.5 818.0L212.9 818.3L213.3 818.3L213.7 818.3L214.1 817.9L214.5 818.0L214.9 818.2L215.3 818.3L215.7 817.8L216.1 818.0L216.5 818.1L216.9 818.3L217.3 817.9L217.7 818.7L218.1 818.2L218.5 818.3L218.9 818.6L219.3 818.3L219.7 818.3L220.1 818.1L220.5 818.3L220.9 818.0L221.3 818.2L221.7 818.2L222.1 818.0L222.5 818.5L222.9 818.4L223.3 817.9L223.7 818.4L224.1 818.1L224.5 818.4L224.9 818.1L225.3 815.8L225.7 818.4L226.1 818.8L226.5 818.0L226.9 818.3L227.3 818.3L227.7 818.6L228.1 818.3L228.5 818.5L228.9 818.5L229.3 818.6L229.7 818.3L230.1 818.3L230.5 818.4L230.9 818.5L231.3 818.3L231.7 818.4L232.1 818.6L232.5 818.4L232.9 818.4L233.3 818.6L233.7 818.7L234.1 818.2L234.5 818.3L234.9 818.8L235.3 818.5L235.7 818.3L236.1 818.6L236.5 818.9L236.9 818.4L237.3 818.4L237.7 818.5L238.1 818.9L238.5 818.5L238.9 818.7L239.3 818.8L239.7 818.8L240.1 818.6L240.5 818.8L240.9 818.7L241.3 818.9L241.7 818.8L242.1 818.7L242.5 818.3L242.9 818.9L243.3 818.7L243.7 818.3L244.1 818.7L244.5 818.8L244.9 818.7L245.3 818.2L245.7 818.6L246.1 818.6L246.5 818.7L246.9 818.3L247.3 818.9L247.7 818.9L248.1 819.0L248.5 818.8L248.9 818.8L249.3 819.1L249.7 819.0L250.1 818.8L250.5 818.9L250.9 819.0L251.3 819.2L251.7 819.0L252.1 818.7L252.5 818.8L252.9 819.0L253.3 819.0L253.7 819.2L254.1 818.6L254.5 818.8L254.9 818.7L255.3 819.2L255.7 819.2L256.1 819.1L256.5 819.2L256.9 818.9L257.3 819.2L257.7 819.1L258.1 819.1L258.5 819.0L258.9 819.3L259.3 819.3L259.7 818.8L260.1 819.0L260.5 819.1L260.9 819.2L261.3 818.8L261.7 818.9L262.1 819.0L262.5 819.5L262.9 818.9L263.3 819.0L263.7 819.1L264.1 819.1L264.5 819.2L264.9 819.1L265.3 819.1L265.7 819.2L266.1 819.2L266.5 819.2L266.9 818.9L267.3 818.9L267.7 819.2L268.1 819.2L268.5 819.3L268.9 819.3L269.3 819.5L269.7 819.0L270.1 819.1L270.5 819.2L270.9 819.0L271.3 819.1L271.7 819.1L272.1 819.0L272.5 819.6L272.9 819.1L273.3 819.5L273.7 819.0L274.1 819.2L274.5 819.0L274.9 819.2L275.3 819.5L275.7 819.6L276.1 819.3L276.5 819.3L276.9 819.2L277.3 819.2L277.7 819.5L278.1 818.8L278.5 819.1L278.9 819.0L279.3 819.4L279.7 818.9L280.1 819.4L280.5 818.9L280.9 818.9L281.3 819.5L281.7 819.4L282.1 819.0L282.5 818.8L282.9 819.0L283.3 819.3L283.7 819.2L284.1 819.0L284.5 819.3L284.9 819.5L285.3 818.9L285.7 819.0L286.1 819.0L286.5 819.4L286.9 819.2L287.3 819.1L287.7 819.1L288.1 819.4L288.5 819.1L288.9 819.2L289.3 819.2L289.7 819.3L290.1 818.8L290.5 819.0L290.9 819.3L291.3 819.6L291.7 819.3L292.1 819.2L292.5 820.1L292.9 819.1L293.3 819.2L293.7 819.0L294.1 819.2L294.5 819.2L294.9 819.7L295.3 819.2L295.7 819.5L296.1 819.1L296.5 819.4L296.9 819.8L297.3 819.1L297.7 819.0L298.1 819.5L298.5 819.3L298.9 819.2L299.3 819.3L299.7 819.3L300.1 819.5L300.5 819.3L300.9 819.1L301.3 819.0L301.7 818.9L302.1 819.0L302.5 819.5L302.9 818.9L303.3 819.3L303.7 819.5L304.1 819.4L304.5 819.6L304.9 819.4L305.3 819.6L305.7 819.1L306.1 819.1L306.5 818.9L306.9 819.3L307.3 819.3L307.7 818.5L308.1 819.6L308.5 819.4L308.9 819.4L309.3 819.1L309.7 819.3L310.1 819.2L310.5 819.3L310.9 819.4L311.3 819.2L311.7 819.1L312.1 819.5L312.5 819.1L312.9 819.6L313.3 819.6L313.7 819.0L314.1 820.4L314.5 819.1L314.9 819.6L315.3 819.2L315.7 819.5L316.1 819.1L316.5 819.4L316.9 819.3L317.3 819.6L317.7 819.5L318.1 819.1L318.5 819.4L318.9 819.2L319.3 819.3L319.7 819.6L320.1 819.6L320.5 819.3L320.9 819.1L321.3 819.3L321.7 819.8L322.1 819.3L322.5 819.0L322.9 819.0L323.3 819.1L323.7 819.5L324.1 819.2L324.5 819.1L324.9 819.4L325.3 819.5L325.7 819.3L326.1 819.1L326.5 819.4L326.9 819.5L327.3 818.9L327.7 819.0L328.1 819.7L328.5 819.4L328.9 819.4L329.3 819.0L329.7 819.1L330.1 819.2L330.5 819.5L330.9 819.3L331.3 818.9L331.7 819.6L332.1 819.6L332.5 819.4L332.9 819.0L333.3 819.0L333.7 819.1L334.1 819.2L334.5 819.5L334.9 818.7L335.3 818.8L335.7 818.9L336.1 818.6L336.5 818.5L336.9 818.1L337.3 818.3L337.7 818.0L338.1 817.8L338.5 817.7L338.9 817.3L339.3 817.2L339.7 817.3L340.1 817.2L340.5 817.6L340.9 817.4L341.3 817.9L341.7 818.4L342.1 818.5L342.5 818.8L342.9 818.5L343.3 818.8L343.7 819.0L344.1 819.1L344.5 819.1L344.9 819.5L345.3 819.1L345.7 819.1L346.1 819.4L346.5 819.4L346.9 819.3L347.3 819.7L347.7 819.4L348.1 819.3L348.5 819.1L348.9 819.6L349.3 819.2L349.7 819.4L350.1 819.2L350.5 819.8L350.9 819.0L351.3 819.0L351.7 819.4L352.1 819.1L352.5 819.3L352.9 819.6L353.3 819.1L353.7 819.5L354.1 818.5L354.5 819.6L354.9 819.2L355.3 819.5L355.7 819.3L356.1 819.6L356.5 819.4L356.9 819.6L357.3 819.7L357.7 819.7L358.1 819.4L358.5 819.6L358.9 819.4L359.3 819.5L359.7 819.8L360.1 819.2L360.5 819.2L360.9 819.5L361.3 819.3L361.7 819.7L362.1 819.6L362.5 819.5L362.9 819.4L363.3 819.3L363.7 819.2L364.1 819.3L364.5 819.4L364.9 819.1L365.3 819.5L365.7 819.4L366.1 819.0L366.5 818.7L366.9 819.5L367.3 818.9L367.7 818.6L368.1 818.8L368.5 819.3L368.9 819.6L369.3 819.5L369.7 819.6L370.1 819.7L370.5 819.8L370.9 819.2L371.3 819.4L371.7 819.3L372.1 819.5L372.5 819.4L372.9 819.5L373.3 819.9L373.7 820.1L374.1 819.6L374.5 819.3L374.9 819.2L375.3 819.7L375.7 819.5L376.1 819.5L376.5 819.8L376.9 819.2L377.3 819.5L377.7 819.8L378.1 819.3L378.5 819.6L378.9 819.7L379.3 819.7L379.7 819.7L380.1 819.7L380.5 819.6L380.9 819.7L381.3 819.6L381.7 819.3L382.1 819.5L382.5 819.5L382.9 819.8L383.3 821.0L383.7 819.6L384.1 819.6L384.5 819.7L384.9 819.4L385.3 819.6L385.7 819.4L386.1 819.5L386.5 819.3L386.9 820.0L387.3 819.7L387.7 817.9L388.1 819.5L388.5 819.6L388.9 819.4L389.3 819.7L389.7 819.6L390.1 819.8L390.5 818.9L390.9 819.7L391.3 819.6L391.7 819.8L392.1 819.4L392.5 819.4L392.9 819.3L393.3 819.7L393.7 819.6L394.1 819.2L394.5 819.4L394.9 819.6L395.3 819.3L395.7 819.5L396.1 819.5L396.5 819.4L396.9 819.2L397.3 819.8L397.7 819.6L398.1 819.6L398.5 819.4L398.9 819.6L399.3 819.4L399.7 819.6L400.1 819.6L400.5 819.7L400.9 819.5L401.3 819.4L401.7 819.9L402.1 819.3L402.5 819.6L402.9 819.6L403.3 819.7L403.7 819.5L404.1 819.4L404.5 819.6L404.9 817.6L405.3 819.4L405.7 819.6L406.1 819.6L406.5 819.3L406.9 819.9L407.3 819.6L407.7 819.9L408.1 819.8L408.5 822.7L408.9 819.5L409.3 819.3L409.7 819.8L410.1 819.9L410.5 819.7L410.9 819.6L411.3 819.4L411.7 819.4L412.1 819.6L412.5 819.9L412.9 819.6L413.3 819.8L413.7 819.7L414.1 819.6L414.5 819.4L414.9 819.6L415.3 819.4L415.7 819.8L416.1 819.7L416.5 819.4L416.9 819.5L417.3 819.4L417.7 819.7L418.1 819.8L418.5 819.4L418.9 819.6L419.3 819.7L419.7 819.3L420.1 819.7L420.5 822.2L420.9 820.0L421.3 819.6L421.7 819.6L422.1 819.8L422.5 819.8L422.9 820.0L423.3 819.7L423.7 819.7L424.1 819.7L424.5 820.0L424.9 819.5L425.3 819.9L425.7 819.7L426.1 819.7L426.5 819.5L426.9 819.7L427.3 819.5L427.7 819.1L428.1 819.7L428.5 819.4L428.9 819.7L429.3 819.4L429.7 819.6L430.1 819.6L430.5 819.3L430.9 819.7L431.3 819.5L431.7 819.1L432.1 820.1L432.5 819.8L432.9 819.7L433.3 819.6L433.7 819.8L434.1 819.5L434.5 819.8L434.9 819.8L435.3 819.5L435.7 819.5L436.1 819.5L436.5 819.1L436.9 819.5L437.3 819.3L437.7 819.5L438.1 819.2L438.5 818.9L438.9 819.0L439.3 818.8L439.7 818.3L440.1 818.7L440.5 818.4L440.9 819.0L441.3 818.9L441.7 819.1L442.1 819.0L442.5 819.0L442.9 819.2L443.3 818.8L443.7 819.3L444.1 819.1L444.5 818.7L444.9 819.0L445.3 819.1L445.7 818.8L446.1 819.1L446.5 819.0L446.9 818.5L447.3 818.3L447.7 818.2L448.1 817.9L448.5 817.9L448.9 817.6L449.3 817.1L449.7 816.5L450.1 815.7L450.5 814.7L450.9 813.3L451.3 812.1L451.7 809.0L452.1 804.7L452.5 797.9L452.9 788.5L453.3 776.6L453.7 763.3L454.1 753.4L454.5 753.6L454.9 763.0L455.3 776.5L455.7 788.3L456.1 797.4L456.5 803.4L456.9 807.7L457.3 810.1L457.7 811.6L458.1 812.4L458.5 812.9L458.9 813.1L459.3 813.1L459.7 812.3L460.1 811.5L460.5 810.2L460.9 808.3L461.3 805.1L461.7 801.2L462.1 796.0L462.5 789.5L462.9 782.7L463.3 775.6L463.7 771.4L464.1 771.5L464.5 775.8L464.9 782.6L465.3 789.8L465.7 796.4L466.1 801.6L466.5 805.8L466.9 809.2L467.3 811.4L467.7 813.2L468.1 814.3L468.5 814.9L468.9 815.9L469.3 816.4L469.7 816.9L470.1 817.1L470.5 817.2L470.9 817.9L471.3 817.4L471.7 817.3L472.1 817.6L472.5 817.6L472.9 817.8L473.3 817.3L473.7 817.2L474.1 816.9L474.5 816.5L474.9 815.4L475.3 815.1L475.7 814.2L476.1 814.2L476.5 813.5L476.9 815.4L477.3 814.3L477.7 814.7L478.1 815.1L478.5 815.6L478.9 815.5L479.3 815.4L479.7 815.5L480.1 814.8L480.5 814.5L480.9 813.7L481.3 813.7L481.7 813.7L482.1 814.3L482.5 815.3L482.9 815.1L483.3 815.9L483.7 816.6L484.1 817.2L484.5 817.2L484.9 817.8L485.3 817.8L485.7 818.1L486.1 817.9L486.5 818.8L486.9 818.2L487.3 818.3L487.7 817.6L488.1 817.9L488.5 817.0L488.9 818.2L489.3 817.5L489.7 817.6L490.1 817.1L490.5 817.1L490.9 816.4L491.3 816.0L491.7 815.8L492.1 815.6L492.5 814.9L492.9 813.8L493.3 812.5L493.7 811.7L494.1 809.8L494.5 807.8L494.9 805.8L495.3 803.4L495.7 801.4L496.1 798.7L496.5 796.7L496.9 795.6L497.3 795.2L497.7 796.8L498.1 798.0L498.5 800.4L498.9 802.4L499.3 804.6L499.7 806.2L500.1 808.4L500.5 810.2L500.9 811.2L501.3 811.7L501.7 812.5L502.1 812.5L502.5 812.7L502.9 813.3L503.3 812.9L503.7 813.3L504.1 813.0L504.5 812.1L504.9 811.8L505.3 811.2L505.7 810.5L506.1 809.6L506.5 809.1L506.9 807.0L507.3 806.2L507.7 804.2L508.1 801.8L508.5 799.0L508.9 796.4L509.3 793.8L509.7 789.5L510.1 785.6L510.5 780.5L510.9 776.5L511.3 772.1L511.7 768.5L512.1 764.9L512.5 763.3L512.9 762.7L513.3 763.4L513.7 765.5L514.1 768.8L514.5 772.2L514.9 776.0L515.3 779.8L515.7 783.7L516.1 786.7L516.5 789.4L516.9 791.4L517.3 793.0L517.7 794.3L518.1 794.2L518.5 793.8L518.9 792.9L519.3 791.5L519.7 789.9L520.1 787.1L520.5 784.0L520.9 780.4L521.3 776.0L521.7 771.6L522.1 766.8L522.5 761.7L522.9 756.7L523.3 751.7L523.7 746.5L524.1 742.3L524.5 738.8L524.9 736.1L525.3 735.1L525.7 735.3L526.1 736.3L526.5 739.5L526.9 743.3L527.3 747.9L527.7 752.7L528.1 758.7L528.5 764.1L528.9 769.4L529.3 774.8L529.7 780.0L530.1 784.5L530.5 788.5L530.9 793.0L531.3 795.8L531.7 799.2L532.1 801.5L532.5 803.9L532.9 806.0L533.3 807.4L533.7 809.0L534.1 810.0L534.5 811.2L534.9 811.8L535.3 812.4L535.7 812.6L536.1 813.0L536.5 813.5L536.9 814.0L537.3 814.1L537.7 813.9L538.1 814.1L538.5 813.3L538.9 813.7L539.3 812.9L539.7 813.1L540.1 812.9L540.5 812.9L540.9 811.5L541.3 810.9L541.7 809.6L542.1 807.7L542.5 805.7L542.9 802.7L543.3 799.4L543.7 795.4L544.1 790.3L544.5 784.1L544.9 777.6L545.3 771.1L545.7 766.2L546.1 762.1L546.5 762.7L546.9 765.8L547.3 770.8L547.7 776.6L548.1 783.2L548.5 788.0L548.9 792.6L549.3 796.7L549.7 798.9L550.1 800.0L550.5 801.0L550.9 800.5L551.3 799.0L551.7 797.1L552.1 795.1L552.5 793.5L552.9 792.6L553.3 793.3L553.7 795.8L554.1 798.9L554.5 802.0L554.9 805.3L555.3 807.9L555.7 810.4L556.1 812.4L556.5 813.7L556.9 815.3L557.3 815.6L557.7 816.2L558.1 816.5L558.5 817.3L558.9 817.5L559.3 817.4L559.7 817.8L560.1 818.3L560.5 818.3L560.9 818.7L561.3 818.8L561.7 819.3L562.1 818.6L562.5 819.0L562.9 818.9L563.3 819.0L563.7 819.7L564.1 819.6L564.5 819.6L564.9 819.5L565.3 819.6L565.7 820.1L566.1 819.4L566.5 820.0L566.9 820.0L567.3 819.6L567.7 819.8L568.1 819.7L568.5 819.9L568.9 820.1L569.3 820.0L569.7 820.2L570.1 820.1L570.5 819.5L570.9 820.2L571.3 819.7L571.7 819.4L572.1 819.9L572.5 819.9L572.9 820.5L573.3 820.3L573.7 820.3L574.1 820.1L574.5 820.3L574.9 820.0L575.3 820.4L575.7 820.0L576.1 820.1L576.5 820.2L576.9 820.0L577.3 820.8L577.7 820.2L578.1 820.1L578.5 819.9L578.9 820.0L579.3 820.2L579.7 820.3L580.1 819.8L580.5 820.1L580.9 820.6L581.3 820.2L581.7 820.2L582.1 820.1L582.5 820.1L582.9 820.2L583.3 820.5L583.7 820.5L584.1 820.1L584.5 820.0L584.9 820.3L585.3 820.1L585.7 820.4L586.1 820.5L586.5 820.0L586.9 819.7L587.3 819.9L587.7 820.2L588.1 820.0L588.5 820.3L588.9 820.3L589.3 822.6L589.7 820.2L590.1 820.1L590.5 820.4L590.9 819.8L591.3 820.3L591.7 820.7L592.1 820.5L592.5 820.2L592.9 820.2L593.3 820.3L593.7 820.2L594.1 820.6L594.5 820.1L594.9 820.2L595.3 820.0L595.7 820.4L596.1 819.9L596.5 820.4L596.9 820.4L597.3 820.0L597.7 820.3L598.1 820.2L598.5 820.1L598.9 820.0L599.3 819.9L599.7 819.9L600.1 819.9L600.5 820.3L600.9 820.0L601.3 820.7L601.7 820.3L602.1 820.5L602.5 820.1L602.9 820.6L603.3 820.2L603.7 820.5L604.1 820.4L604.5 820.4L604.9 820.0L605.3 820.1L605.7 820.5L606.1 820.4L606.5 820.2L606.9 820.4L607.3 820.3L607.7 820.2L608.1 820.7L608.5 819.8L608.9 820.2L609.3 820.5L609.7 821.4L610.1 820.7L610.5 820.4L610.9 820.4L611.3 820.2L611.7 820.7L612.1 820.2L612.5 820.2L612.9 820.2L613.3 820.4L613.7 820.2L614.1 820.3L614.5 820.2L614.9 819.9L615.3 820.2L615.7 820.8L616.1 820.2L616.5 820.4L616.9 820.9L617.3 820.2L617.7 820.5L618.1 820.6L618.5 820.1L618.9 820.7L619.3 820.5L619.7 820.1L620.1 820.3L620.5 820.1L620.9 820.8L621.3 820.8L621.7 820.3L622.1 820.2L622.5 820.4L622.9 820.1L623.3 820.3L623.7 820.1L624.1 820.3L624.5 820.4L624.9 820.4L625.3 820.5L625.7 820.2L626.1 820.5L626.5 820.4L626.9 820.4L627.3 820.7L627.7 820.4L628.1 820.1L628.5 820.5L628.9 820.1L629.3 820.4L629.7 820.4L630.1 819.9L630.5 820.1L630.9 820.2L631.3 820.4L631.7 820.6L632.1 820.4L632.5 820.9L632.9 820.6L633.3 820.0L633.7 820.5L634.1 820.2L634.5 820.2L634.9 820.3L635.3 820.3L635.7 820.5L636.1 820.6L636.5 820.6L636.9 820.3L637.3 820.4L637.7 820.7L638.1 820.2L638.5 820.6L638.9 820.6L639.3 820.3L639.7 820.7L640.1 820.5L640.5 820.6L640.9 820.8L641.3 820.4L641.7 820.1L642.1 820.3L642.5 820.2L642.9 820.6L643.3 820.3L643.7 820.3L644.1 820.3L644.5 820.6L644.9 820.5L645.3 820.6L645.7 820.4L646.1 820.2L646.5 820.2L646.9 820.7L647.3 820.3L647.7 820.5L648.1 820.1L648.5 820.3L648.9 820.3L649.3 820.2L649.7 820.5L650.1 820.6L650.5 820.3L650.9 820.8L651.3 820.4L651.7 820.0L652.1 820.5L652.5 820.1L652.9 820.3L653.3 820.4L653.7 820.6L654.1 820.5L654.5 820.2L654.9 820.7L655.3 820.4L655.7 820.7L656.1 820.7L656.5 820.4L656.9 820.2L657.3 820.5L657.7 820.4L658.1 820.4L658.5 820.4L658.9 820.2L659.3 820.1L659.7 820.2L660.1 820.4L660.5 820.3L660.9 820.5L661.3 820.5L661.7 820.5L662.1 820.1L662.5 820.0L662.9 820.1L663.3 820.1L663.7 820.5L664.1 820.5L664.5 820.0L664.9 820.3L665.3 820.3L665.7 820.2L666.1 820.3L666.5 820.2L666.9 820.2L667.3 820.3L667.7 820.4L668.1 820.2L668.5 819.9L668.9 820.2L669.3 821.9L669.7 820.3L670.1 820.1L670.5 820.4L670.9 820.2L671.3 820.1L671.7 820.7L672.1 818.7L672.5 820.2L672.9 819.8L673.3 820.3L673.7 820.7L674.1 820.2L674.5 820.3L674.9 820.5L675.3 820.5L675.7 820.6L676.1 820.5L676.5 820.3L676.9 820.2L677.3 820.4L677.7 820.4L678.1 820.4L678.5 820.2L678.9 820.2L679.3 820.6L679.7 820.2L680.1 820.4L680.5 820.3L680.9 819.9L681.3 820.4L681.7 820.1L682.1 820.6L682.5 820.2L682.9 820.1L683.3 820.2L683.7 820.3L684.1 820.2L684.5 820.2L684.9 820.5L685.3 820.3L685.7 820.4L686.1 820.3L686.5 820.4L686.9 820.1L687.3 820.6L687.7 820.0L688.1 819.8L688.5 819.9L688.9 820.0L689.3 820.1L689.7 820.5L690.1 819.9L690.5 820.3L690.9 819.9L691.3 820.4L691.7 820.2L692.1 820.5L692.5 820.0L692.9 820.3L693.3 820.3L693.7 820.0L694.1 820.0L694.5 819.9L694.9 819.8L695.3 819.8L695.7 819.7L696.1 820.1L696.5 819.9L696.9 819.7L697.3 819.8L697.7 819.8L698.1 819.7L698.5 819.9L698.9 819.6L699.3 819.6L699.7 819.9L700.1 819.2L700.5 819.3L700.9 819.2L701.3 818.7L701.7 818.7L702.1 819.7L702.5 818.7L702.9 817.9L703.3 817.8L703.7 817.3L704.1 816.8L704.5 816.2L704.9 816.1L705.3 815.0L705.7 815.1L706.1 814.5L706.5 814.1L706.9 813.6L707.3 813.1L707.7 812.9L708.1 813.4L708.5 813.7L708.9 815.3L709.3 814.2L709.7 815.1L710.1 816.0L710.5 815.9L710.9 816.3L711.3 816.8L711.7 817.7L712.1 817.5L712.5 817.9L712.9 818.3L713.3 818.5L713.7 818.9L714.1 818.8L714.5 818.8L714.9 819.2L715.3 819.3L715.7 819.9L716.1 819.8L716.5 820.0L716.9 819.6L717.3 820.6L717.7 819.8L718.1 819.8L718.5 819.4L718.9 820.0L719.3 819.9L719.7 820.2L720.1 820.1L720.5 819.8L720.9 820.0L721.3 819.7L721.7 820.2L722.1 820.0L722.5 819.7L722.9 819.5L723.3 820.2L723.7 818.5L724.1 819.8L724.5 820.6L724.9 819.9L725.3 820.4L725.7 819.9L726.1 820.1L726.5 820.0L726.9 820.5L727.3 820.3L727.7 820.1L728.1 820.2L728.5 820.1L728.9 820.1L729.3 819.8L729.7 820.2L730.1 820.4L730.5 819.9L730.9 819.8L731.3 820.5L731.7 819.9L732.1 820.3L732.5 820.2L732.9 819.8L733.3 820.4L733.7 820.0L734.1 820.2L734.5 820.0L734.9 819.9L735.3 820.1L735.7 820.0L736.1 820.1L736.5 820.1L736.9 819.8L737.3 820.2L737.7 819.7L738.1 820.2L738.5 820.2L738.9 820.1L739.3 820.2L739.7 820.4L740.1 820.0L740.5 819.9L740.9 819.8L741.3 820.2L741.7 819.8L742.1 820.1L742.5 820.3L742.9 819.8L743.3 820.3L743.7 819.7L744.1 820.1L744.5 819.9L744.9 819.5L745.3 819.9L745.7 820.2L746.1 819.8L746.5 819.5L746.9 820.0L747.3 820.0L747.7 819.5L748.1 819.7L748.5 819.4L748.9 819.3L749.3 819.8L749.7 819.7L750.1 819.9L750.5 819.6L750.9 819.4L751.3 819.6L751.7 819.1L752.1 819.2L752.5 819.2L752.9 819.1L753.3 819.1L753.7 818.8L754.1 819.2L754.5 819.2L754.9 819.1L755.3 819.2L755.7 818.9L756.1 818.8L756.5 818.2L756.9 818.5L757.3 818.0L757.7 818.5L758.1 818.2L758.5 818.1L758.9 817.9L759.3 817.8L759.7 817.9L760.1 817.8L760.5 819.0L760.9 817.5L761.3 817.6L761.7 818.0L762.1 817.3L762.5 817.6L762.9 817.4L763.3 817.8L763.7 818.0L764.1 817.8L764.5 817.7L764.9 817.9L765.3 818.2L765.7 817.9L766.1 818.1L766.5 818.5L766.9 818.1L767.3 818.1L767.7 818.7L768.1 818.9L768.5 818.8L768.9 819.3L769.3 818.6L769.7 818.8L770.1 819.1L770.5 818.5L770.9 819.0L771.3 819.6L771.7 819.5L772.1 819.0L772.5 819.8L772.9 819.7L773.3 819.5L773.7 819.3L774.1 819.6L774.5 819.9L774.9 819.6L775.3 819.4L775.7 819.8L776.1 819.8L776.5 819.4L776.9 819.4L777.3 819.4L777.7 819.9L778.1 819.5L778.5 819.8L778.9 819.9L779.3 819.6L779.7 819.6L780.1 819.7L780.5 819.8L780.9 819.7L781.3 820.3L781.7 820.0L782.1 820.1L782.5 819.7L782.9 819.7L783.3 819.7L783.7 819.7L784.1 820.1L784.5 820.2L784.9 820.2L785.3 820.2L785.7 819.5L786.1 819.9L786.5 820.1L786.9 820.1L787.3 819.9L787.7 820.1L788.1 820.0L788.5 820.0L788.9 820.1L789.3 819.8L789.7 819.9L790.1 820.1L790.5 820.1L790.9 820.0L791.3 820.2L791.7 819.9L792.1 820.1L792.5 820.2L792.9 819.8L793.3 819.9L793.7 820.3L794.1 819.9L794.5 820.1L794.9 819.8L795.3 819.8L795.7 819.7L796.1 819.7L796.5 820.2L796.9 819.9L797.3 819.8L797.7 820.1L798.1 820.0L798.5 820.0L798.9 819.9L799.3 820.1L799.7 819.6L800.1 819.5L800.5 819.8L800.9 819.8L801.3 819.8L801.7 819.6L802.1 819.9L802.5 819.8L802.9 819.7L803.3 819.7L803.7 819.9L804.1 819.6L804.5 819.3L804.9 819.3L805.3 819.7L805.7 819.4L806.1 819.4L806.5 819.4L806.9 819.2L807.3 819.0L807.7 819.0L808.1 819.1L808.5 818.6L808.9 819.5L809.3 818.6L809.7 818.1L810.1 818.1L810.5 817.9L810.9 817.5L811.3 816.9L811.7 816.9L812.1 815.9L812.5 815.5L812.9 814.5L813.3 813.3L813.7 812.4L814.1 811.1L814.5 809.2L814.9 806.5L815.3 805.4L815.7 803.5L816.1 801.6L816.5 801.1L816.9 800.3L817.3 800.4L817.7 802.0L818.1 803.4L818.5 805.0L818.9 807.3L819.3 809.0L819.7 810.8L820.1 811.9L820.5 813.2L820.9 814.4L821.3 815.5L821.7 816.0L822.1 817.0L822.5 817.0L822.9 817.4L823.3 817.7L823.7 817.9L824.1 818.0L824.5 818.2L824.9 818.6L825.3 818.9L825.7 819.2L826.1 819.0L826.5 818.7L826.9 819.3L827.3 819.1L827.7 819.5L828.1 819.4L828.5 819.3L828.9 819.4L829.3 819.4L829.7 819.6L830.1 819.4L830.5 819.5L830.9 819.5L831.3 819.5L831.7 819.8L832.1 819.9L832.5 819.6L832.9 819.7L833.3 819.9L833.7 819.9L834.1 819.6L834.5 819.9L834.9 819.7L835.3 819.4L835.7 819.6L836.1 819.5L836.5 819.8L836.9 819.9L837.3 819.9L837.7 820.3L838.1 819.5L838.5 819.6L838.9 819.6L839.3 819.5L839.7 819.7L840.1 819.8L840.5 819.2L840.9 819.7L841.3 819.7L841.7 819.2L842.1 820.4L842.5 819.6L842.9 819.4L843.3 818.9L843.7 819.3L844.1 819.2L844.5 819.2L844.9 818.9L845.3 818.7L845.7 818.5L846.1 818.7L846.5 817.7L846.9 818.4L847.3 818.5L847.7 817.5L848.1 817.6L848.5 817.9L848.9 817.2L849.3 817.2L849.7 816.5L850.1 815.5L850.5 815.9L850.9 815.6L851.3 814.7L851.7 814.9L852.1 814.2L852.5 813.8L852.9 813.8L853.3 813.3L853.7 813.1L854.1 813.3L854.5 813.6L854.9 813.5L855.3 814.0L855.7 814.5L856.1 814.5L856.5 814.9L856.9 815.2L857.3 815.6L857.7 816.1L858.1 815.9L858.5 816.8L858.9 817.5L859.3 817.4L859.7 817.7L860.1 817.7L860.5 818.2L860.9 818.2L861.3 818.9L861.7 818.7L862.1 818.9L862.5 818.9L862.9 818.9L863.3 818.5L863.7 819.0L864.1 819.4L864.5 818.8L864.9 819.4L865.3 819.5L865.7 819.5L866.1 819.5L866.5 819.5L866.9 819.4L867.3 819.8L867.7 819.3L868.1 819.3L868.5 819.4L868.9 819.4L869.3 819.8L869.7 819.6L870.1 819.9L870.5 819.4L870.9 819.6L871.3 819.5L871.7 819.7L872.1 819.8L872.5 819.8L872.9 819.6L873.3 820.0L873.7 819.7L874.1 819.9L874.5 820.1L874.9 820.0L875.3 819.4L875.7 820.1L876.1 819.7L876.5 819.9L876.9 819.7L877.3 819.7L877.7 819.7L878.1 819.8L878.5 819.8L878.9 819.4L879.3 819.2L879.7 819.5L880.1 819.3L880.5 819.3L880.9 819.8L881.3 819.6L881.7 819.2L882.1 819.2L882.5 819.2L882.9 819.1L883.3 819.1L883.7 817.6L884.1 819.1L884.5 818.7L884.9 818.2L885.3 818.4L885.7 818.1L886.1 817.8L886.5 817.8L886.9 816.9L887.3 816.7L887.7 817.1L888.1 816.6L888.5 815.7L888.9 815.5L889.3 815.4L889.7 815.2L890.1 814.6L890.5 815.2L890.9 815.2L891.3 815.7L891.7 816.1L892.1 816.3L892.5 816.5L892.9 816.4L893.3 817.4L893.7 817.7L894.1 816.4L894.5 817.8L894.9 818.2L895.3 818.2L895.7 818.8L896.1 818.7L896.5 819.1L896.9 819.0L897.3 818.9L897.7 819.0L898.1 819.5L898.5 819.5L898.9 819.4L899.3 819.2L899.7 819.3L900.1 819.7L900.5 819.5L900.9 819.4L901.3 819.8L901.7 819.1L902.1 819.5L902.5 819.3L902.9 820.0L903.3 819.8L903.7 819.5L904.1 819.8L904.5 819.7L904.9 819.4L905.3 819.7L905.7 819.6L906.1 819.8L906.5 819.5L906.9 819.8L907.3 819.8L907.7 819.9L908.1 819.6L908.5 820.0L908.9 819.7L909.3 820.2L909.7 819.8L910.1 819.7L910.5 819.5L910.9 819.9L911.3 820.1L911.7 819.8L912.1 819.6L912.5 819.6L912.9 819.9L913.3 819.4L913.7 819.5L914.1 819.3L914.5 819.5L914.9 819.4L915.3 819.3L915.7 819.2L916.1 819.0L916.5 819.0L916.9 818.7L917.3 818.3L917.7 818.6L918.1 816.6L918.5 818.3L918.9 818.1L919.3 818.0L919.7 817.7L920.1 817.3L920.5 817.7L920.9 817.4L921.3 818.1L921.7 818.1L922.1 817.7L922.5 818.4L922.9 818.4L923.3 818.0L923.7 817.5L924.1 818.7L924.5 819.0L924.9 819.1L925.3 818.7L925.7 819.4L926.1 819.2L926.5 820.0L926.9 819.2L927.3 819.6L927.7 819.5L928.1 819.3L928.5 819.3L928.9 819.7L929.3 819.7L929.7 819.5L930.1 819.7L930.5 819.9L930.9 819.6L931.3 819.3L931.7 819.9L932.1 819.5L932.5 819.6L932.9 819.3L933.3 819.7L933.7 819.7L934.1 819.5L934.5 819.7L934.9 819.5L935.3 819.5L935.7 819.3L936.1 819.8L936.5 819.6L936.9 820.0L937.3 819.9L937.7 819.5L938.1 819.7L938.5 819.4L938.9 819.6L939.3 819.9L939.7 819.6L940.1 819.6L940.5 819.3L940.9 819.4L941.3 819.4L941.7 819.6L942.1 819.3L942.5 819.3L942.9 819.8L943.3 819.8L943.7 819.6L944.1 819.2L944.5 819.2L944.9 819.2L945.3 819.6L945.7 819.4L946.1 819.4L946.5 819.3L946.9 819.4L947.3 819.0L947.7 819.2L948.1 818.6L948.5 818.7L948.9 818.8L949.3 818.9L949.7 818.2L950.1 818.8L950.5 818.7L950.9 818.6L951.3 818.2L951.7 818.4L952.1 819.8L952.5 818.0L952.9 817.2L953.3 817.7L953.7 817.4L954.1 817.3L954.5 817.0L954.9 816.9L955.3 816.7L955.7 816.1L956.1 816.0L956.5 815.3L956.9 815.5L957.3 815.1L957.7 815.2L958.1 814.7L958.5 814.3L958.9 813.9L959.3 814.1L959.7 813.7L960.1 813.6L960.5 813.5L960.9 813.4L961.3 813.6L961.7 813.8L962.1 813.5L962.5 813.9L962.9 814.1L963.3 814.1L963.7 814.7L964.1 814.9L964.5 815.0L964.9 815.2L965.3 815.4L965.7 815.6L966.1 816.2L966.5 816.2L966.9 816.6L967.3 814.1L967.7 816.8L968.1 817.5L968.5 817.5L968.9 817.5L969.3 817.8L969.7 817.9L970.1 818.1L970.5 817.9L970.9 817.6L971.3 818.1L971.7 818.3L972.1 818.3L972.5 818.7L972.9 818.3L973.3 818.6L973.7 818.3L974.1 818.8L974.5 818.4L974.9 818.9L975.3 818.8L975.7 818.4L976.1 818.8L976.5 819.0L976.9 818.6L977.3 818.8L977.7 818.6L978.1 818.6L978.5 818.7L978.9 818.8L979.3 819.0L979.7 818.0L980.1 818.0L980.5 818.1L980.9 818.0L981.3 817.7L981.7 817.9L982.1 817.1L982.5 816.7L982.9 816.8L983.3 818.1L983.7 816.0L984.1 815.4L984.5 814.5L984.9 814.2L985.3 813.7L985.7 813.2L986.1 812.4L986.5 811.4L986.9 810.9L987.3 810.2L987.7 810.6L988.1 809.9L988.5 810.3L988.9 810.7L989.3 810.8L989.7 811.7L990.1 812.5L990.5 813.3L990.9 813.9L991.3 814.8L991.7 815.2L992.1 815.4L992.5 816.2L992.9 816.2L993.3 816.4L993.7 817.6L994.1 817.6L994.5 817.7L994.9 818.0L995.3 818.3L995.7 818.0L996.1 818.7L996.5 818.6L996.9 818.7L997.3 818.9L997.7 818.9L998.1 818.7L998.5 818.7L998.9 819.3L999.3 819.1L999.7 819.0L1000.1 818.9L1000.5 819.3L1000.9 819.5L1001.3 819.3L1001.7 819.2L1002.1 819.2L1002.5 819.7L1002.9 818.7L1003.3 819.1L1003.7 819.2L1004.1 819.1L1004.5 819.3L1004.9 819.6L1005.3 819.4L1005.7 819.0L1006.1 819.1L1006.5 819.3L1006.9 819.5L1007.3 819.6L1007.7 819.2L1008.1 819.5L1008.5 819.3L1008.9 819.0L1009.3 819.5L1009.7 818.4L1010.1 819.7L1010.5 819.1L1010.9 819.5L1011.3 819.4L1011.7 819.3L1012.1 819.1L1012.5 819.5L1012.9 819.4L1013.3 819.8L1013.7 819.2L1014.1 819.6L1014.5 819.0L1014.9 819.6L1015.3 819.3L1015.7 819.5L1016.1 819.5L1016.5 819.5L1016.9 819.2L1017.3 819.5L1017.7 819.5L1018.1 819.4L1018.5 819.4L1018.9 819.2L1019.3 819.3L1019.7 819.4L1020.1 819.0L1020.5 819.2L1020.9 819.5L1021.3 819.3L1021.7 819.3L1022.1 819.0L1022.5 819.5L1022.9 819.8L1023.3 819.2L1023.7 819.0L1024.1 819.3L1024.5 819.2L1024.9 819.0L1025.3 819.4L1025.7 819.2L1026.1 819.1L1026.5 819.4L1026.9 819.0L1027.3 818.9L1027.7 819.5L1028.1 819.1L1028.5 819.3L1028.9 819.2L1029.3 818.6L1029.7 818.9L1030.1 818.9L1030.5 818.7L1030.9 818.8L1031.3 819.0L1031.7 818.5L1032.1 818.6L1032.5 818.5L1032.9 818.4L1033.3 818.2L1033.7 818.3L1034.1 817.7L1034.5 817.7L1034.9 817.4L1035.3 817.5L1035.7 817.5L1036.1 817.2L1036.5 817.0L1036.9 816.2L1037.3 816.1L1037.7 814.5L1038.1 815.4L1038.5 815.1L1038.9 814.7L1039.3 814.1L1039.7 813.5L1040.1 813.1L1040.5 813.1L1040.9 812.4L1041.3 811.9L1041.7 811.6L1042.1 811.9L1042.5 811.4L1042.9 811.8L1043.3 812.3L1043.7 812.2L1044.1 812.3L1044.5 812.5L1044.9 813.5L1045.3 813.5L1045.7 814.3L1046.1 815.0L1046.5 815.2L1046.9 815.4L1047.3 815.8L1047.7 816.3L1048.1 816.3L1048.5 816.6L1048.9 817.2L1049.3 817.4L1049.7 817.2L1050.1 817.8L1050.5 817.7L1050.9 817.5L1051.3 817.9L1051.7 818.0L1052.1 817.7L1052.5 818.1L1052.9 818.5L1053.3 818.1L1053.7 818.2L1054.1 818.5L1054.5 818.0L1054.9 817.7L1055.3 817.7L1055.7 817.6L1056.1 818.1L1056.5 818.1L1056.9 817.6L1057.3 817.9L1057.7 817.4L1058.1 817.5L1058.5 817.3L1058.9 816.8L1059.3 816.8L1059.7 816.9L1060.1 816.2L1060.5 816.4L1060.9 816.1L1061.3 816.1L1061.7 816.3L1062.1 816.0L1062.5 816.5L1062.9 816.4L1063.3 816.3L1063.7 816.3L1064.1 817.0L1064.5 817.0L1064.9 816.9L1065.3 817.4L1065.7 817.4L1066.1 818.0L1066.5 818.0L1066.9 817.8L1067.3 818.1L1067.7 818.5L1068.1 818.6L1068.5 818.3L1068.9 818.2L1069.3 818.8L1069.7 818.5L1070.1 819.2L1070.5 818.5L1070.9 818.7L1071.3 819.2L1071.7 819.0L1072.1 819.2L1072.5 819.3L1072.9 818.6L1073.3 818.9L1073.7 819.2L1074.1 819.2L1074.5 819.0L1074.9 818.9L1075.3 819.2L1075.7 819.3L1076.1 819.3L1076.5 817.9L1076.9 819.0L1077.3 819.4L1077.7 819.4L1078.1 819.3L1078.5 819.1L1078.9 819.4L1079.3 819.1L1079.7 818.8L1080.1 818.9L1080.5 818.8L1080.9 819.3L1081.3 819.5L1081.7 819.4L1082.1 819.3L1082.5 819.0L1082.9 819.4L1083.3 819.0L1083.7 819.1L1084.1 819.4L1084.5 819.4L1084.9 819.0L1085.3 819.2L1085.7 819.2L1086.1 819.2L1086.5 819.1L1086.9 819.2L1087.3 819.2L1087.7 819.5L1088.1 819.6L1088.5 819.3L1088.9 819.4L1089.3 819.4L1089.7 819.1L1090.1 819.5L1090.5 819.3L1090.9 819.0L1091.3 819.3L1091.7 819.3L1092.1 819.2L1092.5 819.0L1092.9 819.1L1093.3 819.1L1093.7 819.9L1094.1 819.0L1094.5 819.2L1094.9 819.3L1095.3 819.5L1095.7 819.1L1096.1 818.9L1096.5 819.2L1096.9 818.8L1097.3 818.9L1097.7 819.5L1098.1 819.3L1098.5 819.6L1098.9 818.6L1099.3 819.2L1099.7 819.4L1100.1 819.5L1100.5 819.3L1100.9 819.2L1101.3 819.0L1101.7 819.4L1102.1 818.9L1102.5 819.4L1102.9 819.3L1103.3 819.3L1103.7 819.3L1104.1 819.7L1104.5 819.5L1104.9 819.6L1105.3 819.0L1105.7 819.4L1106.1 819.0L1106.5 819.3L1106.9 816.9L1107.3 819.3L1107.7 819.4L1108.1 819.4L1108.5 820.0L1108.9 819.4L1109.3 819.0L1109.7 819.4L1110.1 819.6L1110.5 819.1L1110.9 819.4L1111.3 819.1L1111.7 819.4L1112.1 819.0L1112.5 819.4L1112.9 819.1L1113.3 819.5L1113.7 819.3L1114.1 819.3L1114.5 819.3L1114.9 819.1L1115.3 819.0L1115.7 819.2L1116.1 819.3L1116.5 819.2L1116.9 817.8L1117.3 819.0L1117.7 819.4L1118.1 819.3L1118.5 819.1L1118.9 819.3L1119.3 819.4L1119.7 819.2L1120.1 819.3L1120.5 819.4L1120.9 819.4L1121.3 819.2L1121.7 818.7L1122.1 819.3L1122.5 818.9L1122.9 819.1L1123.3 819.1L1123.7 819.4L1124.1 819.3L1124.5 818.6L1124.9 819.2L1125.3 819.3L1125.7 818.9L1126.1 819.6L1126.5 819.0L1126.9 819.0L1127.3 818.9L1127.7 819.7L1128.1 818.9L1128.5 819.4L1128.9 818.9L1129.3 819.4L1129.7 819.1L1130.1 819.1L1130.5 819.0L1130.9 819.2L1131.3 819.3L1131.7 819.4L1132.1 819.2L1132.5 818.9L1132.9 819.2L1133.3 818.8L1133.7 818.9L1134.1 819.2L1134.5 819.2L1134.9 819.1L1135.3 819.0L1135.7 818.8L1136.1 819.0L1136.5 819.1L1136.9 819.0L1137.3 819.2L1137.7 819.1L1138.1 819.0L1138.5 819.1L1138.9 818.9L1139.3 818.9L1139.7 818.9L1140.1 819.5L1140.5 819.2L1140.9 819.2L1141.3 818.6L1141.7 819.0L1142.1 819.5L1142.5 819.1L1142.9 819.0L1143.3 819.3L1143.7 819.6L1144.1 819.0L1144.5 819.1L1144.9 819.0L1145.3 819.1L1145.7 818.8L1146.1 818.7L1146.5 819.4L1146.9 818.9L1147.3 818.9L1147.7 819.0L1148.1 819.0L1148.5 818.9L1148.9 818.9L1149.3 819.3L1149.7 819.0L1150.1 819.2L1150.5 819.5L1150.9 818.9L1151.3 819.4L1151.7 819.0L1152.1 819.2L1152.5 819.0L1152.9 819.3L1153.3 819.7L1153.7 819.1L1154.1 819.2L1154.5 819.1L1154.9 819.5L1155.3 818.6L1155.7 819.0L1156.1 819.1L1156.5 819.1L1156.9 819.4L1157.3 819.2L1157.7 818.9L1158.1 819.3L1158.5 818.9L1158.9 818.5L1159.3 819.0L1159.7 818.8L1160.1 819.1L1160.5 819.0L1160.9 817.8L1161.3 819.1L1161.7 819.1L1162.1 819.1L1162.5 819.1L1162.9 819.1L1163.3 818.9L1163.7 819.2L1164.1 818.8L1164.5 819.0L1164.9 819.2L1165.3 818.8L1165.7 819.1L1166.1 819.2L1166.5 819.1L1166.9 819.0L1167.3 819.2L1167.7 819.1L1168.1 818.4L1168.5 818.9L1168.9 819.0L1169.3 818.7L1169.7 818.8L1170.1 819.2L1170.5 818.9L1170.9 819.1L1171.3 819.4L1171.7 818.7L1172.1 818.9L1172.5 818.8L1172.9 818.8L1173.3 819.2L1173.7 819.1L1174.1 818.6L1174.5 819.3L1174.9 819.1L1175.3 819.1L1175.7 819.1L1176.1 819.1L1176.5 819.0L1176.9 819.0L1177.3 819.2L1177.7 819.5L1178.1 818.8L1178.5 819.1L1178.9 819.1L1179.3 819.1L1179.7 818.7L1180.1 819.0L1180.5 819.0L1180.9 818.9L1181.3 819.2L1181.7 819.3L1182.1 819.0L1182.5 819.0L1182.9 818.9L1183.3 819.1L1183.7 818.9L1184.1 819.3L1184.5 818.9L1184.9 818.9L1185.3 819.3L1185.7 819.2L1186.1 819.5L1186.5 819.1L1186.9 818.9L1187.3 819.2L1187.7 818.9L1188.1 819.0L1188.5 819.0L1188.9 819.0L1189.3 818.7L1189.7 819.2L1190.1 819.1L1190.5 819.3L1190.9 819.0L1191.3 819.3L1191.7 818.9L1192.1 819.4L1192.5 819.4L1192.9 818.7L1193.3 819.6L1193.7 819.3L1194.1 819.2L1194.5 819.1L1194.9 819.0L1195.3 819.6L1195.7 819.5L1196.1 818.9L1196.5 819.2L1196.9 819.3L1197.3 819.3L1197.7 818.9L1198.1 819.2L1198.5 819.4L1198.9 819.0L1199.3 819.2L1199.7 818.9L1200.1 819.2L1200.5 819.4L1200.9 819.4L1201.3 819.3L1201.7 819.3L1202.1 819.3L1202.5 819.8L1202.9 819.4L1203.3 819.3L1203.7 819.7L1204.1 819.0L1204.5 819.4L1204.9 819.4L1205.3 819.2L1205.7 819.3L1206.1 818.8L1206.5 819.5L1206.9 819.0L1207.3 819.2L1207.7 819.2L1208.1 819.8L1208.5 819.6L1208.9 819.6L1209.3 819.2L1209.7 819.2L1210.1 819.7L1210.5 819.2L1210.9 819.3L1211.3 819.2L1211.7 819.8L1212.1 819.2L1212.5 819.4L1212.9 819.3L1213.3 819.2L1213.7 819.0L1214.1 819.3L1214.5 819.3L1214.9 819.8L1215.3 819.4L1215.7 820.0L1216.1 819.7L1216.5 819.4L1216.9 819.5L1217.3 819.7L1217.7 819.7L1218.1 819.3L1218.5 819.5L1218.9 819.3L1219.3 819.6L1219.7 819.8L1220.1 819.3L1220.5 819.5L1220.9 819.1L1221.3 819.6L1221.7 819.1L1222.1 819.2L1222.5 819.2L1222.9 819.5L1223.3 819.9L1223.7 819.8L1224.1 819.6L1224.5 819.2L1224.9 819.6L1225.3 819.6L1225.7 819.5" fill="none" stroke="#8000ff" stroke-width="6.0" stroke-linejoin="round" stroke-linecap="butt"/>
<use href="#C" x="340.5" y="211.5"/><use href="#S" x="367.0" y="214.8"/><use href="#D" x="453.1" y="151.4"/><use href="#S" x="451.5" y="170.0"/><use href="#D" x="464.0" y="143.9"/><use href="#A" x="464.5" y="161.0"/><use href="#C" x="470.8" y="192.6"/><use href="#D" x="495.4" y="153.0"/><use href="#C" x="495.4" y="168.9"/><use href="#D" x="524.0" y="27.0"/><use href="#A" x="545.6" y="144.6"/><use href="#C" x="546.7" y="159.6"/><use href="#S" x="546.0" y="177.2"/><use href="#C" x="687.8" y="216.0"/><use href="#D" x="706.0" y="195.7"/><use href="#A" x="816.6" y="202.7"/><use href="#S" x="853.6" y="197.4"/><use href="#C" x="854.6" y="178.8"/><use href="#D" x="854.6" y="163.2"/><use href="#C" x="878.8" y="215.6"/><use href="#C" x="890.7" y="215.6"/><use href="#C" x="957.2" y="199.3"/><use href="#D" x="957.2" y="183.3"/><use href="#A" x="989.3" y="210.5"/><use href="#A" x="1041.7" y="200.6"/><use href="#D" x="1042.5" y="183.3"/><use href="#C" x="1060.3" y="206.3"/><use href="#D" x="1060.3" y="190.0"/><use href="#C" x="1195.0" y="216.6"/><use href="#P" x="339.5" y="401.0"/><use href="#C" x="367.6" y="403.5"/><use href="#S" x="439.8" y="393.3"/><use href="#C" x="439.8" y="375.0"/><use href="#S" x="461.3" y="334.6"/><use href="#C" x="462.0" y="317.5"/><use href="#A" x="461.3" y="301.4"/><use href="#D" x="460.8" y="283.6"/><use href="#S" x="471.5" y="386.6"/><use href="#x" x="472.0" y="368.9"/><use href="#S" x="485.3" y="387.3"/><use href="#p" x="484.5" y="368.4"/><use href="#H" x="514.7" y="286.4"/><use href="#D" x="514.7" y="266.9"/><use href="#P" x="515.4" y="248.3"/><use href="#S" x="528.4" y="339.7"/><use href="#C" x="528.9" y="325.0"/><use href="#D" x="528.9" y="309.0"/><use href="#X" x="528.9" y="290.1"/><use href="#S" x="543.7" y="328.0"/><use href="#A" x="543.7" y="310.0"/><use href="#S" x="555.0" y="339.7"/><use href="#P" x="557.7" y="318.8"/><use href="#C" x="587.0" y="406.0"/><use href="#C" x="688.0" y="406.0"/><use href="#D" x="717.9" y="401.4"/><use href="#P" x="718.7" y="379.2"/><use href="#H" x="769.7" y="397.8"/><use href="#S" x="813.8" y="386.6"/><use href="#A" x="813.8" y="370.8"/><use href="#X" x="813.8" y="350.4"/><use href="#S" x="891.7" y="392.5"/><use href="#X" x="891.7" y="371.6"/><use href="#S" x="921.7" y="397.8"/><use href="#H" x="982.7" y="382.9"/><use href="#A" x="982.7" y="365.2"/><use href="#D" x="982.7" y="346.8"/><use href="#S" x="1038.8" y="401.3"/><use href="#A" x="1038.8" y="383.7"/><use href="#D" x="1038.8" y="365.2"/><use href="#C" x="1134.5" y="406.5"/><use href="#H" x="1173.0" y="401.0"/><use href="#S" x="338.8" y="605.9"/><use href="#P" x="339.5" y="584.2"/><use href="#C" x="367.6" y="605.9"/><use href="#S" x="439.8" y="605.9"/><use href="#C" x="440.3" y="587.5"/><use href="#S" x="462.5" y="568.9"/><use href="#D" x="462.5" y="549.2"/><use href="#C" x="462.5" y="532.4"/><use href="#A" x="462.5" y="516.5"/><use href="#S" x="479.9" y="604.6"/><use href="#P" x="476.0" y="585.4"/><use href="#H" x="511.5" y="450.8"/><use href="#D" x="511.5" y="432.3"/><use href="#S" x="528.9" y="572.7"/><use href="#D" x="528.9" y="552.3"/><use href="#S" x="545.7" y="557.4"/><use href="#C" x="545.7" y="540.3"/><use href="#A" x="545.0" y="525.5"/><use href="#P" x="545.0" y="506.9"/><use href="#S" x="560.3" y="585.4"/><use href="#S" x="688.5" y="607.8"/><use href="#H" x="763.6" y="601.0"/><use href="#P" x="763.0" y="580.7"/><use href="#S" x="816.7" y="596.4"/><use href="#C" x="816.7" y="578.0"/><use href="#A" x="816.7" y="563.0"/><use href="#P" x="872.8" y="607.2"/><use href="#S" x="890.5" y="604.5"/><use href="#H" x="970.5" y="591.8"/><use href="#D" x="970.5" y="572.0"/><use href="#C" x="970.5" y="551.7"/><use href="#S" x="987.3" y="601.0"/><use href="#C" x="987.3" y="582.9"/><use href="#A" x="988.1" y="569.3"/><use href="#A" x="1041.5" y="609.2"/><use href="#C" x="1137.8" y="610.5"/><use href="#H" x="1160.8" y="602.7"/><use href="#P" x="339.5" y="800.5"/><use href="#S" x="367.6" y="802.3"/><use href="#C" x="440.3" y="804.8"/><use href="#D" x="453.1" y="740.5"/><use href="#C" x="464.6" y="762.2"/><use href="#A" x="464.6" y="748.7"/><use href="#P" x="464.6" y="728.8"/><use href="#S" x="478.6" y="800.2"/><use href="#P" x="478.6" y="779.3"/><use href="#D" x="496.5" y="779.3"/><use href="#S" x="511.8" y="749.2"/><use href="#D" x="511.3" y="728.3"/><use href="#D" x="525.3" y="719.3"/><use href="#C" x="547.0" y="752.5"/><use href="#A" x="546.2" y="737.2"/><use href="#P" x="547.0" y="717.6"/><use href="#C" x="707.7" y="801.7"/><use href="#P" x="707.7" y="782.5"/><use href="#S" x="762.5" y="803.0"/><use href="#C" x="816.9" y="789.4"/><use href="#A" x="816.4" y="773.6"/><use href="#D" x="816.4" y="757.0"/><use href="#S" x="890.9" y="803.0"/><use href="#C" x="961.8" y="800.5"/><use href="#A" x="962.4" y="786.4"/><use href="#C" x="987.6" y="798.6"/><use href="#D" x="986.8" y="781.0"/><use href="#C" x="1042.9" y="800.0"/><use href="#A" x="1042.4" y="785.1"/><use href="#D" x="1062.7" y="800.5"/><use href="#S" x="1133.7" y="804.9"/>
<text x="599.4" y="48.8" font-size="31.5"><tspan>Ti</tspan><tspan font-size="21" dy="8">5</tspan><tspan dy="-8">Si</tspan><tspan font-size="21" dy="8">3</tspan><tspan dy="-8">-</tspan></text><use href="#S" x="696.2" y="40.1"/><text x="723.6" y="48.8" font-size="31.5"><tspan>Ti</tspan><tspan font-size="21" dy="8">3</tspan><tspan dy="-8">Al-</tspan></text><use href="#D" x="815.3" y="40.5"/><text x="599.7" y="102.0" font-size="31.5"><tspan>TiC-</tspan></text><g transform="translate(667.6 90.5) scale(1.05)"><use href="#A"/></g><text x="692.5" y="102.0" font-size="31.5"><tspan>Ti</tspan><tspan font-size="21" dy="8">8</tspan><tspan dy="-8">C</tspan><tspan font-size="21" dy="8">5</tspan><tspan dy="-8">-</tspan></text><g transform="translate(779.2 93.5) scale(0.97)"><use href="#C"/></g><line x1="836.8" y1="44.5" x2="933.0" y2="44.5" stroke="#ff0000" stroke-width="5.6" stroke-linecap="round"/><text x="933.0" y="58.7" font-size="43.5">Ti-Al-SiC-Cr<tspan font-size="30" dy="11.3">0</tspan></text><text x="599.4" y="276.8" font-size="31.5"><tspan>Ti</tspan><tspan font-size="21" dy="8">5</tspan><tspan dy="-8">Si</tspan><tspan font-size="21" dy="8">3</tspan><tspan dy="-8">-</tspan></text><use href="#S" x="696.2" y="268.1"/><text x="723.6" y="276.8" font-size="31.5"><tspan>Ti</tspan><tspan font-size="21" dy="8">3</tspan><tspan dy="-8">Al-</tspan></text><use href="#D" x="815.3" y="268.5"/><text x="599.5" y="330.5" font-size="31.5"><tspan>Cr</tspan><tspan font-size="21" dy="8">2</tspan><tspan dy="-8">AlC-</tspan></text><use href="#P" x="713.6" y="322.0"/><text x="741.1" y="330.5" font-size="31.5"><tspan>(Si,Al)</tspan><tspan font-size="21" dy="8">2</tspan><tspan dy="-8">Cr-</tspan></text><use href="#X" x="888.7" y="321.9"/><text x="915.3" y="330.5" font-size="31.5"><tspan>Ti</tspan><tspan font-size="21" dy="8">4</tspan><tspan dy="-8">Cr-</tspan></text><use href="#H" x="1007.1" y="323.0"/><text x="1035.5" y="330.5" font-size="31.5"><tspan>Ti</tspan><tspan font-size="21" dy="8">8</tspan><tspan dy="-8">C</tspan><tspan font-size="21" dy="8">5</tspan><tspan dy="-8">-</tspan></text><g transform="translate(1122.5 322.0) scale(0.97)"><use href="#C"/></g><text x="1145.8" y="330.5" font-size="31.5"><tspan>TiC-</tspan></text><g transform="translate(1213.4 319.0) scale(1.05)"><use href="#A"/></g><line x1="836.5" y1="268.1" x2="933.0" y2="268.1" stroke="#0000ff" stroke-width="5.6" stroke-linecap="round"/><text x="933.8" y="282.1" font-size="43.5">Ti-Al-SiC-Cr<tspan font-size="30" dy="11.3">5</tspan></text><text x="591.6" y="474.8" font-size="31.5"><tspan>Ti</tspan><tspan font-size="21" dy="8">5</tspan><tspan dy="-8">Si</tspan><tspan font-size="21" dy="8">3</tspan><tspan dy="-8">-</tspan></text><use href="#S" x="688.4" y="466.1"/><text x="715.8" y="474.8" font-size="31.5"><tspan>Ti</tspan><tspan font-size="21" dy="8">3</tspan><tspan dy="-8">Al-</tspan></text><use href="#D" x="807.5" y="466.5"/><text x="591.6" y="528.8" font-size="31.5"><tspan>Cr</tspan><tspan font-size="21" dy="8">2</tspan><tspan dy="-8">AlC-</tspan></text><use href="#P" x="706.7" y="520.3"/><text x="734.1" y="528.8" font-size="31.5"><tspan>Ti</tspan><tspan font-size="21" dy="8">4</tspan><tspan dy="-8">Cr-</tspan></text><use href="#H" x="824.8" y="521.3"/><text x="853.6" y="528.8" font-size="31.5"><tspan>Ti</tspan><tspan font-size="21" dy="8">8</tspan><tspan dy="-8">C</tspan><tspan font-size="21" dy="8">5</tspan><tspan dy="-8">-</tspan></text><g transform="translate(940.2 520.3) scale(0.97)"><use href="#C"/></g><text x="963.3" y="528.8" font-size="31.5"><tspan>TiC-</tspan></text><g transform="translate(1030.5 517.3) scale(1.05)"><use href="#A"/></g><line x1="836.7" y1="465.1" x2="932.6" y2="465.1" stroke="#00e000" stroke-width="5.6" stroke-linecap="round"/><text x="932.6" y="479.1" font-size="43.5">Ti-Al-SiC-Cr<tspan font-size="30" dy="11.3">10</tspan></text><text x="595.6" y="675.5" font-size="31.5"><tspan>Ti</tspan><tspan font-size="21" dy="8">5</tspan><tspan dy="-8">Si</tspan><tspan font-size="21" dy="8">3</tspan><tspan dy="-8">-</tspan></text><use href="#S" x="692.4" y="666.8"/><text x="719.8" y="675.5" font-size="31.5"><tspan>Ti</tspan><tspan font-size="21" dy="8">3</tspan><tspan dy="-8">Al-</tspan></text><use href="#D" x="811.5" y="667.2"/><text x="595.7" y="729.3" font-size="31.5"><tspan>Cr</tspan><tspan font-size="21" dy="8">2</tspan><tspan dy="-8">AlC-</tspan></text><use href="#P" x="710.5" y="720.8"/><text x="738.2" y="729.3" font-size="31.5"><tspan>Ti</tspan><tspan font-size="21" dy="8">8</tspan><tspan dy="-8">C</tspan><tspan font-size="21" dy="8">5</tspan><tspan dy="-8">-</tspan></text><g transform="translate(824.5 720.8) scale(0.97)"><use href="#C"/></g><text x="852.1" y="729.3" font-size="31.5"><tspan>TiC-</tspan></text><g transform="translate(915.4 717.8) scale(1.05)"><use href="#A"/></g><line x1="834.1" y1="665.7" x2="929.2" y2="665.7" stroke="#8000ff" stroke-width="5.6" stroke-linecap="round"/><text x="929.6" y="680.3" font-size="43.5">Ti-Al-SiC-Cr<tspan font-size="30" dy="11.3">15</tspan></text>
<rect x="90.2" y="4.3" width="1136.4" height="835.4" fill="none" stroke="#000" stroke-width="2.8"/><path d="M113.6 839.7V833.2M137.3 839.7V833.2M160.9 839.7V833.2M184.6 839.7V833.2M208.3 839.7V833.2M232.0 839.7V825.7M255.6 839.7V833.2M279.3 839.7V833.2M303.0 839.7V833.2M326.7 839.7V833.2M350.3 839.7V833.2M374.0 839.7V825.7M397.7 839.7V833.2M421.4 839.7V833.2M445.0 839.7V833.2M468.7 839.7V833.2M492.4 839.7V833.2M516.1 839.7V825.7M539.8 839.7V833.2M563.4 839.7V833.2M587.1 839.7V833.2M610.8 839.7V833.2M634.5 839.7V833.2M658.1 839.7V825.7M681.8 839.7V833.2M705.5 839.7V833.2M729.2 839.7V833.2M752.8 839.7V833.2M776.5 839.7V833.2M800.2 839.7V825.7M823.9 839.7V833.2M847.6 839.7V833.2M871.2 839.7V833.2M894.9 839.7V833.2M918.6 839.7V833.2M942.3 839.7V825.7M965.9 839.7V833.2M989.6 839.7V833.2M1013.3 839.7V833.2M1037.0 839.7V833.2M1060.6 839.7V833.2M1084.3 839.7V825.7M1108.0 839.7V833.2M1131.7 839.7V833.2M1155.4 839.7V833.2M1179.0 839.7V833.2M1202.7 839.7V833.2" stroke="#000" stroke-width="2.8" fill="none"/><text x="91.9" y="889" font-size="48" text-anchor="middle">10</text><text x="234.0" y="889" font-size="48" text-anchor="middle">20</text><text x="376.0" y="889" font-size="48" text-anchor="middle">30</text><text x="518.1" y="889" font-size="48" text-anchor="middle">40</text><text x="660.1" y="889" font-size="48" text-anchor="middle">50</text><text x="802.2" y="889" font-size="48" text-anchor="middle">60</text><text x="944.3" y="889" font-size="48" text-anchor="middle">70</text><text x="1086.3" y="889" font-size="48" text-anchor="middle">80</text><text x="1228.4" y="889" font-size="48" text-anchor="middle">90</text><text x="658.2" y="976" font-size="48" text-anchor="middle">2θ(degree)</text><text transform="translate(37 421.7) rotate(-90)" font-size="47.3" text-anchor="middle">Intensity(a.u.)</text>
</svg>
</body></html>
